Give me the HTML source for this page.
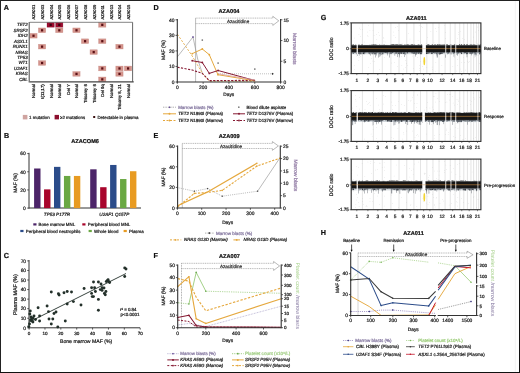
<!DOCTYPE html>
<html><head><meta charset="utf-8"><style>
html,body{margin:0;padding:0;background:#fff;width:520px;height:373px;overflow:hidden}
svg{display:block;font-family:"Liberation Sans",sans-serif;text-rendering:geometricPrecision;filter:blur(0.3px)}
</style></head><body>
<svg width="520" height="373" viewBox="0 0 520 373" font-family="Liberation Sans, sans-serif"><line x1="515.3" y1="0" x2="515.3" y2="373" stroke="#ececec" stroke-width="0.6"/>
<line x1="0" y1="0.5" x2="520" y2="0.5" stroke="#222" stroke-width="1"/>
<line x1="0.5" y1="0" x2="0.5" y2="373" stroke="#222" stroke-width="1"/>
<line x1="0" y1="372.5" x2="520" y2="372.5" stroke="#111" stroke-width="1"/>
<line x1="519.5" y1="0" x2="519.5" y2="373" stroke="#111" stroke-width="1"/>
<text x="3.7" y="10.2" font-size="7.2" text-anchor="start" font-weight="bold" font-style="normal" fill="#111" stroke="#111" stroke-width="0.22">A</text>
<text x="35.5" y="19.6" font-size="4.1" text-anchor="start" font-weight="normal" font-style="normal" fill="#222" stroke="#222" stroke-width="0.22" transform="rotate(-90 35.5 19.6)">AZA001</text>
<text x="44.1" y="19.6" font-size="4.1" text-anchor="start" font-weight="normal" font-style="normal" fill="#222" stroke="#222" stroke-width="0.22" transform="rotate(-90 44.1 19.6)">AZA003</text>
<text x="52.7" y="19.6" font-size="4.1" text-anchor="start" font-weight="normal" font-style="normal" fill="#222" stroke="#222" stroke-width="0.22" transform="rotate(-90 52.7 19.6)">AZA004</text>
<text x="61.3" y="19.6" font-size="4.1" text-anchor="start" font-weight="normal" font-style="normal" fill="#222" stroke="#222" stroke-width="0.22" transform="rotate(-90 61.3 19.6)">AZA005</text>
<text x="69.9" y="19.6" font-size="4.1" text-anchor="start" font-weight="normal" font-style="normal" fill="#222" stroke="#222" stroke-width="0.22" transform="rotate(-90 69.9 19.6)">AZA006</text>
<text x="78.5" y="19.6" font-size="4.1" text-anchor="start" font-weight="normal" font-style="normal" fill="#222" stroke="#222" stroke-width="0.22" transform="rotate(-90 78.5 19.6)">AZA007</text>
<text x="87.1" y="19.6" font-size="4.1" text-anchor="start" font-weight="normal" font-style="normal" fill="#222" stroke="#222" stroke-width="0.22" transform="rotate(-90 87.1 19.6)">AZA008</text>
<text x="95.7" y="19.6" font-size="4.1" text-anchor="start" font-weight="normal" font-style="normal" fill="#222" stroke="#222" stroke-width="0.22" transform="rotate(-90 95.7 19.6)">AZA009</text>
<text x="104.3" y="19.6" font-size="4.1" text-anchor="start" font-weight="normal" font-style="normal" fill="#222" stroke="#222" stroke-width="0.22" transform="rotate(-90 104.3 19.6)">AZA011</text>
<text x="112.9" y="19.6" font-size="4.1" text-anchor="start" font-weight="normal" font-style="normal" fill="#222" stroke="#222" stroke-width="0.22" transform="rotate(-90 112.9 19.6)">AZA013</text>
<text x="121.5" y="19.6" font-size="4.1" text-anchor="start" font-weight="normal" font-style="normal" fill="#222" stroke="#222" stroke-width="0.22" transform="rotate(-90 121.5 19.6)">AZA014</text>
<text x="130.1" y="19.6" font-size="4.1" text-anchor="start" font-weight="normal" font-style="normal" fill="#222" stroke="#222" stroke-width="0.22" transform="rotate(-90 130.1 19.6)">AZA015</text>
<text x="27.7" y="26.325" font-size="4.4" text-anchor="end" font-weight="normal" font-style="italic" fill="#222" stroke="#222" stroke-width="0.22">TET2</text>
<text x="27.7" y="31.775" font-size="4.4" text-anchor="end" font-weight="normal" font-style="italic" fill="#222" stroke="#222" stroke-width="0.22">SRSF2</text>
<text x="27.7" y="37.225" font-size="4.4" text-anchor="end" font-weight="normal" font-style="italic" fill="#222" stroke="#222" stroke-width="0.22">IDH2</text>
<text x="27.7" y="42.675" font-size="4.4" text-anchor="end" font-weight="normal" font-style="italic" fill="#222" stroke="#222" stroke-width="0.22">ASXL1</text>
<text x="27.7" y="48.125" font-size="4.4" text-anchor="end" font-weight="normal" font-style="italic" fill="#222" stroke="#222" stroke-width="0.22">RUNX1</text>
<text x="27.7" y="53.575" font-size="4.4" text-anchor="end" font-weight="normal" font-style="italic" fill="#222" stroke="#222" stroke-width="0.22">NRAS</text>
<text x="27.7" y="59.025" font-size="4.4" text-anchor="end" font-weight="normal" font-style="italic" fill="#222" stroke="#222" stroke-width="0.22">TP53</text>
<text x="27.7" y="64.475" font-size="4.4" text-anchor="end" font-weight="normal" font-style="italic" fill="#222" stroke="#222" stroke-width="0.22">WT1</text>
<text x="27.7" y="69.925" font-size="4.4" text-anchor="end" font-weight="normal" font-style="italic" fill="#222" stroke="#222" stroke-width="0.22">U2AF1</text>
<text x="27.7" y="75.375" font-size="4.4" text-anchor="end" font-weight="normal" font-style="italic" fill="#222" stroke="#222" stroke-width="0.22">KRAS</text>
<text x="27.7" y="80.825" font-size="4.4" text-anchor="end" font-weight="normal" font-style="italic" fill="#222" stroke="#222" stroke-width="0.22">CBL</text>
<text x="35.5" y="84.2" font-size="4.3" text-anchor="end" font-weight="normal" font-style="normal" fill="#222" stroke="#222" stroke-width="0.22" transform="rotate(-90 35.5 84.2)">Normal</text>
<text x="44.1" y="84.2" font-size="4.3" text-anchor="end" font-weight="normal" font-style="normal" fill="#222" stroke="#222" stroke-width="0.22" transform="rotate(-90 44.1 84.2)">t(11;17)</text>
<text x="52.7" y="84.2" font-size="4.3" text-anchor="end" font-weight="normal" font-style="normal" fill="#222" stroke="#222" stroke-width="0.22" transform="rotate(-90 52.7 84.2)">Normal</text>
<text x="61.3" y="84.2" font-size="4.3" text-anchor="end" font-weight="normal" font-style="normal" fill="#222" stroke="#222" stroke-width="0.22" transform="rotate(-90 61.3 84.2)">Normal</text>
<text x="69.9" y="84.2" font-size="4.3" text-anchor="end" font-weight="normal" font-style="normal" fill="#222" stroke="#222" stroke-width="0.22" transform="rotate(-90 69.9 84.2)">Del Y</text>
<text x="78.5" y="84.2" font-size="4.3" text-anchor="end" font-weight="normal" font-style="normal" fill="#222" stroke="#222" stroke-width="0.22" transform="rotate(-90 78.5 84.2)">Normal</text>
<text x="87.1" y="84.2" font-size="4.3" text-anchor="end" font-weight="normal" font-style="normal" fill="#222" stroke="#222" stroke-width="0.22" transform="rotate(-90 87.1 84.2)">Trisomy 8</text>
<text x="95.7" y="84.2" font-size="4.3" text-anchor="end" font-weight="normal" font-style="normal" fill="#222" stroke="#222" stroke-width="0.22" transform="rotate(-90 95.7 84.2)">Trisomy 8</text>
<text x="104.3" y="84.2" font-size="4.3" text-anchor="end" font-weight="normal" font-style="normal" fill="#222" stroke="#222" stroke-width="0.22" transform="rotate(-90 104.3 84.2)">Del 9q</text>
<text x="112.9" y="84.2" font-size="4.3" text-anchor="end" font-weight="normal" font-style="normal" fill="#222" stroke="#222" stroke-width="0.22" transform="rotate(-90 112.9 84.2)">Normal</text>
<text x="121.5" y="84.2" font-size="4.3" text-anchor="end" font-weight="normal" font-style="normal" fill="#222" stroke="#222" stroke-width="0.22" transform="rotate(-90 121.5 84.2)">Trisomy 8, 21</text>
<text x="130.1" y="84.2" font-size="4.3" text-anchor="end" font-weight="normal" font-style="normal" fill="#222" stroke="#222" stroke-width="0.22" transform="rotate(-90 130.1 84.2)">Normal</text>
<rect x="47" y="22.5" width="7.3" height="4.7" fill="#9c0c2e"/>
<rect x="47" y="22.5" width="7.3" height="4.7" fill="none" stroke="#700020" stroke-width="0.5" opacity="0.5"/>
<rect x="49.6" y="23.7" width="2.2" height="2.3" fill="#3a0010"/>
<rect x="55.6" y="22.5" width="7.3" height="4.7" fill="#9c0c2e"/>
<rect x="55.6" y="22.5" width="7.3" height="4.7" fill="none" stroke="#700020" stroke-width="0.5" opacity="0.5"/>
<rect x="58.2" y="23.7" width="2.2" height="2.3" fill="#3a0010"/>
<rect x="98.6" y="22.5" width="7.3" height="4.7" fill="#d4948c"/>
<rect x="98.6" y="22.5" width="7.3" height="4.7" fill="none" stroke="#b87068" stroke-width="0.5" opacity="0.5"/>
<rect x="101.2" y="23.7" width="2.2" height="2.3" fill="#5a1015"/>
<rect x="38.4" y="27.95" width="7.3" height="4.7" fill="#d4948c"/>
<rect x="38.4" y="27.95" width="7.3" height="4.7" fill="none" stroke="#b87068" stroke-width="0.5" opacity="0.5"/>
<rect x="41" y="29.15" width="2.2" height="2.3" fill="#5a1015"/>
<rect x="55.6" y="27.95" width="7.3" height="4.7" fill="#d4948c"/>
<rect x="55.6" y="27.95" width="7.3" height="4.7" fill="none" stroke="#b87068" stroke-width="0.5" opacity="0.5"/>
<rect x="58.2" y="29.15" width="2.2" height="2.3" fill="#5a1015"/>
<rect x="72.8" y="27.95" width="7.3" height="4.7" fill="#d4948c"/>
<rect x="72.8" y="27.95" width="7.3" height="4.7" fill="none" stroke="#b87068" stroke-width="0.5" opacity="0.5"/>
<rect x="75.4" y="29.15" width="2.2" height="2.3" fill="#5a1015"/>
<rect x="29.8" y="33.4" width="7.3" height="4.7" fill="#d4948c"/>
<rect x="29.8" y="33.4" width="7.3" height="4.7" fill="none" stroke="#b87068" stroke-width="0.5" opacity="0.5"/>
<rect x="32.4" y="34.6" width="2.2" height="2.3" fill="#5a1015"/>
<rect x="81.4" y="38.85" width="7.3" height="4.7" fill="#d4948c"/>
<rect x="81.4" y="38.85" width="7.3" height="4.7" fill="none" stroke="#b87068" stroke-width="0.5" opacity="0.5"/>
<rect x="84" y="40.05" width="2.2" height="2.3" fill="#5a1015"/>
<rect x="98.6" y="38.85" width="7.3" height="4.7" fill="#d4948c"/>
<rect x="98.6" y="38.85" width="7.3" height="4.7" fill="none" stroke="#b87068" stroke-width="0.5" opacity="0.5"/>
<rect x="101.2" y="40.05" width="2.2" height="2.3" fill="#5a1015"/>
<rect x="38.4" y="44.3" width="7.3" height="4.7" fill="#d4948c"/>
<rect x="38.4" y="44.3" width="7.3" height="4.7" fill="none" stroke="#b87068" stroke-width="0.5" opacity="0.5"/>
<rect x="41" y="45.5" width="2.2" height="2.3" fill="#5a1015"/>
<rect x="115.8" y="44.3" width="7.3" height="4.7" fill="#d4948c"/>
<rect x="115.8" y="44.3" width="7.3" height="4.7" fill="none" stroke="#b87068" stroke-width="0.5" opacity="0.5"/>
<rect x="118.4" y="45.5" width="2.2" height="2.3" fill="#5a1015"/>
<rect x="90" y="49.75" width="7.3" height="4.7" fill="#d4948c"/>
<rect x="90" y="49.75" width="7.3" height="4.7" fill="none" stroke="#b87068" stroke-width="0.5" opacity="0.5"/>
<rect x="92.6" y="50.95" width="2.2" height="2.3" fill="#5a1015"/>
<rect x="38.4" y="60.65" width="7.3" height="4.7" fill="#d4948c"/>
<rect x="38.4" y="60.65" width="7.3" height="4.7" fill="none" stroke="#b87068" stroke-width="0.5" opacity="0.5"/>
<rect x="41" y="61.85" width="2.2" height="2.3" fill="#5a1015"/>
<rect x="98.6" y="66.1" width="7.3" height="4.7" fill="#d4948c"/>
<rect x="98.6" y="66.1" width="7.3" height="4.7" fill="none" stroke="#b87068" stroke-width="0.5" opacity="0.5"/>
<rect x="101.2" y="67.3" width="2.2" height="2.3" fill="#5a1015"/>
<rect x="115.8" y="66.1" width="7.3" height="4.7" fill="#d4948c"/>
<rect x="115.8" y="66.1" width="7.3" height="4.7" fill="none" stroke="#b87068" stroke-width="0.5" opacity="0.5"/>
<rect x="118.4" y="67.3" width="2.2" height="2.3" fill="#5a1015"/>
<rect x="124.4" y="66.1" width="7.3" height="4.7" fill="#d4948c"/>
<rect x="124.4" y="66.1" width="7.3" height="4.7" fill="none" stroke="#b87068" stroke-width="0.5" opacity="0.5"/>
<rect x="127" y="67.3" width="2.2" height="2.3" fill="#5a1015"/>
<rect x="72.8" y="71.55" width="7.3" height="4.7" fill="#d4948c"/>
<rect x="72.8" y="71.55" width="7.3" height="4.7" fill="none" stroke="#b87068" stroke-width="0.5" opacity="0.5"/>
<rect x="75.4" y="72.75" width="2.2" height="2.3" fill="#5a1015"/>
<rect x="115.8" y="71.55" width="7.3" height="4.7" fill="#d4948c"/>
<rect x="115.8" y="71.55" width="7.3" height="4.7" fill="none" stroke="#b87068" stroke-width="0.5" opacity="0.5"/>
<rect x="118.4" y="72.75" width="2.2" height="2.3" fill="#5a1015"/>
<rect x="98.6" y="77" width="7.3" height="4.7" fill="#d4948c"/>
<rect x="98.6" y="77" width="7.3" height="4.7" fill="none" stroke="#b87068" stroke-width="0.5" opacity="0.5"/>
<rect x="101.2" y="78.2" width="2.2" height="2.3" fill="#5a1015"/>
<line x1="29.7" y1="22.3" x2="132.6" y2="22.3" stroke="#666" stroke-width="0.8"/>
<line x1="132.6" y1="22.3" x2="132.6" y2="81.8" stroke="#555" stroke-width="0.9"/>
<line x1="29.7" y1="81.8" x2="133.7" y2="81.8" stroke="#444" stroke-width="1.2"/>
<line x1="29.2" y1="21.9" x2="29.2" y2="82.4" stroke="#555" stroke-width="1.1"/>
<rect x="22.8" y="114.9" width="4.6" height="4.5" fill="#cfa4a0"/>
<text x="29.1" y="118.8" font-size="4.4" text-anchor="start" font-weight="normal" font-style="normal" fill="#222" stroke="#222" stroke-width="0.22">1 mutation</text>
<rect x="54.6" y="114.9" width="4.4" height="4.5" fill="#8c0f2e"/>
<text x="60" y="118.8" font-size="4.4" text-anchor="start" font-weight="normal" font-style="normal" fill="#222" stroke="#222" stroke-width="0.22">≥2 mutations</text>
<rect x="93.2" y="116" width="2" height="2" fill="#3a1010"/>
<text x="97.4" y="118.8" font-size="4.4" text-anchor="start" font-weight="normal" font-style="normal" fill="#222" stroke="#222" stroke-width="0.22">Detectable in plasma</text>
<text x="4.1" y="137.8" font-size="7.2" text-anchor="start" font-weight="bold" font-style="normal" fill="#111" stroke="#111" stroke-width="0.22">B</text>
<text x="85.1" y="142.8" font-size="5.6" text-anchor="middle" font-weight="bold" font-style="normal" fill="#111" stroke="#111" stroke-width="0.22">AZACOM6</text>
<line x1="29" y1="152.8" x2="29" y2="208.5" stroke="#333" stroke-width="1"/>
<line x1="28.7" y1="208" x2="141" y2="208" stroke="#333" stroke-width="1"/>
<line x1="27.2" y1="208.1" x2="29" y2="208.1" stroke="#333" stroke-width="0.8"/>
<text x="25.8" y="209.9" font-size="4.9" text-anchor="end" font-weight="normal" font-style="normal" fill="#222" stroke="#222" stroke-width="0.22">0</text>
<line x1="27.2" y1="189.933" x2="29" y2="189.933" stroke="#333" stroke-width="0.8"/>
<text x="25.8" y="191.733" font-size="4.9" text-anchor="end" font-weight="normal" font-style="normal" fill="#222" stroke="#222" stroke-width="0.22">20</text>
<line x1="27.2" y1="171.767" x2="29" y2="171.767" stroke="#333" stroke-width="0.8"/>
<text x="25.8" y="173.567" font-size="4.9" text-anchor="end" font-weight="normal" font-style="normal" fill="#222" stroke="#222" stroke-width="0.22">40</text>
<line x1="27.2" y1="153.6" x2="29" y2="153.6" stroke="#333" stroke-width="0.8"/>
<text x="25.8" y="155.4" font-size="4.9" text-anchor="end" font-weight="normal" font-style="normal" fill="#222" stroke="#222" stroke-width="0.22">60</text>
<text x="17.2" y="183" font-size="5" text-anchor="middle" font-weight="normal" font-style="normal" fill="#222" stroke="#222" stroke-width="0.22" transform="rotate(-90 17.2 183)">MAF (%)</text>
<rect x="34.1" y="168.497" width="6.4" height="39.6033" fill="#4c2468"/>
<rect x="44.05" y="189.388" width="6.4" height="18.7117" fill="#a8052c"/>
<rect x="54" y="166.862" width="6.4" height="41.2383" fill="#2b4c8a"/>
<rect x="63.95" y="175.945" width="6.4" height="32.155" fill="#6aa843"/>
<rect x="73.9" y="175.945" width="6.4" height="32.155" fill="#e89b22"/>
<rect x="90.2" y="169.314" width="6.4" height="38.7858" fill="#4c2468"/>
<rect x="100.15" y="187.208" width="6.4" height="20.8917" fill="#a8052c"/>
<rect x="110.1" y="164.954" width="6.4" height="43.1458" fill="#2b4c8a"/>
<rect x="120.05" y="179.033" width="6.4" height="29.0667" fill="#6aa843"/>
<rect x="130" y="171.222" width="6.4" height="36.8783" fill="#e89b22"/>
<text x="57" y="216.3" font-size="4.6" text-anchor="middle" font-weight="normal" font-style="italic" fill="#222" stroke="#222" stroke-width="0.22">TP53 P177R</text>
<text x="114.3" y="216.3" font-size="4.6" text-anchor="middle" font-weight="normal" font-style="italic" fill="#222" stroke="#222" stroke-width="0.22">U2AF1 Q157P</text>
<rect x="33.3" y="223.3" width="3.2" height="2.2" fill="#4c2468"/>
<text x="38.5" y="226.1" font-size="4.4" text-anchor="start" font-weight="normal" font-style="normal" fill="#222" stroke="#222" stroke-width="0.22">Bone marrow MNL</text>
<rect x="82.3" y="223.3" width="3.2" height="2.2" fill="#a8052c"/>
<text x="87.8" y="226.1" font-size="4.4" text-anchor="start" font-weight="normal" font-style="normal" fill="#222" stroke="#222" stroke-width="0.22">Peripheral blood MNL</text>
<rect x="20.3" y="229.9" width="3.2" height="2.2" fill="#2b4c8a"/>
<text x="25.8" y="232.7" font-size="4.4" text-anchor="start" font-weight="normal" font-style="normal" fill="#222" stroke="#222" stroke-width="0.22">Peripheral blood neutrophils</text>
<rect x="88.6" y="229.9" width="3.2" height="2.2" fill="#6aa843"/>
<text x="94" y="232.7" font-size="4.4" text-anchor="start" font-weight="normal" font-style="normal" fill="#222" stroke="#222" stroke-width="0.22">Whole blood</text>
<rect x="123.6" y="229.9" width="3.2" height="2.2" fill="#e89b22"/>
<text x="129" y="232.7" font-size="4.4" text-anchor="start" font-weight="normal" font-style="normal" fill="#222" stroke="#222" stroke-width="0.22">Plasma</text>
<text x="3.7" y="257.6" font-size="7.2" text-anchor="start" font-weight="bold" font-style="normal" fill="#111" stroke="#111" stroke-width="0.22">C</text>
<line x1="29" y1="260" x2="29" y2="328.3" stroke="#333" stroke-width="1"/>
<line x1="28.6" y1="327.8" x2="140" y2="327.8" stroke="#333" stroke-width="1"/>
<line x1="27.2" y1="327.8" x2="29" y2="327.8" stroke="#333" stroke-width="0.8"/>
<text x="26.1" y="329.55" font-size="4.9" text-anchor="end" font-weight="normal" font-style="normal" fill="#222" stroke="#222" stroke-width="0.22">0</text>
<line x1="27.2" y1="318.243" x2="29" y2="318.243" stroke="#333" stroke-width="0.8"/>
<text x="26.1" y="319.993" font-size="4.9" text-anchor="end" font-weight="normal" font-style="normal" fill="#222" stroke="#222" stroke-width="0.22">10</text>
<line x1="27.2" y1="308.686" x2="29" y2="308.686" stroke="#333" stroke-width="0.8"/>
<text x="26.1" y="310.436" font-size="4.9" text-anchor="end" font-weight="normal" font-style="normal" fill="#222" stroke="#222" stroke-width="0.22">20</text>
<line x1="27.2" y1="299.129" x2="29" y2="299.129" stroke="#333" stroke-width="0.8"/>
<text x="26.1" y="300.879" font-size="4.9" text-anchor="end" font-weight="normal" font-style="normal" fill="#222" stroke="#222" stroke-width="0.22">30</text>
<line x1="27.2" y1="289.571" x2="29" y2="289.571" stroke="#333" stroke-width="0.8"/>
<text x="26.1" y="291.321" font-size="4.9" text-anchor="end" font-weight="normal" font-style="normal" fill="#222" stroke="#222" stroke-width="0.22">40</text>
<line x1="27.2" y1="280.014" x2="29" y2="280.014" stroke="#333" stroke-width="0.8"/>
<text x="26.1" y="281.764" font-size="4.9" text-anchor="end" font-weight="normal" font-style="normal" fill="#222" stroke="#222" stroke-width="0.22">50</text>
<line x1="27.2" y1="270.457" x2="29" y2="270.457" stroke="#333" stroke-width="0.8"/>
<text x="26.1" y="272.207" font-size="4.9" text-anchor="end" font-weight="normal" font-style="normal" fill="#222" stroke="#222" stroke-width="0.22">60</text>
<line x1="27.2" y1="260.9" x2="29" y2="260.9" stroke="#333" stroke-width="0.8"/>
<text x="26.1" y="262.65" font-size="4.9" text-anchor="end" font-weight="normal" font-style="normal" fill="#222" stroke="#222" stroke-width="0.22">70</text>
<line x1="29.1" y1="327.8" x2="29.1" y2="329.6" stroke="#333" stroke-width="0.8"/>
<text x="29.1" y="335" font-size="4.6" text-anchor="middle" font-weight="normal" font-style="normal" fill="#222" stroke="#222" stroke-width="0.22">0</text>
<line x1="44.97" y1="327.8" x2="44.97" y2="329.6" stroke="#333" stroke-width="0.8"/>
<text x="44.97" y="335" font-size="4.6" text-anchor="middle" font-weight="normal" font-style="normal" fill="#222" stroke="#222" stroke-width="0.22">10</text>
<line x1="60.84" y1="327.8" x2="60.84" y2="329.6" stroke="#333" stroke-width="0.8"/>
<text x="60.84" y="335" font-size="4.6" text-anchor="middle" font-weight="normal" font-style="normal" fill="#222" stroke="#222" stroke-width="0.22">20</text>
<line x1="76.71" y1="327.8" x2="76.71" y2="329.6" stroke="#333" stroke-width="0.8"/>
<text x="76.71" y="335" font-size="4.6" text-anchor="middle" font-weight="normal" font-style="normal" fill="#222" stroke="#222" stroke-width="0.22">30</text>
<line x1="92.58" y1="327.8" x2="92.58" y2="329.6" stroke="#333" stroke-width="0.8"/>
<text x="92.58" y="335" font-size="4.6" text-anchor="middle" font-weight="normal" font-style="normal" fill="#222" stroke="#222" stroke-width="0.22">40</text>
<line x1="108.45" y1="327.8" x2="108.45" y2="329.6" stroke="#333" stroke-width="0.8"/>
<text x="108.45" y="335" font-size="4.6" text-anchor="middle" font-weight="normal" font-style="normal" fill="#222" stroke="#222" stroke-width="0.22">50</text>
<line x1="124.32" y1="327.8" x2="124.32" y2="329.6" stroke="#333" stroke-width="0.8"/>
<text x="124.32" y="335" font-size="4.6" text-anchor="middle" font-weight="normal" font-style="normal" fill="#222" stroke="#222" stroke-width="0.22">60</text>
<line x1="140.19" y1="327.8" x2="140.19" y2="329.6" stroke="#333" stroke-width="0.8"/>
<text x="140.19" y="335" font-size="4.6" text-anchor="middle" font-weight="normal" font-style="normal" fill="#222" stroke="#222" stroke-width="0.22">70</text>
<text x="86.1" y="343.4" font-size="5.15" text-anchor="middle" font-weight="normal" font-style="normal" fill="#222" stroke="#222" stroke-width="0.22">Bone marrow MAF (%)</text>
<text x="16.9" y="294.7" font-size="5.4" text-anchor="middle" font-weight="normal" font-style="normal" fill="#222" stroke="#222" stroke-width="0.22" transform="rotate(-90 16.9 294.7)">Plasma MAF (%)</text>
<line x1="28.8" y1="322.2" x2="126" y2="273.5" stroke="#22302a" stroke-width="0.9"/>
<circle cx="28.8" cy="326.6" r="1.45" fill="#23302a"/>
<circle cx="30.3" cy="311" r="1.45" fill="#23302a"/>
<circle cx="31.6" cy="319" r="1.45" fill="#23302a"/>
<circle cx="32.1" cy="321" r="1.45" fill="#23302a"/>
<circle cx="32.9" cy="322" r="1.45" fill="#23302a"/>
<circle cx="34" cy="316" r="1.45" fill="#23302a"/>
<circle cx="38.1" cy="307.8" r="1.45" fill="#23302a"/>
<circle cx="39.6" cy="316" r="1.45" fill="#23302a"/>
<circle cx="39.6" cy="321" r="1.45" fill="#23302a"/>
<circle cx="47.1" cy="306" r="1.45" fill="#23302a"/>
<circle cx="48.5" cy="311.6" r="1.45" fill="#23302a"/>
<circle cx="49" cy="319" r="1.45" fill="#23302a"/>
<circle cx="51.3" cy="292" r="1.45" fill="#23302a"/>
<circle cx="51.3" cy="324" r="1.45" fill="#23302a"/>
<circle cx="52.8" cy="319" r="1.45" fill="#23302a"/>
<circle cx="54" cy="313.5" r="1.45" fill="#23302a"/>
<circle cx="56" cy="312" r="1.45" fill="#23302a"/>
<circle cx="57.8" cy="327" r="1.45" fill="#23302a"/>
<circle cx="58.4" cy="293.8" r="1.45" fill="#23302a"/>
<circle cx="59.1" cy="295" r="1.45" fill="#23302a"/>
<circle cx="64" cy="292.8" r="1.45" fill="#23302a"/>
<circle cx="65.3" cy="321" r="1.45" fill="#23302a"/>
<circle cx="67.2" cy="291.5" r="1.45" fill="#23302a"/>
<circle cx="67.2" cy="304" r="1.45" fill="#23302a"/>
<circle cx="71.5" cy="292" r="1.45" fill="#23302a"/>
<circle cx="73.4" cy="301.6" r="1.45" fill="#23302a"/>
<circle cx="81" cy="305" r="1.45" fill="#23302a"/>
<circle cx="84.1" cy="288.5" r="1.45" fill="#23302a"/>
<circle cx="91.6" cy="287.8" r="1.45" fill="#23302a"/>
<circle cx="93.5" cy="282" r="1.45" fill="#23302a"/>
<circle cx="94.6" cy="287.8" r="1.45" fill="#23302a"/>
<circle cx="91.6" cy="293.4" r="1.45" fill="#23302a"/>
<circle cx="92.2" cy="296.6" r="1.45" fill="#23302a"/>
<circle cx="93.5" cy="296.6" r="1.45" fill="#23302a"/>
<circle cx="95.4" cy="291.5" r="1.45" fill="#23302a"/>
<circle cx="98.4" cy="282" r="1.45" fill="#23302a"/>
<circle cx="98.4" cy="299.4" r="1.45" fill="#23302a"/>
<circle cx="98.4" cy="310.3" r="1.45" fill="#23302a"/>
<circle cx="100.3" cy="289.6" r="1.45" fill="#23302a"/>
<circle cx="101" cy="284" r="1.45" fill="#23302a"/>
<circle cx="102.1" cy="287.8" r="1.45" fill="#23302a"/>
<circle cx="102.1" cy="290.4" r="1.45" fill="#23302a"/>
<circle cx="104" cy="288" r="1.45" fill="#23302a"/>
<circle cx="104.4" cy="293.4" r="1.45" fill="#23302a"/>
<circle cx="105.3" cy="294.7" r="1.45" fill="#23302a"/>
<circle cx="105.9" cy="291.5" r="1.45" fill="#23302a"/>
<circle cx="106.3" cy="281.6" r="1.45" fill="#23302a"/>
<circle cx="107.2" cy="280.6" r="1.45" fill="#23302a"/>
<circle cx="108.1" cy="279.7" r="1.45" fill="#23302a"/>
<circle cx="109" cy="281.6" r="1.45" fill="#23302a"/>
<circle cx="109.6" cy="282.5" r="1.45" fill="#23302a"/>
<circle cx="124.7" cy="267.9" r="1.45" fill="#23302a"/>
<circle cx="126" cy="269" r="1.45" fill="#23302a"/>
<circle cx="124.7" cy="276.5" r="1.45" fill="#23302a"/>
<circle cx="29.5" cy="324" r="1.45" fill="#23302a"/>
<circle cx="30.5" cy="320" r="1.45" fill="#23302a"/>
<circle cx="31" cy="317" r="1.45" fill="#23302a"/>
<circle cx="29.8" cy="314" r="1.45" fill="#23302a"/>
<circle cx="33" cy="318" r="1.45" fill="#23302a"/>
<circle cx="35.5" cy="319.5" r="1.45" fill="#23302a"/>
<text x="120" y="310.9" font-size="4.4" text-anchor="start" font-weight="normal" font-style="normal" fill="#222" stroke="#222" stroke-width="0.22">r² = 0.84</text>
<text x="120.6" y="315.6" font-size="4.5" text-anchor="start" font-weight="normal" font-style="normal" fill="#222" stroke="#222" stroke-width="0.22">p&lt;0.0001</text>
<text x="153.5" y="10.2" font-size="7.2" text-anchor="start" font-weight="bold" font-style="normal" fill="#111" stroke="#111" stroke-width="0.22">D</text>
<text x="229" y="13" font-size="5.6" text-anchor="middle" font-weight="bold" font-style="normal" fill="#111" stroke="#111" stroke-width="0.22">AZA004</text>
<line x1="195.6" y1="18.1" x2="195.6" y2="82" stroke="#aaa" stroke-width="0.8"/>
<line x1="195.6" y1="18.1" x2="272.8" y2="18.1" stroke="#8a8a8a" stroke-width="0.6" stroke-dasharray="1.1,0.7"/>
<line x1="195.6" y1="23.6" x2="272.8" y2="23.6" stroke="#8a8a8a" stroke-width="0.6" stroke-dasharray="1.1,0.7"/>
<path d="M272.8 18.1L272.8 16.3L278.8 20.85L272.8 25.4L272.8 23.6" fill="none" stroke="#8a8a8a" stroke-width="0.6" stroke-linejoin="miter"/>
<text x="238.1" y="22.6" font-size="4.6" text-anchor="middle" font-weight="normal" font-style="normal" fill="#333" stroke="#333" stroke-width="0.22">Azacitidine</text>
<polyline points="177.4,56.8 193,37 197.7,59.1 202.3,73.1" fill="none" stroke="#9c9c9c" stroke-width="0.7" stroke-linejoin="round"/>
<line x1="218.1" y1="73.8" x2="272.6" y2="73.8" stroke="#9c9c9c" stroke-width="0.8" stroke-dasharray="0.8,1.2"/>
<path d="M193 35.9L194.1 37L193 38.1L191.9 37Z" fill="#5b3f8f"/>
<path d="M272.6 72.7L273.7 73.8L272.6 74.9L271.5 73.8Z" fill="#333"/>
<polyline points="177.4,34.2 192.2,56 202.3,73.1 209.3,81.2 255.1,81.2" fill="none" stroke="#e9b860" stroke-width="1" stroke-dasharray="2.2,1.4" stroke-linejoin="round"/>
<polyline points="177.4,67.2 192.2,70 202.3,73.4 209.3,80.6 255.1,80.3" fill="none" stroke="#861a33" stroke-width="1.1" stroke-dasharray="2.2,1.4" stroke-linejoin="round"/>
<polyline points="192.2,53.7 202.3,49 209.3,54.7 217.9,74.7 255.1,80.8" fill="none" stroke="#e5a83e" stroke-width="1" stroke-linejoin="round"/>
<polyline points="192.2,60.7 202.3,62.5 209.3,73.4 218.1,70.5 255.1,80.6" fill="none" stroke="#861a33" stroke-width="1" stroke-linejoin="round"/>
<line x1="218.1" y1="73.8" x2="255.1" y2="80" stroke="#d9a0a0" stroke-width="0.8"/>
<circle cx="192.2" cy="53.7" r="0.9" fill="#e5a83e"/>
<circle cx="202.3" cy="49" r="0.9" fill="#e5a83e"/>
<circle cx="209.3" cy="54.7" r="0.9" fill="#e5a83e"/>
<circle cx="217.9" cy="74.7" r="0.9" fill="#e5a83e"/>
<circle cx="192.2" cy="60.7" r="0.9" fill="#861a33"/>
<circle cx="202.3" cy="62.5" r="0.9" fill="#861a33"/>
<circle cx="209.3" cy="73.4" r="0.9" fill="#861a33"/>
<circle cx="218.1" cy="70.5" r="0.9" fill="#861a33"/>
<line x1="201.5" y1="40.1" x2="203.1" y2="40.1" stroke="#444" stroke-width="0.6"/>
<line x1="202.3" y1="39.3" x2="202.3" y2="40.9" stroke="#444" stroke-width="0.6"/>
<line x1="217.3" y1="63.1" x2="218.9" y2="63.1" stroke="#444" stroke-width="0.6"/>
<line x1="218.1" y1="62.3" x2="218.1" y2="63.9" stroke="#444" stroke-width="0.6"/>
<line x1="254" y1="69.1" x2="255.6" y2="69.1" stroke="#444" stroke-width="0.6"/>
<line x1="254.8" y1="68.3" x2="254.8" y2="69.9" stroke="#444" stroke-width="0.6"/>
<line x1="177.3" y1="19" x2="177.3" y2="82.5" stroke="#333" stroke-width="1.1"/>
<line x1="176.8" y1="82" x2="280.6" y2="82" stroke="#333" stroke-width="1.1"/>
<line x1="280.6" y1="19" x2="280.6" y2="82.5" stroke="#333" stroke-width="1.1"/>
<line x1="175.5" y1="82" x2="177.3" y2="82" stroke="#333" stroke-width="0.8"/>
<text x="174.5" y="83.75" font-size="4.9" text-anchor="end" font-weight="normal" font-style="normal" fill="#222" stroke="#222" stroke-width="0.22">0</text>
<line x1="175.5" y1="66.45" x2="177.3" y2="66.45" stroke="#333" stroke-width="0.8"/>
<text x="174.5" y="68.2" font-size="4.9" text-anchor="end" font-weight="normal" font-style="normal" fill="#222" stroke="#222" stroke-width="0.22">10</text>
<line x1="175.5" y1="50.9" x2="177.3" y2="50.9" stroke="#333" stroke-width="0.8"/>
<text x="174.5" y="52.65" font-size="4.9" text-anchor="end" font-weight="normal" font-style="normal" fill="#222" stroke="#222" stroke-width="0.22">20</text>
<line x1="175.5" y1="35.35" x2="177.3" y2="35.35" stroke="#333" stroke-width="0.8"/>
<text x="174.5" y="37.1" font-size="4.9" text-anchor="end" font-weight="normal" font-style="normal" fill="#222" stroke="#222" stroke-width="0.22">30</text>
<line x1="175.5" y1="19.8" x2="177.3" y2="19.8" stroke="#333" stroke-width="0.8"/>
<text x="174.5" y="21.55" font-size="4.9" text-anchor="end" font-weight="normal" font-style="normal" fill="#222" stroke="#222" stroke-width="0.22">40</text>
<line x1="280.6" y1="82" x2="282.4" y2="82" stroke="#333" stroke-width="0.8"/>
<text x="283.4" y="83.75" font-size="4.9" text-anchor="start" font-weight="normal" font-style="normal" fill="#222" stroke="#222" stroke-width="0.22">0</text>
<line x1="280.6" y1="61.2667" x2="282.4" y2="61.2667" stroke="#333" stroke-width="0.8"/>
<text x="283.4" y="63.0167" font-size="4.9" text-anchor="start" font-weight="normal" font-style="normal" fill="#222" stroke="#222" stroke-width="0.22">5</text>
<line x1="280.6" y1="40.5333" x2="282.4" y2="40.5333" stroke="#333" stroke-width="0.8"/>
<text x="283.4" y="42.2833" font-size="4.9" text-anchor="start" font-weight="normal" font-style="normal" fill="#222" stroke="#222" stroke-width="0.22">10</text>
<line x1="280.6" y1="19.8" x2="282.4" y2="19.8" stroke="#333" stroke-width="0.8"/>
<text x="283.4" y="21.55" font-size="4.9" text-anchor="start" font-weight="normal" font-style="normal" fill="#222" stroke="#222" stroke-width="0.22">15</text>
<line x1="177.3" y1="82" x2="177.3" y2="83.8" stroke="#333" stroke-width="0.8"/>
<text x="177.3" y="89" font-size="4.9" text-anchor="middle" font-weight="normal" font-style="normal" fill="#222" stroke="#222" stroke-width="0.22">0</text>
<line x1="203.125" y1="82" x2="203.125" y2="83.8" stroke="#333" stroke-width="0.8"/>
<text x="203.125" y="89" font-size="4.9" text-anchor="middle" font-weight="normal" font-style="normal" fill="#222" stroke="#222" stroke-width="0.22">200</text>
<line x1="228.95" y1="82" x2="228.95" y2="83.8" stroke="#333" stroke-width="0.8"/>
<text x="228.95" y="89" font-size="4.9" text-anchor="middle" font-weight="normal" font-style="normal" fill="#222" stroke="#222" stroke-width="0.22">400</text>
<line x1="254.775" y1="82" x2="254.775" y2="83.8" stroke="#333" stroke-width="0.8"/>
<text x="254.775" y="89" font-size="4.9" text-anchor="middle" font-weight="normal" font-style="normal" fill="#222" stroke="#222" stroke-width="0.22">600</text>
<line x1="280.6" y1="82" x2="280.6" y2="83.8" stroke="#333" stroke-width="0.8"/>
<text x="280.6" y="89" font-size="4.9" text-anchor="middle" font-weight="normal" font-style="normal" fill="#222" stroke="#222" stroke-width="0.22">800</text>
<text x="228.8" y="96.4" font-size="4.8" text-anchor="middle" font-weight="normal" font-style="normal" fill="#222" stroke="#222" stroke-width="0.22">Days</text>
<text x="165.3" y="50" font-size="5" text-anchor="middle" font-weight="normal" font-style="normal" fill="#222" stroke="#222" stroke-width="0.22" transform="rotate(-90 165.3 50)">MAF (%)</text>
<text x="292.9" y="48.8" font-size="5.1" text-anchor="middle" font-weight="normal" font-style="normal" fill="#8f78a3" stroke="#8f78a3" stroke-width="0.22" transform="rotate(90 292.9 48.8)">Marrow blasts</text>
<line x1="163" y1="107.2" x2="176" y2="107.2" stroke="#9c9c9c" stroke-width="0.8" stroke-dasharray="1.4,1"/>
<path d="M169.5 106.2L170.5 107.2L169.5 108.2L168.5 107.2Z" fill="#5b3f8f"/>
<text x="178.2" y="108.7" font-size="4.4" text-anchor="start" font-weight="normal" font-style="normal" fill="#83769f" stroke="#83769f" stroke-width="0.22">Marrow blasts (%)</text>
<line x1="238" y1="107.2" x2="239.6" y2="107.2" stroke="#444" stroke-width="0.6"/>
<line x1="238.8" y1="106.4" x2="238.8" y2="108" stroke="#444" stroke-width="0.6"/>
<text x="246.5" y="108.7" font-size="4.4" text-anchor="start" font-weight="normal" font-style="normal" fill="#222" stroke="#222" stroke-width="0.22">Blood dilute aspirate</text>
<line x1="163" y1="113.8" x2="176" y2="113.8" stroke="#e5a83e" stroke-width="1"/>
<circle cx="169.5" cy="113.8" r="1" fill="#e5a83e"/>
<text x="178.2" y="115.3" font-size="4.4" fill="#222" stroke="#222" stroke-width="0.22"><tspan font-style="italic">TET2</tspan> N1890I (Plasma)</text>
<line x1="233" y1="113.8" x2="245" y2="113.8" stroke="#861a33" stroke-width="1"/>
<circle cx="239" cy="113.8" r="1" fill="#861a33"/>
<text x="246.5" y="115.3" font-size="4.4" fill="#222" stroke="#222" stroke-width="0.22"><tspan font-style="italic">TET2</tspan> D1376V (Plasma)</text>
<line x1="163" y1="120.5" x2="176" y2="120.5" stroke="#e5a83e" stroke-width="1" stroke-dasharray="2,1.5"/>
<circle cx="169.5" cy="120.5" r="0.9" fill="#e5a83e"/>
<text x="178.2" y="122" font-size="4.4" fill="#222" stroke="#222" stroke-width="0.22"><tspan font-style="italic">TET2</tspan> N1890I (Marrow)</text>
<line x1="233" y1="120.5" x2="245" y2="120.5" stroke="#861a33" stroke-width="1" stroke-dasharray="2,1.5"/>
<circle cx="239" cy="120.5" r="0.9" fill="#861a33"/>
<text x="246.5" y="122" font-size="4.4" fill="#222" stroke="#222" stroke-width="0.22"><tspan font-style="italic">TET2</tspan> D1376V (Marrow)</text>
<text x="153.5" y="137.8" font-size="7.2" text-anchor="start" font-weight="bold" font-style="normal" fill="#111" stroke="#111" stroke-width="0.22">E</text>
<text x="229.2" y="138.1" font-size="5.6" text-anchor="middle" font-weight="bold" font-style="normal" fill="#111" stroke="#111" stroke-width="0.22">AZA009</text>
<line x1="182.3" y1="143.5" x2="182.3" y2="208" stroke="#aaa" stroke-width="0.7"/>
<line x1="182.3" y1="143.4" x2="272.4" y2="143.4" stroke="#8a8a8a" stroke-width="0.6" stroke-dasharray="1.1,0.7"/>
<line x1="182.3" y1="148.5" x2="272.4" y2="148.5" stroke="#8a8a8a" stroke-width="0.6" stroke-dasharray="1.1,0.7"/>
<path d="M272.4 143.4L272.4 141.6L278.4 145.95L272.4 150.3L272.4 148.5" fill="none" stroke="#8a8a8a" stroke-width="0.6" stroke-linejoin="miter"/>
<text x="231" y="148.1" font-size="4.6" text-anchor="middle" font-weight="normal" font-style="normal" fill="#333" stroke="#333" stroke-width="0.22">Azacitidine</text>
<polyline points="177.6,187.6 194.3,191.2 207.6,188.6 222.2,196.2 257.6,191.2" fill="none" stroke="#9c9c9c" stroke-width="0.8" stroke-dasharray="0.8,1.1" stroke-linejoin="round"/>
<line x1="257.6" y1="191.2" x2="279.7" y2="158.2" stroke="#9c9c9c" stroke-width="0.7"/>
<path d="M194.3 190.3L195.2 191.2L194.3 192.1L193.4 191.2Z" fill="#444"/>
<path d="M207.6 187.7L208.5 188.6L207.6 189.5L206.7 188.6Z" fill="#444"/>
<path d="M222.2 195.3L223.1 196.2L222.2 197.1L221.3 196.2Z" fill="#444"/>
<path d="M257.6 190.3L258.5 191.2L257.6 192.1L256.7 191.2Z" fill="#444"/>
<polyline points="177.6,206.9 194.3,193.4 207.6,192.5 222.2,190.4 256.9,166.1 279.7,158.2" fill="none" stroke="#e5a83e" stroke-width="1.1" stroke-dasharray="2.2,1.4" stroke-linejoin="round"/>
<polyline points="177.6,205.8 207.6,191.9 256.9,163.3" fill="none" stroke="#e5a83e" stroke-width="1.2" stroke-linejoin="round"/>
<circle cx="177.6" cy="206.9" r="0.8" fill="#e5a83e"/>
<circle cx="194.3" cy="193.4" r="0.8" fill="#e5a83e"/>
<circle cx="222.2" cy="190.4" r="0.8" fill="#e5a83e"/>
<circle cx="256.9" cy="166.1" r="0.8" fill="#e5a83e"/>
<circle cx="279.7" cy="158.2" r="0.8" fill="#e5a83e"/>
<circle cx="256.9" cy="163.3" r="0.8" fill="#e5a83e"/>
<line x1="177.6" y1="145.5" x2="177.6" y2="208.5" stroke="#333" stroke-width="1.1"/>
<line x1="177.1" y1="208" x2="280.3" y2="208" stroke="#333" stroke-width="1.1"/>
<line x1="280.3" y1="145.5" x2="280.3" y2="208.5" stroke="#333" stroke-width="1.1"/>
<line x1="175.8" y1="208" x2="177.6" y2="208" stroke="#333" stroke-width="0.8"/>
<text x="174.8" y="209.75" font-size="4.9" text-anchor="end" font-weight="normal" font-style="normal" fill="#222" stroke="#222" stroke-width="0.22">0</text>
<line x1="175.8" y1="187.4" x2="177.6" y2="187.4" stroke="#333" stroke-width="0.8"/>
<text x="174.8" y="189.15" font-size="4.9" text-anchor="end" font-weight="normal" font-style="normal" fill="#222" stroke="#222" stroke-width="0.22">20</text>
<line x1="175.8" y1="166.8" x2="177.6" y2="166.8" stroke="#333" stroke-width="0.8"/>
<text x="174.8" y="168.55" font-size="4.9" text-anchor="end" font-weight="normal" font-style="normal" fill="#222" stroke="#222" stroke-width="0.22">40</text>
<line x1="175.8" y1="146.2" x2="177.6" y2="146.2" stroke="#333" stroke-width="0.8"/>
<text x="174.8" y="147.95" font-size="4.9" text-anchor="end" font-weight="normal" font-style="normal" fill="#222" stroke="#222" stroke-width="0.22">60</text>
<line x1="280.3" y1="208" x2="282.1" y2="208" stroke="#333" stroke-width="0.8"/>
<text x="283.1" y="209.75" font-size="4.9" text-anchor="start" font-weight="normal" font-style="normal" fill="#222" stroke="#222" stroke-width="0.22">0</text>
<line x1="280.3" y1="195.64" x2="282.1" y2="195.64" stroke="#333" stroke-width="0.8"/>
<text x="283.1" y="197.39" font-size="4.9" text-anchor="start" font-weight="normal" font-style="normal" fill="#222" stroke="#222" stroke-width="0.22">5</text>
<line x1="280.3" y1="183.28" x2="282.1" y2="183.28" stroke="#333" stroke-width="0.8"/>
<text x="283.1" y="185.03" font-size="4.9" text-anchor="start" font-weight="normal" font-style="normal" fill="#222" stroke="#222" stroke-width="0.22">10</text>
<line x1="280.3" y1="170.92" x2="282.1" y2="170.92" stroke="#333" stroke-width="0.8"/>
<text x="283.1" y="172.67" font-size="4.9" text-anchor="start" font-weight="normal" font-style="normal" fill="#222" stroke="#222" stroke-width="0.22">15</text>
<line x1="280.3" y1="158.56" x2="282.1" y2="158.56" stroke="#333" stroke-width="0.8"/>
<text x="283.1" y="160.31" font-size="4.9" text-anchor="start" font-weight="normal" font-style="normal" fill="#222" stroke="#222" stroke-width="0.22">20</text>
<line x1="280.3" y1="146.2" x2="282.1" y2="146.2" stroke="#333" stroke-width="0.8"/>
<text x="283.1" y="147.95" font-size="4.9" text-anchor="start" font-weight="normal" font-style="normal" fill="#222" stroke="#222" stroke-width="0.22">25</text>
<line x1="177.4" y1="208" x2="177.4" y2="209.8" stroke="#333" stroke-width="0.8"/>
<text x="177.4" y="215" font-size="4.9" text-anchor="middle" font-weight="normal" font-style="normal" fill="#222" stroke="#222" stroke-width="0.22">0</text>
<line x1="201.725" y1="208" x2="201.725" y2="209.8" stroke="#333" stroke-width="0.8"/>
<text x="201.725" y="215" font-size="4.9" text-anchor="middle" font-weight="normal" font-style="normal" fill="#222" stroke="#222" stroke-width="0.22">100</text>
<line x1="226.05" y1="208" x2="226.05" y2="209.8" stroke="#333" stroke-width="0.8"/>
<text x="226.05" y="215" font-size="4.9" text-anchor="middle" font-weight="normal" font-style="normal" fill="#222" stroke="#222" stroke-width="0.22">200</text>
<line x1="250.375" y1="208" x2="250.375" y2="209.8" stroke="#333" stroke-width="0.8"/>
<text x="250.375" y="215" font-size="4.9" text-anchor="middle" font-weight="normal" font-style="normal" fill="#222" stroke="#222" stroke-width="0.22">300</text>
<line x1="274.7" y1="208" x2="274.7" y2="209.8" stroke="#333" stroke-width="0.8"/>
<text x="274.7" y="215" font-size="4.9" text-anchor="middle" font-weight="normal" font-style="normal" fill="#222" stroke="#222" stroke-width="0.22">400</text>
<text x="227.6" y="224" font-size="4.8" text-anchor="middle" font-weight="normal" font-style="normal" fill="#222" stroke="#222" stroke-width="0.22">Days</text>
<text x="165.2" y="177" font-size="4.8" text-anchor="middle" font-weight="normal" font-style="normal" fill="#222" stroke="#222" stroke-width="0.22" transform="rotate(-90 165.2 177)">MAF (%)</text>
<text x="293.6" y="175.4" font-size="5.1" text-anchor="middle" font-weight="normal" font-style="normal" fill="#8f78a3" stroke="#8f78a3" stroke-width="0.22" transform="rotate(90 293.6 175.4)">Marrow blasts</text>
<line x1="205" y1="233.1" x2="213.7" y2="233.1" stroke="#9c9c9c" stroke-width="0.8" stroke-dasharray="1.4,1"/>
<path d="M209.3 232L210.4 233.1L209.3 234.2L208.2 233.1Z" fill="#333"/>
<text x="216" y="234.6" font-size="4.5" text-anchor="start" font-weight="normal" font-style="normal" fill="#83769f" stroke="#83769f" stroke-width="0.22">Marrow blasts (%)</text>
<line x1="170" y1="239.9" x2="181.3" y2="239.9" stroke="#e5a83e" stroke-width="1" stroke-dasharray="2,1.5"/>
<circle cx="175.6" cy="239.9" r="0.9" fill="#e5a83e"/>
<text x="184" y="241.4" font-size="4.4" fill="#222" stroke="#222" stroke-width="0.22"><tspan font-style="italic">NRAS G13D (Marrow)</tspan> </text>
<line x1="233.4" y1="239.9" x2="240" y2="239.9" stroke="#e5a83e" stroke-width="1"/>
<circle cx="236.7" cy="239.9" r="0.9" fill="#e5a83e"/>
<text x="243.6" y="241.4" font-size="4.4" fill="#222" stroke="#222" stroke-width="0.22"><tspan font-style="italic">NRAS G13D (Plasma)</tspan> </text>
<text x="153.5" y="257.5" font-size="7.2" text-anchor="start" font-weight="bold" font-style="normal" fill="#111" stroke="#111" stroke-width="0.22">F</text>
<text x="229.5" y="257.7" font-size="5.6" text-anchor="middle" font-weight="bold" font-style="normal" fill="#111" stroke="#111" stroke-width="0.22">AZA007</text>
<line x1="181.5" y1="263.3" x2="181.5" y2="327.7" stroke="#888" stroke-width="0.8" stroke-dasharray="0.8,0.8"/>
<line x1="181.5" y1="263.3" x2="273.6" y2="263.3" stroke="#8a8a8a" stroke-width="0.6" stroke-dasharray="1.1,0.7"/>
<line x1="181.5" y1="268.6" x2="273.6" y2="268.6" stroke="#8a8a8a" stroke-width="0.6" stroke-dasharray="1.1,0.7"/>
<path d="M273.6 263.3L273.6 261.5L279.6 265.95L273.6 270.4L273.6 268.6" fill="none" stroke="#8a8a8a" stroke-width="0.6" stroke-linejoin="miter"/>
<text x="231" y="267.6" font-size="4.6" text-anchor="middle" font-weight="normal" font-style="normal" fill="#333" stroke="#333" stroke-width="0.22">Azacitidine</text>
<polyline points="177.7,302.7 188.9,304" fill="none" stroke="#8cc46a" stroke-width="0.8" stroke-dasharray="0.8,1" stroke-linejoin="round"/>
<polyline points="188.9,304 196.2,272.4 205.8,291.2" fill="none" stroke="#8cc46a" stroke-width="0.8" stroke-linejoin="round"/>
<line x1="205.8" y1="291.2" x2="281.2" y2="293.3" stroke="#8cc46a" stroke-width="0.8" stroke-dasharray="0.8,1"/>
<circle cx="177.7" cy="302.7" r="0.8" fill="#6aa84f"/>
<circle cx="188.9" cy="304" r="0.8" fill="#6aa84f"/>
<circle cx="196.2" cy="272.4" r="0.8" fill="#6aa84f"/>
<circle cx="205.8" cy="291.2" r="0.8" fill="#6aa84f"/>
<polyline points="177.7,278.6 188.9,281.2 196.2,297.3 205.8,310.8 281.2,288" fill="none" stroke="#e5a83e" stroke-width="1.1" stroke-dasharray="2.4,1.5" stroke-linejoin="round"/>
<polyline points="177.7,286.6 188.9,276.7 196.2,318.8 205.8,323.4 281.2,298.7" fill="none" stroke="#e5a83e" stroke-width="1.1" stroke-linejoin="round"/>
<polyline points="177.7,325 188.9,323.5 205.8,326.5 281.2,306.2" fill="none" stroke="#a9a3c9" stroke-width="0.8" stroke-dasharray="0.8,0.8" stroke-linejoin="round"/>
<polyline points="177.7,317.5 188.9,315.3 196.2,325.5 205.8,327 281.2,327.2" fill="none" stroke="#861a33" stroke-width="1.1" stroke-linejoin="round"/>
<polyline points="177.7,320 188.9,321.5 196.2,327 281.2,327.4" fill="none" stroke="#861a33" stroke-width="1" stroke-dasharray="2,1.4" stroke-linejoin="round"/>
<circle cx="177.7" cy="317.5" r="0.9" fill="#861a33"/>
<circle cx="188.9" cy="315.3" r="0.9" fill="#861a33"/>
<circle cx="196.2" cy="325.5" r="0.9" fill="#861a33"/>
<circle cx="205.8" cy="327" r="0.9" fill="#861a33"/>
<circle cx="177.7" cy="286.6" r="0.8" fill="#e5a83e"/>
<circle cx="188.9" cy="276.7" r="0.8" fill="#e5a83e"/>
<circle cx="196.2" cy="318.8" r="0.8" fill="#e5a83e"/>
<circle cx="205.8" cy="323.4" r="0.8" fill="#e5a83e"/>
<line x1="177.7" y1="264.5" x2="177.7" y2="328.2" stroke="#333" stroke-width="1.1"/>
<line x1="177.2" y1="327.7" x2="281.2" y2="327.7" stroke="#333" stroke-width="1.1"/>
<line x1="281.2" y1="264.5" x2="281.2" y2="328.2" stroke="#333" stroke-width="1.1"/>
<line x1="175.9" y1="327.7" x2="177.7" y2="327.7" stroke="#333" stroke-width="0.8"/>
<text x="174.9" y="329.45" font-size="4.9" text-anchor="end" font-weight="normal" font-style="normal" fill="#222" stroke="#222" stroke-width="0.22">0</text>
<line x1="175.9" y1="315.18" x2="177.7" y2="315.18" stroke="#333" stroke-width="0.8"/>
<text x="174.9" y="316.93" font-size="4.9" text-anchor="end" font-weight="normal" font-style="normal" fill="#222" stroke="#222" stroke-width="0.22">10</text>
<line x1="175.9" y1="302.66" x2="177.7" y2="302.66" stroke="#333" stroke-width="0.8"/>
<text x="174.9" y="304.41" font-size="4.9" text-anchor="end" font-weight="normal" font-style="normal" fill="#222" stroke="#222" stroke-width="0.22">20</text>
<line x1="175.9" y1="290.14" x2="177.7" y2="290.14" stroke="#333" stroke-width="0.8"/>
<text x="174.9" y="291.89" font-size="4.9" text-anchor="end" font-weight="normal" font-style="normal" fill="#222" stroke="#222" stroke-width="0.22">30</text>
<line x1="175.9" y1="277.62" x2="177.7" y2="277.62" stroke="#333" stroke-width="0.8"/>
<text x="174.9" y="279.37" font-size="4.9" text-anchor="end" font-weight="normal" font-style="normal" fill="#222" stroke="#222" stroke-width="0.22">40</text>
<line x1="175.9" y1="265.1" x2="177.7" y2="265.1" stroke="#333" stroke-width="0.8"/>
<text x="174.9" y="266.85" font-size="4.9" text-anchor="end" font-weight="normal" font-style="normal" fill="#222" stroke="#222" stroke-width="0.22">50</text>
<line x1="281.2" y1="265.1" x2="283" y2="265.1" stroke="#333" stroke-width="0.8"/>
<text x="284" y="266.85" font-size="4.6" text-anchor="start" font-weight="normal" font-style="normal" fill="#222" stroke="#222" stroke-width="0.22">400</text>
<line x1="281.2" y1="275" x2="283" y2="275" stroke="#333" stroke-width="0.8"/>
<text x="284" y="276.75" font-size="4.6" text-anchor="start" font-weight="normal" font-style="normal" fill="#222" stroke="#222" stroke-width="0.22">300</text>
<line x1="281.2" y1="285.3" x2="283" y2="285.3" stroke="#333" stroke-width="0.8"/>
<text x="284" y="287.05" font-size="4.6" text-anchor="start" font-weight="normal" font-style="normal" fill="#222" stroke="#222" stroke-width="0.22">200</text>
<line x1="281.2" y1="294.7" x2="283" y2="294.7" stroke="#333" stroke-width="0.8"/>
<text x="284" y="296.45" font-size="4.6" text-anchor="start" font-weight="normal" font-style="normal" fill="#222" stroke="#222" stroke-width="0.22">100</text>
<line x1="281.2" y1="298.7" x2="283" y2="298.7" stroke="#333" stroke-width="0.8"/>
<text x="284" y="300.45" font-size="4.6" text-anchor="start" font-weight="normal" font-style="normal" fill="#222" stroke="#222" stroke-width="0.22">20</text>
<line x1="281.2" y1="306.2" x2="283" y2="306.2" stroke="#333" stroke-width="0.8"/>
<text x="284" y="307.95" font-size="4.6" text-anchor="start" font-weight="normal" font-style="normal" fill="#222" stroke="#222" stroke-width="0.22">15</text>
<line x1="281.2" y1="313.5" x2="283" y2="313.5" stroke="#333" stroke-width="0.8"/>
<text x="284" y="315.25" font-size="4.6" text-anchor="start" font-weight="normal" font-style="normal" fill="#222" stroke="#222" stroke-width="0.22">10</text>
<line x1="281.2" y1="320.7" x2="283" y2="320.7" stroke="#333" stroke-width="0.8"/>
<text x="284" y="322.45" font-size="4.6" text-anchor="start" font-weight="normal" font-style="normal" fill="#222" stroke="#222" stroke-width="0.22">5</text>
<line x1="281.2" y1="327.7" x2="283" y2="327.7" stroke="#333" stroke-width="0.8"/>
<text x="284" y="329.45" font-size="4.6" text-anchor="start" font-weight="normal" font-style="normal" fill="#222" stroke="#222" stroke-width="0.22">0</text>
<line x1="177.7" y1="327.7" x2="177.7" y2="329.5" stroke="#333" stroke-width="0.8"/>
<text x="177.7" y="334.7" font-size="4.9" text-anchor="middle" font-weight="normal" font-style="normal" fill="#222" stroke="#222" stroke-width="0.22">0</text>
<line x1="205.8" y1="327.7" x2="205.8" y2="329.5" stroke="#333" stroke-width="0.8"/>
<text x="205.8" y="334.7" font-size="4.9" text-anchor="middle" font-weight="normal" font-style="normal" fill="#222" stroke="#222" stroke-width="0.22">200</text>
<line x1="236.1" y1="327.7" x2="236.1" y2="329.5" stroke="#333" stroke-width="0.8"/>
<text x="236.1" y="334.7" font-size="4.9" text-anchor="middle" font-weight="normal" font-style="normal" fill="#222" stroke="#222" stroke-width="0.22">400</text>
<line x1="263.5" y1="327.7" x2="263.5" y2="329.5" stroke="#333" stroke-width="0.8"/>
<text x="263.5" y="334.7" font-size="4.9" text-anchor="middle" font-weight="normal" font-style="normal" fill="#222" stroke="#222" stroke-width="0.22">600</text>
<text x="227.7" y="342" font-size="4.8" text-anchor="middle" font-weight="normal" font-style="normal" fill="#222" stroke="#222" stroke-width="0.22">Days</text>
<text x="165.2" y="296" font-size="4.8" text-anchor="middle" font-weight="normal" font-style="normal" fill="#222" stroke="#222" stroke-width="0.22" transform="rotate(-90 165.2 296)">MAF (%)</text>
<text x="295.6" y="295.7" font-size="5.2" text-anchor="middle" transform="rotate(90 295.6 295.7)"><tspan fill="#a3cf86">Platelet count</tspan><tspan fill="#83769f"> /marrow blasts</tspan></text>
<line x1="167.3" y1="353.7" x2="178.8" y2="353.7" stroke="#a9a3c9" stroke-width="0.8" stroke-dasharray="1.2,1"/>
<path d="M173 352.7L174 353.7L173 354.7L172 353.7Z" fill="#5b3f8f"/>
<text x="180.3" y="355.2" font-size="4.4" text-anchor="start" font-weight="normal" font-style="normal" fill="#83769f" stroke="#83769f" stroke-width="0.22">Marrow blasts (%)</text>
<line x1="232" y1="353.7" x2="243.7" y2="353.7" stroke="#8cc46a" stroke-width="0.8" stroke-dasharray="1.2,1"/>
<circle cx="237.8" cy="353.7" r="0.9" fill="#6aa84f"/>
<text x="245" y="355.2" font-size="4.6" text-anchor="start" font-weight="normal" font-style="normal" fill="#a3cf86" stroke="#a3cf86" stroke-width="0.22">Platelet count (x10⁹/L)</text>
<line x1="167.3" y1="359.9" x2="178.8" y2="359.9" stroke="#861a33" stroke-width="1"/>
<circle cx="173" cy="359.9" r="1" fill="#861a33"/>
<text x="180.3" y="361.4" font-size="4.4" fill="#222" stroke="#222" stroke-width="0.22"><tspan font-style="italic">KRAS A59G (Plasma)</tspan> </text>
<line x1="232" y1="359.9" x2="243.7" y2="359.9" stroke="#e5a83e" stroke-width="1"/>
<circle cx="237.8" cy="359.9" r="1" fill="#e5a83e"/>
<text x="245" y="361.4" font-size="4.4" fill="#222" stroke="#222" stroke-width="0.22"><tspan font-style="italic">SRSF2 P95H (Plasma)</tspan> </text>
<line x1="167.3" y1="365.6" x2="178.8" y2="365.6" stroke="#861a33" stroke-width="1" stroke-dasharray="2,1.5"/>
<circle cx="173" cy="365.6" r="0.9" fill="#861a33"/>
<text x="180.3" y="367.1" font-size="4.4" fill="#222" stroke="#222" stroke-width="0.22"><tspan font-style="italic">KRAS A59G (Marrow)</tspan> </text>
<line x1="232" y1="365.6" x2="243.7" y2="365.6" stroke="#e5a83e" stroke-width="1" stroke-dasharray="2,1.5"/>
<circle cx="237.8" cy="365.6" r="0.9" fill="#e5a83e"/>
<text x="245" y="367.1" font-size="4.4" fill="#222" stroke="#222" stroke-width="0.22"><tspan font-style="italic">SRSF2 P95H (Marrow)</tspan> </text>
<text x="320.8" y="19.8" font-size="7.2" text-anchor="start" font-weight="bold" font-style="normal" fill="#111" stroke="#111" stroke-width="0.22">G</text>
<text x="416.3" y="19.6" font-size="5.6" text-anchor="middle" font-weight="bold" font-style="normal" fill="#111" stroke="#111" stroke-width="0.22">AZA011</text>
<line x1="362.418" y1="22.9" x2="362.418" y2="73.6" stroke="#c8c8c8" stroke-width="0.5"/>
<line x1="373.365" y1="22.9" x2="373.365" y2="73.6" stroke="#c8c8c8" stroke-width="0.5"/>
<line x1="382.285" y1="22.9" x2="382.285" y2="73.6" stroke="#c8c8c8" stroke-width="0.5"/>
<line x1="390.889" y1="22.9" x2="390.889" y2="73.6" stroke="#c8c8c8" stroke-width="0.5"/>
<line x1="399.043" y1="22.9" x2="399.043" y2="73.6" stroke="#c8c8c8" stroke-width="0.5"/>
<line x1="406.747" y1="22.9" x2="406.747" y2="73.6" stroke="#c8c8c8" stroke-width="0.5"/>
<line x1="413.91" y1="22.9" x2="413.91" y2="73.6" stroke="#c8c8c8" stroke-width="0.5"/>
<line x1="420.487" y1="22.9" x2="420.487" y2="73.6" stroke="#c8c8c8" stroke-width="0.5"/>
<line x1="426.84" y1="22.9" x2="426.84" y2="73.6" stroke="#c8c8c8" stroke-width="0.5"/>
<line x1="432.966" y1="22.9" x2="432.966" y2="73.6" stroke="#c8c8c8" stroke-width="0.5"/>
<line x1="439.048" y1="22.9" x2="439.048" y2="73.6" stroke="#c8c8c8" stroke-width="0.5"/>
<line x1="445.085" y1="22.9" x2="445.085" y2="73.6" stroke="#c8c8c8" stroke-width="0.5"/>
<line x1="450.266" y1="22.9" x2="450.266" y2="73.6" stroke="#c8c8c8" stroke-width="0.5"/>
<line x1="455.086" y1="22.9" x2="455.086" y2="73.6" stroke="#c8c8c8" stroke-width="0.5"/>
<line x1="459.726" y1="22.9" x2="459.726" y2="73.6" stroke="#c8c8c8" stroke-width="0.5"/>
<line x1="463.781" y1="22.9" x2="463.781" y2="73.6" stroke="#c8c8c8" stroke-width="0.5"/>
<line x1="467.43" y1="22.9" x2="467.43" y2="73.6" stroke="#c8c8c8" stroke-width="0.5"/>
<line x1="470.944" y1="22.9" x2="470.944" y2="73.6" stroke="#c8c8c8" stroke-width="0.5"/>
<line x1="473.602" y1="22.9" x2="473.602" y2="73.6" stroke="#c8c8c8" stroke-width="0.5"/>
<line x1="476.44" y1="22.9" x2="476.44" y2="73.6" stroke="#c8c8c8" stroke-width="0.5"/>
<line x1="478.602" y1="22.9" x2="478.602" y2="73.6" stroke="#c8c8c8" stroke-width="0.5"/>
<circle cx="393.201" cy="31.9447" r="0.25" fill="#b0b0b0"/>
<circle cx="435.626" cy="28.2828" r="0.25" fill="#b0b0b0"/>
<circle cx="420.704" cy="41.9777" r="0.25" fill="#b0b0b0"/>
<circle cx="360.26" cy="29.1363" r="0.25" fill="#b0b0b0"/>
<circle cx="406.26" cy="63.514" r="0.25" fill="#b0b0b0"/>
<circle cx="367.257" cy="35.3253" r="0.25" fill="#b0b0b0"/>
<circle cx="432.578" cy="69.158" r="0.25" fill="#b0b0b0"/>
<circle cx="426.05" cy="43.425" r="0.25" fill="#b0b0b0"/>
<circle cx="477.82" cy="27.0754" r="0.25" fill="#b0b0b0"/>
<circle cx="462.543" cy="38.4248" r="0.25" fill="#b0b0b0"/>
<circle cx="369.91" cy="30.4009" r="0.25" fill="#b0b0b0"/>
<circle cx="391.21" cy="63.0131" r="0.25" fill="#b0b0b0"/>
<circle cx="434.067" cy="42.291" r="0.25" fill="#b0b0b0"/>
<circle cx="422.242" cy="27.8322" r="0.25" fill="#b0b0b0"/>
<circle cx="358.93" cy="34.5183" r="0.25" fill="#b0b0b0"/>
<circle cx="409.978" cy="38.8991" r="0.25" fill="#b0b0b0"/>
<circle cx="454.231" cy="57.543" r="0.25" fill="#b0b0b0"/>
<circle cx="419.318" cy="65.7689" r="0.25" fill="#b0b0b0"/>
<circle cx="445.809" cy="38.3467" r="0.25" fill="#b0b0b0"/>
<circle cx="478.329" cy="30.4137" r="0.25" fill="#b0b0b0"/>
<circle cx="405.431" cy="60.2585" r="0.25" fill="#b0b0b0"/>
<circle cx="356.285" cy="56.1057" r="0.25" fill="#b0b0b0"/>
<circle cx="464.749" cy="39.552" r="0.25" fill="#b0b0b0"/>
<circle cx="460.144" cy="69.0166" r="0.25" fill="#b0b0b0"/>
<circle cx="412.691" cy="55.9159" r="0.25" fill="#b0b0b0"/>
<circle cx="359.069" cy="57.6597" r="0.25" fill="#b0b0b0"/>
<circle cx="435.133" cy="71.2776" r="0.25" fill="#b0b0b0"/>
<circle cx="457.804" cy="38.1906" r="0.25" fill="#b0b0b0"/>
<circle cx="401.237" cy="56.1261" r="0.25" fill="#b0b0b0"/>
<circle cx="372.996" cy="30.3684" r="0.25" fill="#b0b0b0"/>
<circle cx="358.846" cy="60.7765" r="0.25" fill="#b0b0b0"/>
<circle cx="367.975" cy="36.4636" r="0.25" fill="#b0b0b0"/>
<circle cx="401.906" cy="65.5954" r="0.25" fill="#b0b0b0"/>
<circle cx="422.462" cy="66.154" r="0.25" fill="#b0b0b0"/>
<circle cx="457.461" cy="65.2481" r="0.25" fill="#b0b0b0"/>
<circle cx="397.733" cy="66.1918" r="0.25" fill="#b0b0b0"/>
<circle cx="475.418" cy="31.948" r="0.25" fill="#b0b0b0"/>
<circle cx="374.055" cy="35.7324" r="0.25" fill="#b0b0b0"/>
<circle cx="427.609" cy="37.1703" r="0.25" fill="#b0b0b0"/>
<circle cx="474.817" cy="57.1461" r="0.25" fill="#b0b0b0"/>
<circle cx="438.903" cy="27.4215" r="0.25" fill="#b0b0b0"/>
<circle cx="467.869" cy="61.3246" r="0.25" fill="#b0b0b0"/>
<circle cx="464.624" cy="62.1607" r="0.25" fill="#b0b0b0"/>
<circle cx="402.092" cy="43.5323" r="0.25" fill="#b0b0b0"/>
<circle cx="364.629" cy="54.5213" r="0.25" fill="#b0b0b0"/>
<circle cx="359.274" cy="28.0451" r="0.25" fill="#b0b0b0"/>
<circle cx="378.277" cy="32.4796" r="0.25" fill="#b0b0b0"/>
<circle cx="395.305" cy="27.3553" r="0.25" fill="#b0b0b0"/>
<circle cx="351.23" cy="31.9641" r="0.25" fill="#b0b0b0"/>
<circle cx="364.36" cy="41.8806" r="0.25" fill="#b0b0b0"/>
<circle cx="354.507" cy="65.7313" r="0.25" fill="#b0b0b0"/>
<circle cx="430.845" cy="31.8373" r="0.25" fill="#b0b0b0"/>
<circle cx="383.918" cy="41.1231" r="0.25" fill="#b0b0b0"/>
<circle cx="398.432" cy="30.6367" r="0.25" fill="#b0b0b0"/>
<circle cx="461.307" cy="71.2779" r="0.25" fill="#b0b0b0"/>
<circle cx="362.339" cy="29.6722" r="0.25" fill="#b0b0b0"/>
<circle cx="395.64" cy="37.2641" r="0.25" fill="#b0b0b0"/>
<circle cx="458.703" cy="32.4392" r="0.25" fill="#b0b0b0"/>
<circle cx="354.196" cy="69.311" r="0.25" fill="#b0b0b0"/>
<circle cx="419.715" cy="31.7463" r="0.25" fill="#b0b0b0"/>
<circle cx="421.649" cy="26.1629" r="0.25" fill="#b0b0b0"/>
<circle cx="419.696" cy="70.596" r="0.25" fill="#b0b0b0"/>
<circle cx="463.173" cy="57.4124" r="0.25" fill="#b0b0b0"/>
<circle cx="385.067" cy="42.0249" r="0.25" fill="#b0b0b0"/>
<circle cx="372.865" cy="60.9495" r="0.25" fill="#b0b0b0"/>
<circle cx="420.277" cy="61.2819" r="0.25" fill="#b0b0b0"/>
<circle cx="393.958" cy="35.316" r="0.25" fill="#b0b0b0"/>
<circle cx="456.453" cy="70.896" r="0.25" fill="#b0b0b0"/>
<circle cx="461.786" cy="62.5439" r="0.25" fill="#b0b0b0"/>
<circle cx="457.338" cy="59.4521" r="0.25" fill="#b0b0b0"/>
<circle cx="397.316" cy="26.2534" r="0.25" fill="#b0b0b0"/>
<circle cx="354.823" cy="37.9488" r="0.25" fill="#b0b0b0"/>
<circle cx="384.815" cy="57.2408" r="0.25" fill="#b0b0b0"/>
<circle cx="472.732" cy="71.0414" r="0.25" fill="#b0b0b0"/>
<circle cx="475.064" cy="41.9285" r="0.25" fill="#b0b0b0"/>
<circle cx="379.794" cy="35.4937" r="0.25" fill="#b0b0b0"/>
<circle cx="376.713" cy="34.4442" r="0.25" fill="#b0b0b0"/>
<circle cx="432.141" cy="66.9444" r="0.25" fill="#b0b0b0"/>
<circle cx="435.891" cy="62.2434" r="0.25" fill="#b0b0b0"/>
<circle cx="362.196" cy="55.7493" r="0.25" fill="#b0b0b0"/>
<circle cx="469.198" cy="61.4335" r="0.25" fill="#b0b0b0"/>
<circle cx="374.354" cy="61.7526" r="0.25" fill="#b0b0b0"/>
<circle cx="394.327" cy="62.2985" r="0.25" fill="#b0b0b0"/>
<circle cx="477.224" cy="43.3857" r="0.25" fill="#b0b0b0"/>
<circle cx="403.26" cy="69.1154" r="0.25" fill="#b0b0b0"/>
<circle cx="445.206" cy="32.8392" r="0.25" fill="#b0b0b0"/>
<circle cx="367.677" cy="31.9587" r="0.25" fill="#b0b0b0"/>
<circle cx="468.559" cy="62.5636" r="0.25" fill="#b0b0b0"/>
<circle cx="370.159" cy="63.498" r="0.25" fill="#b0b0b0"/>
<circle cx="478.346" cy="55.5944" r="0.25" fill="#b0b0b0"/>
<circle cx="368.189" cy="25.5651" r="0.25" fill="#b0b0b0"/>
<circle cx="477.124" cy="55.2398" r="0.25" fill="#b0b0b0"/>
<circle cx="419.498" cy="68.5003" r="0.25" fill="#b0b0b0"/>
<circle cx="407.465" cy="65.6104" r="0.25" fill="#b0b0b0"/>
<circle cx="458.352" cy="34.7557" r="0.25" fill="#b0b0b0"/>
<circle cx="383.863" cy="38.5815" r="0.25" fill="#b0b0b0"/>
<circle cx="368.2" cy="67.3978" r="0.25" fill="#b0b0b0"/>
<circle cx="426.86" cy="67.1307" r="0.25" fill="#b0b0b0"/>
<circle cx="405.755" cy="67.7576" r="0.25" fill="#b0b0b0"/>
<circle cx="419.099" cy="25.7735" r="0.25" fill="#b0b0b0"/>
<circle cx="408.284" cy="33.4511" r="0.25" fill="#b0b0b0"/>
<circle cx="351.71" cy="62.2213" r="0.25" fill="#b0b0b0"/>
<circle cx="423.241" cy="61.5255" r="0.25" fill="#b0b0b0"/>
<circle cx="383.43" cy="37.832" r="0.25" fill="#b0b0b0"/>
<circle cx="424.056" cy="60.3917" r="0.25" fill="#b0b0b0"/>
<circle cx="417.627" cy="57.2505" r="0.25" fill="#b0b0b0"/>
<circle cx="413.201" cy="68.8681" r="0.25" fill="#b0b0b0"/>
<circle cx="441.889" cy="65.8342" r="0.25" fill="#b0b0b0"/>
<circle cx="473.401" cy="37.023" r="0.25" fill="#b0b0b0"/>
<circle cx="423.769" cy="68.9506" r="0.25" fill="#b0b0b0"/>
<circle cx="460.148" cy="31.3042" r="0.25" fill="#b0b0b0"/>
<circle cx="360.609" cy="36.1378" r="0.25" fill="#b0b0b0"/>
<circle cx="360.684" cy="56.1643" r="0.25" fill="#b0b0b0"/>
<circle cx="452.877" cy="66.7911" r="0.25" fill="#b0b0b0"/>
<circle cx="371.232" cy="58.3428" r="0.25" fill="#b0b0b0"/>
<circle cx="436.835" cy="31.5771" r="0.25" fill="#b0b0b0"/>
<circle cx="465.703" cy="70.0843" r="0.25" fill="#b0b0b0"/>
<circle cx="379.681" cy="69.3819" r="0.25" fill="#b0b0b0"/>
<circle cx="479.586" cy="63.7752" r="0.25" fill="#b0b0b0"/>
<circle cx="418.074" cy="40.7367" r="0.25" fill="#b0b0b0"/>
<circle cx="376.588" cy="39.7751" r="0.25" fill="#b0b0b0"/>
<circle cx="444.863" cy="25.8099" r="0.25" fill="#b0b0b0"/>
<rect x="351.2" y="44.8" width="129.7" height="9.4" fill="#9aa3ad" opacity="0.45"/>
<rect x="351.2" y="45.3" width="129.7" height="6.9" fill="#161616"/>
<rect x="351.2" y="44.8595" width="1.16486" height="0.440458" fill="#2a2a2a"/>
<rect x="351.2" y="52.2" width="1.16486" height="0.0397804" fill="#3a3f46"/>
<rect x="352.365" y="44.6761" width="0.897797" height="0.623927" fill="#2a2a2a"/>
<rect x="352.365" y="52.2" width="0.897797" height="1.12698" fill="#3a3f46"/>
<rect x="353.263" y="44.3149" width="0.577149" height="0.985083" fill="#2a2a2a"/>
<rect x="353.263" y="52.2" width="0.577149" height="1.7344" fill="#3a3f46"/>
<rect x="353.84" y="45.1952" width="1.66604" height="0.10478" fill="#2a2a2a"/>
<rect x="353.84" y="52.2" width="1.66604" height="0.584241" fill="#3a3f46"/>
<rect x="355.506" y="44.521" width="0.547506" height="0.778997" fill="#2a2a2a"/>
<rect x="355.506" y="52.2" width="0.547506" height="0.594981" fill="#3a3f46"/>
<rect x="356.053" y="44.8777" width="0.655467" height="0.422254" fill="#2a2a2a"/>
<rect x="356.053" y="52.2" width="0.655467" height="2.00511" fill="#3a3f46"/>
<rect x="356.709" y="45.0414" width="1.48277" height="0.258609" fill="#2a2a2a"/>
<rect x="356.709" y="52.2" width="1.48277" height="0.328609" fill="#3a3f46"/>
<rect x="358.192" y="44.7294" width="1.60301" height="0.570595" fill="#2a2a2a"/>
<rect x="358.192" y="52.2" width="1.60301" height="1.54092" fill="#3a3f46"/>
<rect x="359.795" y="45.2425" width="0.607355" height="0.0575265" fill="#2a2a2a"/>
<rect x="359.795" y="52.2" width="0.607355" height="1.51405" fill="#3a3f46"/>
<rect x="360.402" y="45.2276" width="1.01038" height="0.0724141" fill="#2a2a2a"/>
<rect x="360.402" y="52.2" width="1.01038" height="2.06437" fill="#3a3f46"/>
<rect x="361.412" y="44.4984" width="1.26133" height="0.801629" fill="#2a2a2a"/>
<rect x="361.412" y="52.2" width="1.26133" height="0.184234" fill="#3a3f46"/>
<rect x="362.674" y="45.2334" width="1.52747" height="0.0666225" fill="#2a2a2a"/>
<rect x="362.674" y="52.2" width="1.52747" height="1.8981" fill="#3a3f46"/>
<rect x="364.201" y="44.9608" width="1.04453" height="0.339152" fill="#2a2a2a"/>
<rect x="364.201" y="52.2" width="1.04453" height="1.21674" fill="#3a3f46"/>
<rect x="365.246" y="45.0321" width="1.612" height="0.26786" fill="#2a2a2a"/>
<rect x="365.246" y="52.2" width="1.612" height="0.284295" fill="#3a3f46"/>
<rect x="366.858" y="45.0616" width="1.1323" height="0.238436" fill="#2a2a2a"/>
<rect x="366.858" y="52.2" width="1.1323" height="0.240793" fill="#3a3f46"/>
<rect x="367.99" y="45.2496" width="0.693739" height="0.0503797" fill="#2a2a2a"/>
<rect x="367.99" y="52.2" width="0.693739" height="0.44389" fill="#3a3f46"/>
<rect x="368.684" y="44.995" width="0.874391" height="0.305005" fill="#2a2a2a"/>
<rect x="368.684" y="52.2" width="0.874391" height="1.6709" fill="#3a3f46"/>
<rect x="369.558" y="44.7999" width="0.847953" height="0.500089" fill="#2a2a2a"/>
<rect x="369.558" y="52.2" width="0.847953" height="0.39138" fill="#3a3f46"/>
<rect x="370.406" y="45.2818" width="0.916401" height="0.0181631" fill="#2a2a2a"/>
<rect x="370.406" y="52.2" width="0.916401" height="0.550987" fill="#3a3f46"/>
<rect x="371.322" y="44.5669" width="0.518415" height="0.73308" fill="#2a2a2a"/>
<rect x="371.322" y="52.2" width="0.518415" height="1.21231" fill="#3a3f46"/>
<rect x="371.841" y="44.8252" width="0.727348" height="0.474761" fill="#2a2a2a"/>
<rect x="371.841" y="52.2" width="0.727348" height="2.05621" fill="#3a3f46"/>
<rect x="372.568" y="44.4811" width="0.627538" height="0.81892" fill="#2a2a2a"/>
<rect x="372.568" y="52.2" width="0.627538" height="0.950791" fill="#3a3f46"/>
<rect x="373.196" y="44.4654" width="1.094" height="0.834614" fill="#2a2a2a"/>
<rect x="373.196" y="52.2" width="1.094" height="0.864789" fill="#3a3f46"/>
<rect x="374.29" y="44.6123" width="1.10802" height="0.687742" fill="#2a2a2a"/>
<rect x="374.29" y="52.2" width="1.10802" height="2.16137" fill="#3a3f46"/>
<rect x="375.398" y="44.4677" width="0.911246" height="0.832287" fill="#2a2a2a"/>
<rect x="375.398" y="52.2" width="0.911246" height="1.5548" fill="#3a3f46"/>
<rect x="376.309" y="44.8953" width="1.26317" height="0.404698" fill="#2a2a2a"/>
<rect x="376.309" y="52.2" width="1.26317" height="0.764615" fill="#3a3f46"/>
<rect x="377.572" y="45.1702" width="0.565266" height="0.129819" fill="#2a2a2a"/>
<rect x="377.572" y="52.2" width="0.565266" height="0.15559" fill="#3a3f46"/>
<rect x="378.137" y="45.0444" width="1.38907" height="0.255594" fill="#2a2a2a"/>
<rect x="378.137" y="52.2" width="1.38907" height="0.359142" fill="#3a3f46"/>
<rect x="379.527" y="44.4587" width="0.601382" height="0.841269" fill="#2a2a2a"/>
<rect x="379.527" y="52.2" width="0.601382" height="1.91518" fill="#3a3f46"/>
<rect x="380.128" y="45.0181" width="1.30465" height="0.281933" fill="#2a2a2a"/>
<rect x="380.128" y="52.2" width="1.30465" height="0.532868" fill="#3a3f46"/>
<rect x="381.433" y="44.8405" width="0.85167" height="0.459453" fill="#2a2a2a"/>
<rect x="381.433" y="52.2" width="0.85167" height="0.346572" fill="#3a3f46"/>
<rect x="382.284" y="45.0368" width="1.03499" height="0.263243" fill="#2a2a2a"/>
<rect x="382.284" y="52.2" width="1.03499" height="2.11593" fill="#3a3f46"/>
<rect x="383.319" y="44.7529" width="1.66715" height="0.547073" fill="#2a2a2a"/>
<rect x="383.319" y="52.2" width="1.66715" height="0.537782" fill="#3a3f46"/>
<rect x="384.986" y="44.9905" width="1.6588" height="0.309548" fill="#2a2a2a"/>
<rect x="384.986" y="52.2" width="1.6588" height="0.784485" fill="#3a3f46"/>
<rect x="386.645" y="44.9184" width="0.501283" height="0.381627" fill="#2a2a2a"/>
<rect x="386.645" y="52.2" width="0.501283" height="1.04422" fill="#3a3f46"/>
<rect x="387.146" y="45.099" width="1.10332" height="0.20098" fill="#2a2a2a"/>
<rect x="387.146" y="52.2" width="1.10332" height="1.11042" fill="#3a3f46"/>
<rect x="388.25" y="45.0358" width="0.505941" height="0.264169" fill="#2a2a2a"/>
<rect x="388.25" y="52.2" width="0.505941" height="0.197457" fill="#3a3f46"/>
<rect x="388.756" y="45.2583" width="0.979413" height="0.041667" fill="#2a2a2a"/>
<rect x="388.756" y="52.2" width="0.979413" height="0.0494871" fill="#3a3f46"/>
<rect x="389.735" y="45.0672" width="0.865093" height="0.23281" fill="#2a2a2a"/>
<rect x="389.735" y="52.2" width="0.865093" height="1.28828" fill="#3a3f46"/>
<rect x="390.6" y="44.5495" width="1.13503" height="0.750541" fill="#2a2a2a"/>
<rect x="390.6" y="52.2" width="1.13503" height="1.4466" fill="#3a3f46"/>
<rect x="391.735" y="44.4209" width="1.35919" height="0.879091" fill="#2a2a2a"/>
<rect x="391.735" y="52.2" width="1.35919" height="0.856936" fill="#3a3f46"/>
<rect x="393.094" y="44.3153" width="0.891362" height="0.984729" fill="#2a2a2a"/>
<rect x="393.094" y="52.2" width="0.891362" height="0.328819" fill="#3a3f46"/>
<rect x="393.986" y="44.6568" width="1.36899" height="0.643219" fill="#2a2a2a"/>
<rect x="393.986" y="52.2" width="1.36899" height="0.0963337" fill="#3a3f46"/>
<rect x="395.355" y="44.4081" width="1.50235" height="0.891942" fill="#2a2a2a"/>
<rect x="395.355" y="52.2" width="1.50235" height="1.38013" fill="#3a3f46"/>
<rect x="396.857" y="44.4878" width="1.38062" height="0.812219" fill="#2a2a2a"/>
<rect x="396.857" y="52.2" width="1.38062" height="0.306477" fill="#3a3f46"/>
<rect x="398.238" y="44.7956" width="1.12851" height="0.504371" fill="#2a2a2a"/>
<rect x="398.238" y="52.2" width="1.12851" height="1.83686" fill="#3a3f46"/>
<rect x="399.366" y="44.4736" width="1.46561" height="0.826409" fill="#2a2a2a"/>
<rect x="399.366" y="52.2" width="1.46561" height="1.28494" fill="#3a3f46"/>
<rect x="400.832" y="44.6171" width="1.5714" height="0.682895" fill="#2a2a2a"/>
<rect x="400.832" y="52.2" width="1.5714" height="1.52532" fill="#3a3f46"/>
<rect x="402.403" y="45.2688" width="0.775929" height="0.0311605" fill="#2a2a2a"/>
<rect x="402.403" y="52.2" width="0.775929" height="0.292805" fill="#3a3f46"/>
<rect x="403.179" y="45.1951" width="0.932849" height="0.104916" fill="#2a2a2a"/>
<rect x="403.179" y="52.2" width="0.932849" height="1.83881" fill="#3a3f46"/>
<rect x="404.112" y="44.6722" width="1.17023" height="0.627767" fill="#2a2a2a"/>
<rect x="404.112" y="52.2" width="1.17023" height="1.3777" fill="#3a3f46"/>
<rect x="405.282" y="44.8107" width="1.3168" height="0.489294" fill="#2a2a2a"/>
<rect x="405.282" y="52.2" width="1.3168" height="0.00729152" fill="#3a3f46"/>
<rect x="406.599" y="44.5517" width="1.45724" height="0.748265" fill="#2a2a2a"/>
<rect x="406.599" y="52.2" width="1.45724" height="1.10654" fill="#3a3f46"/>
<rect x="408.056" y="44.6407" width="1.14224" height="0.659299" fill="#2a2a2a"/>
<rect x="408.056" y="52.2" width="1.14224" height="0.145311" fill="#3a3f46"/>
<rect x="409.199" y="45.0478" width="1.38415" height="0.252194" fill="#2a2a2a"/>
<rect x="409.199" y="52.2" width="1.38415" height="0.16379" fill="#3a3f46"/>
<rect x="410.583" y="44.5707" width="0.81867" height="0.729335" fill="#2a2a2a"/>
<rect x="410.583" y="52.2" width="0.81867" height="0.451479" fill="#3a3f46"/>
<rect x="411.401" y="44.3243" width="1.38779" height="0.975735" fill="#2a2a2a"/>
<rect x="411.401" y="52.2" width="1.38779" height="1.08669" fill="#3a3f46"/>
<rect x="412.789" y="44.821" width="0.959073" height="0.47901" fill="#2a2a2a"/>
<rect x="412.789" y="52.2" width="0.959073" height="1.50413" fill="#3a3f46"/>
<rect x="413.748" y="44.683" width="1.42036" height="0.616974" fill="#2a2a2a"/>
<rect x="413.748" y="52.2" width="1.42036" height="1.41408" fill="#3a3f46"/>
<rect x="415.169" y="45.1526" width="0.592966" height="0.147425" fill="#2a2a2a"/>
<rect x="415.169" y="52.2" width="0.592966" height="0.558669" fill="#3a3f46"/>
<rect x="415.762" y="44.9956" width="1.39186" height="0.304417" fill="#2a2a2a"/>
<rect x="415.762" y="52.2" width="1.39186" height="1.24908" fill="#3a3f46"/>
<rect x="417.153" y="45.2393" width="0.514963" height="0.060661" fill="#2a2a2a"/>
<rect x="417.153" y="52.2" width="0.514963" height="0.5913" fill="#3a3f46"/>
<rect x="417.668" y="44.6078" width="1.3064" height="0.692185" fill="#2a2a2a"/>
<rect x="417.668" y="52.2" width="1.3064" height="1.48656" fill="#3a3f46"/>
<rect x="418.975" y="44.7835" width="0.849028" height="0.516536" fill="#2a2a2a"/>
<rect x="418.975" y="52.2" width="0.849028" height="1.02226" fill="#3a3f46"/>
<rect x="419.824" y="45.1815" width="1.05961" height="0.118503" fill="#2a2a2a"/>
<rect x="419.824" y="52.2" width="1.05961" height="1.96606" fill="#3a3f46"/>
<rect x="420.883" y="44.3219" width="0.7391" height="0.978126" fill="#2a2a2a"/>
<rect x="420.883" y="52.2" width="0.7391" height="2.05976" fill="#3a3f46"/>
<rect x="421.623" y="44.841" width="0.521005" height="0.458971" fill="#2a2a2a"/>
<rect x="421.623" y="52.2" width="0.521005" height="1.80377" fill="#3a3f46"/>
<rect x="422.144" y="44.8505" width="1.66173" height="0.449451" fill="#2a2a2a"/>
<rect x="422.144" y="52.2" width="1.66173" height="0.591046" fill="#3a3f46"/>
<rect x="423.805" y="44.3544" width="0.751805" height="0.945587" fill="#2a2a2a"/>
<rect x="423.805" y="52.2" width="0.751805" height="0.463559" fill="#3a3f46"/>
<rect x="424.557" y="45.1583" width="1.19777" height="0.141741" fill="#2a2a2a"/>
<rect x="424.557" y="52.2" width="1.19777" height="1.15294" fill="#3a3f46"/>
<rect x="425.755" y="45.1674" width="1.64329" height="0.132605" fill="#2a2a2a"/>
<rect x="425.755" y="52.2" width="1.64329" height="1.80448" fill="#3a3f46"/>
<rect x="427.398" y="44.4131" width="1.11049" height="0.886862" fill="#2a2a2a"/>
<rect x="427.398" y="52.2" width="1.11049" height="1.54734" fill="#3a3f46"/>
<rect x="428.509" y="44.4023" width="0.77766" height="0.897706" fill="#2a2a2a"/>
<rect x="428.509" y="52.2" width="0.77766" height="1.06951" fill="#3a3f46"/>
<rect x="429.286" y="45.2964" width="0.529801" height="0.00359047" fill="#2a2a2a"/>
<rect x="429.286" y="52.2" width="0.529801" height="1.08173" fill="#3a3f46"/>
<rect x="429.816" y="44.998" width="1.04091" height="0.301951" fill="#2a2a2a"/>
<rect x="429.816" y="52.2" width="1.04091" height="0.309556" fill="#3a3f46"/>
<rect x="430.857" y="44.9839" width="0.912752" height="0.316078" fill="#2a2a2a"/>
<rect x="430.857" y="52.2" width="0.912752" height="1.84851" fill="#3a3f46"/>
<rect x="431.77" y="44.5493" width="0.50209" height="0.750734" fill="#2a2a2a"/>
<rect x="431.77" y="52.2" width="0.50209" height="1.84604" fill="#3a3f46"/>
<rect x="432.272" y="44.3736" width="0.64405" height="0.926399" fill="#2a2a2a"/>
<rect x="432.272" y="52.2" width="0.64405" height="1.56865" fill="#3a3f46"/>
<rect x="432.916" y="45.0102" width="1.58188" height="0.289833" fill="#2a2a2a"/>
<rect x="432.916" y="52.2" width="1.58188" height="0.818888" fill="#3a3f46"/>
<rect x="434.498" y="44.3012" width="0.971479" height="0.998793" fill="#2a2a2a"/>
<rect x="434.498" y="52.2" width="0.971479" height="1.29619" fill="#3a3f46"/>
<rect x="435.469" y="44.8719" width="0.932851" height="0.428053" fill="#2a2a2a"/>
<rect x="435.469" y="52.2" width="0.932851" height="0.605342" fill="#3a3f46"/>
<rect x="436.402" y="45.1983" width="0.557922" height="0.10171" fill="#2a2a2a"/>
<rect x="436.402" y="52.2" width="0.557922" height="1.83629" fill="#3a3f46"/>
<rect x="436.96" y="44.3644" width="0.842748" height="0.93559" fill="#2a2a2a"/>
<rect x="436.96" y="52.2" width="0.842748" height="0.548514" fill="#3a3f46"/>
<rect x="437.803" y="44.789" width="0.818874" height="0.510963" fill="#2a2a2a"/>
<rect x="437.803" y="52.2" width="0.818874" height="0.417668" fill="#3a3f46"/>
<rect x="438.622" y="44.3438" width="0.948019" height="0.956165" fill="#2a2a2a"/>
<rect x="438.622" y="52.2" width="0.948019" height="1.94539" fill="#3a3f46"/>
<rect x="439.57" y="44.6691" width="1.47435" height="0.630896" fill="#2a2a2a"/>
<rect x="439.57" y="52.2" width="1.47435" height="2.00953" fill="#3a3f46"/>
<rect x="441.044" y="44.7508" width="1.62884" height="0.549228" fill="#2a2a2a"/>
<rect x="441.044" y="52.2" width="1.62884" height="1.58306" fill="#3a3f46"/>
<rect x="442.673" y="44.5676" width="0.559371" height="0.732352" fill="#2a2a2a"/>
<rect x="442.673" y="52.2" width="0.559371" height="0.991893" fill="#3a3f46"/>
<rect x="443.232" y="44.6555" width="1.4032" height="0.644491" fill="#2a2a2a"/>
<rect x="443.232" y="52.2" width="1.4032" height="0.629658" fill="#3a3f46"/>
<rect x="444.635" y="44.3732" width="0.558772" height="0.926777" fill="#2a2a2a"/>
<rect x="444.635" y="52.2" width="0.558772" height="0.280085" fill="#3a3f46"/>
<rect x="445.194" y="44.9563" width="1.06662" height="0.343663" fill="#2a2a2a"/>
<rect x="445.194" y="52.2" width="1.06662" height="0.655098" fill="#3a3f46"/>
<rect x="446.261" y="44.3237" width="1.38684" height="0.976296" fill="#2a2a2a"/>
<rect x="446.261" y="52.2" width="1.38684" height="0.572372" fill="#3a3f46"/>
<rect x="447.648" y="44.9992" width="1.28719" height="0.300836" fill="#2a2a2a"/>
<rect x="447.648" y="52.2" width="1.28719" height="1.22611" fill="#3a3f46"/>
<rect x="448.935" y="45.1327" width="0.973241" height="0.167332" fill="#2a2a2a"/>
<rect x="448.935" y="52.2" width="0.973241" height="0.355645" fill="#3a3f46"/>
<rect x="449.908" y="44.394" width="0.749447" height="0.90596" fill="#2a2a2a"/>
<rect x="449.908" y="52.2" width="0.749447" height="1.09357" fill="#3a3f46"/>
<rect x="450.658" y="44.3937" width="0.76403" height="0.906259" fill="#2a2a2a"/>
<rect x="450.658" y="52.2" width="0.76403" height="2.19225" fill="#3a3f46"/>
<rect x="451.422" y="45.1604" width="1.03995" height="0.139596" fill="#2a2a2a"/>
<rect x="451.422" y="52.2" width="1.03995" height="0.423296" fill="#3a3f46"/>
<rect x="452.462" y="44.958" width="0.608857" height="0.341955" fill="#2a2a2a"/>
<rect x="452.462" y="52.2" width="0.608857" height="0.200408" fill="#3a3f46"/>
<rect x="453.07" y="45.0416" width="0.786952" height="0.258358" fill="#2a2a2a"/>
<rect x="453.07" y="52.2" width="0.786952" height="1.25316" fill="#3a3f46"/>
<rect x="453.857" y="44.5503" width="1.5647" height="0.749658" fill="#2a2a2a"/>
<rect x="453.857" y="52.2" width="1.5647" height="0.90812" fill="#3a3f46"/>
<rect x="455.422" y="44.7758" width="0.99666" height="0.524168" fill="#2a2a2a"/>
<rect x="455.422" y="52.2" width="0.99666" height="0.829105" fill="#3a3f46"/>
<rect x="456.419" y="45.2379" width="0.905844" height="0.0620595" fill="#2a2a2a"/>
<rect x="456.419" y="52.2" width="0.905844" height="0.610536" fill="#3a3f46"/>
<rect x="457.325" y="45.1741" width="1.66122" height="0.125874" fill="#2a2a2a"/>
<rect x="457.325" y="52.2" width="1.66122" height="1.10747" fill="#3a3f46"/>
<rect x="458.986" y="44.4371" width="1.25555" height="0.862861" fill="#2a2a2a"/>
<rect x="458.986" y="52.2" width="1.25555" height="0.475119" fill="#3a3f46"/>
<rect x="460.241" y="45.0515" width="0.825225" height="0.248454" fill="#2a2a2a"/>
<rect x="460.241" y="52.2" width="0.825225" height="0.879466" fill="#3a3f46"/>
<rect x="461.067" y="44.3461" width="1.03503" height="0.953944" fill="#2a2a2a"/>
<rect x="461.067" y="52.2" width="1.03503" height="1.8671" fill="#3a3f46"/>
<rect x="462.102" y="45.2782" width="1.54747" height="0.0218105" fill="#2a2a2a"/>
<rect x="462.102" y="52.2" width="1.54747" height="0.0709357" fill="#3a3f46"/>
<rect x="463.649" y="44.4043" width="1.35141" height="0.895697" fill="#2a2a2a"/>
<rect x="463.649" y="52.2" width="1.35141" height="1.04119" fill="#3a3f46"/>
<rect x="465" y="45.2998" width="1.20461" height="0.000178688" fill="#2a2a2a"/>
<rect x="465" y="52.2" width="1.20461" height="0.861346" fill="#3a3f46"/>
<rect x="466.205" y="44.4744" width="1.61219" height="0.825589" fill="#2a2a2a"/>
<rect x="466.205" y="52.2" width="1.61219" height="1.88202" fill="#3a3f46"/>
<rect x="467.817" y="45.0515" width="1.66669" height="0.248465" fill="#2a2a2a"/>
<rect x="467.817" y="52.2" width="1.66669" height="0.239901" fill="#3a3f46"/>
<rect x="469.484" y="44.7776" width="0.685254" height="0.522366" fill="#2a2a2a"/>
<rect x="469.484" y="52.2" width="0.685254" height="1.50057" fill="#3a3f46"/>
<rect x="470.169" y="44.5783" width="1.62979" height="0.721735" fill="#2a2a2a"/>
<rect x="470.169" y="52.2" width="1.62979" height="1.42417" fill="#3a3f46"/>
<rect x="471.799" y="44.8427" width="1.41776" height="0.457325" fill="#2a2a2a"/>
<rect x="471.799" y="52.2" width="1.41776" height="1.2133" fill="#3a3f46"/>
<rect x="473.217" y="44.5177" width="0.547456" height="0.782299" fill="#2a2a2a"/>
<rect x="473.217" y="52.2" width="0.547456" height="0.511669" fill="#3a3f46"/>
<rect x="473.764" y="44.6545" width="1.6039" height="0.645506" fill="#2a2a2a"/>
<rect x="473.764" y="52.2" width="1.6039" height="0.668321" fill="#3a3f46"/>
<rect x="475.368" y="45.0482" width="0.65356" height="0.251794" fill="#2a2a2a"/>
<rect x="475.368" y="52.2" width="0.65356" height="1.39984" fill="#3a3f46"/>
<rect x="476.022" y="45.1879" width="1.3383" height="0.112133" fill="#2a2a2a"/>
<rect x="476.022" y="52.2" width="1.3383" height="0.154774" fill="#3a3f46"/>
<rect x="477.36" y="44.7171" width="1.12932" height="0.582891" fill="#2a2a2a"/>
<rect x="477.36" y="52.2" width="1.12932" height="0.85378" fill="#3a3f46"/>
<rect x="478.489" y="44.6989" width="0.7683" height="0.601061" fill="#2a2a2a"/>
<rect x="478.489" y="52.2" width="0.7683" height="0.0230156" fill="#3a3f46"/>
<rect x="479.258" y="44.8393" width="0.861826" height="0.460691" fill="#2a2a2a"/>
<rect x="479.258" y="52.2" width="0.861826" height="2.10967" fill="#3a3f46"/>
<rect x="480.119" y="44.4162" width="0.780592" height="0.883774" fill="#2a2a2a"/>
<rect x="480.119" y="52.2" width="0.780592" height="1.04567" fill="#3a3f46"/>
<rect x="381.415" y="52.2" width="0.4" height="2.8647" fill="#555b63"/>
<rect x="474.831" y="52.2" width="0.4" height="4.46629" fill="#555b63"/>
<rect x="390.762" y="52.2" width="0.4" height="2.07626" fill="#555b63"/>
<rect x="415.333" y="52.2" width="0.4" height="4.36062" fill="#555b63"/>
<rect x="405.256" y="52.2" width="0.4" height="2.9004" fill="#555b63"/>
<rect x="437.089" y="52.2" width="0.4" height="5.23806" fill="#555b63"/>
<rect x="380.387" y="52.2" width="0.4" height="2.11934" fill="#555b63"/>
<rect x="394.707" y="52.2" width="0.4" height="3.47195" fill="#555b63"/>
<rect x="439.046" y="52.2" width="0.4" height="2.69328" fill="#555b63"/>
<rect x="453.782" y="52.2" width="0.4" height="4.58695" fill="#555b63"/>
<rect x="416.178" y="52.2" width="0.4" height="2.71827" fill="#555b63"/>
<rect x="476.021" y="52.2" width="0.4" height="3.09101" fill="#555b63"/>
<rect x="456.735" y="52.2" width="0.4" height="2.80783" fill="#555b63"/>
<rect x="379.7" y="52.2" width="0.4" height="4.66165" fill="#555b63"/>
<rect x="389.158" y="52.2" width="0.4" height="5.33174" fill="#555b63"/>
<rect x="415.005" y="52.2" width="0.4" height="2.6556" fill="#555b63"/>
<rect x="379.942" y="52.2" width="0.4" height="3.4596" fill="#555b63"/>
<rect x="436.823" y="52.2" width="0.4" height="5.32066" fill="#555b63"/>
<rect x="370.039" y="52.2" width="0.4" height="3.37711" fill="#555b63"/>
<rect x="378.607" y="52.2" width="0.4" height="5.40942" fill="#555b63"/>
<rect x="369.464" y="52.2" width="0.4" height="2.18144" fill="#555b63"/>
<rect x="358.939" y="52.2" width="0.4" height="3.37663" fill="#555b63"/>
<rect x="466.794" y="52.2" width="0.4" height="5.09254" fill="#555b63"/>
<rect x="445.502" y="52.2" width="0.4" height="5.49135" fill="#555b63"/>
<rect x="471.096" y="52.2" width="0.4" height="3.15235" fill="#555b63"/>
<rect x="375.075" y="52.2" width="0.4" height="5.27559" fill="#555b63"/>
<rect x="447.25" y="52.2" width="0.4" height="2.11163" fill="#555b63"/>
<rect x="436.712" y="52.2" width="0.4" height="3.32517" fill="#555b63"/>
<rect x="399.319" y="52.2" width="0.4" height="3.16094" fill="#555b63"/>
<rect x="372.984" y="52.2" width="0.4" height="2.01005" fill="#555b63"/>
<rect x="387.211" y="52.2" width="0.4" height="3.23013" fill="#555b63"/>
<rect x="474.175" y="52.2" width="0.4" height="2.43298" fill="#555b63"/>
<rect x="475.302" y="52.2" width="0.4" height="2.72591" fill="#555b63"/>
<rect x="397.098" y="52.2" width="0.4" height="4.87551" fill="#555b63"/>
<rect x="456.992" y="52.2" width="0.4" height="3.51357" fill="#555b63"/>
<rect x="357.539" y="52.2" width="0.4" height="3.65712" fill="#555b63"/>
<rect x="399.168" y="52.2" width="0.4" height="5.21827" fill="#555b63"/>
<rect x="376.042" y="52.2" width="0.4" height="3.27487" fill="#555b63"/>
<rect x="466.643" y="52.2" width="0.4" height="2.10599" fill="#555b63"/>
<rect x="404.07" y="52.2" width="0.4" height="4.84139" fill="#555b63"/>
<rect x="356.631" y="43.8" width="1.2" height="10.8" fill="#ffffff"/>
<rect x="422.289" y="43.8" width="3.6" height="10.8" fill="#ffffff"/>
<rect x="445.385" y="43.8" width="0.8" height="10.8" fill="#ffffff"/>
<rect x="450.566" y="43.8" width="0.8" height="10.8" fill="#ffffff"/>
<rect x="455.386" y="43.8" width="0.8" height="10.8" fill="#ffffff"/>
<rect x="477.64" y="43.8" width="0.6" height="10.8" fill="#ffffff"/>
<line x1="351.2" y1="48.6" x2="480.9" y2="48.6" stroke="#b07a3a" stroke-width="0.7"/>
<rect x="356.631" y="48.4" width="1.2" height="0.8" fill="#ffffff"/>
<rect x="422.289" y="48.4" width="3.6" height="0.8" fill="#ffffff"/>
<rect x="445.385" y="48.4" width="0.8" height="0.8" fill="#ffffff"/>
<rect x="450.566" y="48.4" width="0.8" height="0.8" fill="#ffffff"/>
<rect x="455.386" y="48.4" width="0.8" height="0.8" fill="#ffffff"/>
<rect x="477.64" y="48.4" width="0.6" height="0.8" fill="#ffffff"/>
<ellipse cx="424.3" cy="61.1" rx="0.9" ry="4.2" fill="#f2d430"/>
<rect x="351.2" y="22.9" width="129.7" height="50.7" fill="none" stroke="#2a2a2a" stroke-width="1.1"/>
<line x1="349.7" y1="22.9" x2="351.2" y2="22.9" stroke="#333" stroke-width="0.7"/>
<text x="348.9" y="24.5" font-size="4.6" text-anchor="end" font-weight="normal" font-style="normal" fill="#222" stroke="#222" stroke-width="0.22">1.75</text>
<line x1="349.7" y1="48.8" x2="351.2" y2="48.8" stroke="#333" stroke-width="0.7"/>
<text x="348.9" y="50.4" font-size="4.6" text-anchor="end" font-weight="normal" font-style="normal" fill="#222" stroke="#222" stroke-width="0.22">0</text>
<line x1="349.7" y1="73.6" x2="351.2" y2="73.6" stroke="#333" stroke-width="0.7"/>
<text x="348.9" y="75.2" font-size="4.6" text-anchor="end" font-weight="normal" font-style="normal" fill="#222" stroke="#222" stroke-width="0.22">-1.75</text>
<text x="332.9" y="48.8" font-size="5.1" text-anchor="middle" font-weight="normal" font-style="normal" fill="#222" stroke="#222" stroke-width="0.22" transform="rotate(-90 332.9 48.8)">DOC ratio</text>
<text x="484" y="50.4" font-size="4.4" text-anchor="start" font-weight="normal" font-style="normal" fill="#222" stroke="#222" stroke-width="0.22">Baseline</text>
<line x1="356.809" y1="73.6" x2="356.809" y2="75.1" stroke="#333" stroke-width="0.6"/>
<text x="356.809" y="81.6" font-size="4.8" text-anchor="middle" font-weight="normal" font-style="normal" fill="#222" stroke="#222" stroke-width="0.22">1</text>
<line x1="367.891" y1="73.6" x2="367.891" y2="75.1" stroke="#333" stroke-width="0.6"/>
<text x="367.891" y="81.6" font-size="4.8" text-anchor="middle" font-weight="normal" font-style="normal" fill="#222" stroke="#222" stroke-width="0.22">2</text>
<line x1="377.825" y1="73.6" x2="377.825" y2="75.1" stroke="#333" stroke-width="0.6"/>
<text x="377.825" y="81.6" font-size="4.8" text-anchor="middle" font-weight="normal" font-style="normal" fill="#222" stroke="#222" stroke-width="0.22">3</text>
<line x1="386.587" y1="73.6" x2="386.587" y2="75.1" stroke="#333" stroke-width="0.6"/>
<text x="386.587" y="81.6" font-size="4.8" text-anchor="middle" font-weight="normal" font-style="normal" fill="#222" stroke="#222" stroke-width="0.22">4</text>
<line x1="394.966" y1="73.6" x2="394.966" y2="75.1" stroke="#333" stroke-width="0.6"/>
<text x="394.966" y="81.6" font-size="4.8" text-anchor="middle" font-weight="normal" font-style="normal" fill="#222" stroke="#222" stroke-width="0.22">5</text>
<line x1="402.895" y1="73.6" x2="402.895" y2="75.1" stroke="#333" stroke-width="0.6"/>
<text x="402.895" y="81.6" font-size="4.8" text-anchor="middle" font-weight="normal" font-style="normal" fill="#222" stroke="#222" stroke-width="0.22">6</text>
<line x1="410.329" y1="73.6" x2="410.329" y2="75.1" stroke="#333" stroke-width="0.6"/>
<text x="410.329" y="81.6" font-size="4.8" text-anchor="middle" font-weight="normal" font-style="normal" fill="#222" stroke="#222" stroke-width="0.22">7</text>
<line x1="417.199" y1="73.6" x2="417.199" y2="75.1" stroke="#333" stroke-width="0.6"/>
<text x="417.199" y="81.6" font-size="4.8" text-anchor="middle" font-weight="normal" font-style="normal" fill="#222" stroke="#222" stroke-width="0.22">8</text>
<line x1="423.664" y1="73.6" x2="423.664" y2="75.1" stroke="#333" stroke-width="0.6"/>
<text x="423.664" y="81.6" font-size="4.8" text-anchor="middle" font-weight="normal" font-style="normal" fill="#222" stroke="#222" stroke-width="0.22">9</text>
<line x1="429.903" y1="73.6" x2="429.903" y2="75.1" stroke="#333" stroke-width="0.6"/>
<text x="429.903" y="81.6" font-size="4.8" text-anchor="middle" font-weight="normal" font-style="normal" fill="#222" stroke="#222" stroke-width="0.22">10</text>
<line x1="442.067" y1="73.6" x2="442.067" y2="75.1" stroke="#333" stroke-width="0.6"/>
<text x="442.067" y="81.6" font-size="4.8" text-anchor="middle" font-weight="normal" font-style="normal" fill="#222" stroke="#222" stroke-width="0.22">12</text>
<line x1="452.676" y1="73.6" x2="452.676" y2="75.1" stroke="#333" stroke-width="0.6"/>
<text x="452.676" y="81.6" font-size="4.8" text-anchor="middle" font-weight="normal" font-style="normal" fill="#222" stroke="#222" stroke-width="0.22">14</text>
<line x1="461.754" y1="73.6" x2="461.754" y2="75.1" stroke="#333" stroke-width="0.6"/>
<text x="461.754" y="81.6" font-size="4.8" text-anchor="middle" font-weight="normal" font-style="normal" fill="#222" stroke="#222" stroke-width="0.22">16</text>
<line x1="469.187" y1="73.6" x2="469.187" y2="75.1" stroke="#333" stroke-width="0.6"/>
<text x="469.187" y="81.6" font-size="4.8" text-anchor="middle" font-weight="normal" font-style="normal" fill="#222" stroke="#222" stroke-width="0.22">18</text>
<line x1="477.521" y1="73.6" x2="477.521" y2="75.1" stroke="#333" stroke-width="0.6"/>
<text x="477.521" y="81.6" font-size="4.8" text-anchor="middle" font-weight="normal" font-style="normal" fill="#222" stroke="#222" stroke-width="0.22">21</text>
<line x1="362.418" y1="90.6" x2="362.418" y2="141.4" stroke="#c8c8c8" stroke-width="0.5"/>
<line x1="373.365" y1="90.6" x2="373.365" y2="141.4" stroke="#c8c8c8" stroke-width="0.5"/>
<line x1="382.285" y1="90.6" x2="382.285" y2="141.4" stroke="#c8c8c8" stroke-width="0.5"/>
<line x1="390.889" y1="90.6" x2="390.889" y2="141.4" stroke="#c8c8c8" stroke-width="0.5"/>
<line x1="399.043" y1="90.6" x2="399.043" y2="141.4" stroke="#c8c8c8" stroke-width="0.5"/>
<line x1="406.747" y1="90.6" x2="406.747" y2="141.4" stroke="#c8c8c8" stroke-width="0.5"/>
<line x1="413.91" y1="90.6" x2="413.91" y2="141.4" stroke="#c8c8c8" stroke-width="0.5"/>
<line x1="420.487" y1="90.6" x2="420.487" y2="141.4" stroke="#c8c8c8" stroke-width="0.5"/>
<line x1="426.84" y1="90.6" x2="426.84" y2="141.4" stroke="#c8c8c8" stroke-width="0.5"/>
<line x1="432.966" y1="90.6" x2="432.966" y2="141.4" stroke="#c8c8c8" stroke-width="0.5"/>
<line x1="439.048" y1="90.6" x2="439.048" y2="141.4" stroke="#c8c8c8" stroke-width="0.5"/>
<line x1="445.085" y1="90.6" x2="445.085" y2="141.4" stroke="#c8c8c8" stroke-width="0.5"/>
<line x1="450.266" y1="90.6" x2="450.266" y2="141.4" stroke="#c8c8c8" stroke-width="0.5"/>
<line x1="455.086" y1="90.6" x2="455.086" y2="141.4" stroke="#c8c8c8" stroke-width="0.5"/>
<line x1="459.726" y1="90.6" x2="459.726" y2="141.4" stroke="#c8c8c8" stroke-width="0.5"/>
<line x1="463.781" y1="90.6" x2="463.781" y2="141.4" stroke="#c8c8c8" stroke-width="0.5"/>
<line x1="467.43" y1="90.6" x2="467.43" y2="141.4" stroke="#c8c8c8" stroke-width="0.5"/>
<line x1="470.944" y1="90.6" x2="470.944" y2="141.4" stroke="#c8c8c8" stroke-width="0.5"/>
<line x1="473.602" y1="90.6" x2="473.602" y2="141.4" stroke="#c8c8c8" stroke-width="0.5"/>
<line x1="476.44" y1="90.6" x2="476.44" y2="141.4" stroke="#c8c8c8" stroke-width="0.5"/>
<line x1="478.602" y1="90.6" x2="478.602" y2="141.4" stroke="#c8c8c8" stroke-width="0.5"/>
<circle cx="450.637" cy="94.5024" r="0.25" fill="#b0b0b0"/>
<circle cx="355.721" cy="95.5287" r="0.25" fill="#b0b0b0"/>
<circle cx="470.534" cy="104.628" r="0.25" fill="#b0b0b0"/>
<circle cx="448.123" cy="134.652" r="0.25" fill="#b0b0b0"/>
<circle cx="395.177" cy="105.344" r="0.25" fill="#b0b0b0"/>
<circle cx="385.204" cy="126.139" r="0.25" fill="#b0b0b0"/>
<circle cx="392.248" cy="105.499" r="0.25" fill="#b0b0b0"/>
<circle cx="351.689" cy="127.965" r="0.25" fill="#b0b0b0"/>
<circle cx="470.065" cy="122.27" r="0.25" fill="#b0b0b0"/>
<circle cx="473.54" cy="93.7352" r="0.25" fill="#b0b0b0"/>
<circle cx="475.294" cy="137.243" r="0.25" fill="#b0b0b0"/>
<circle cx="401.331" cy="104.349" r="0.25" fill="#b0b0b0"/>
<circle cx="471.574" cy="101.162" r="0.25" fill="#b0b0b0"/>
<circle cx="455.293" cy="127.161" r="0.25" fill="#b0b0b0"/>
<circle cx="457.911" cy="128.767" r="0.25" fill="#b0b0b0"/>
<circle cx="429.961" cy="107.941" r="0.25" fill="#b0b0b0"/>
<circle cx="392.645" cy="109.535" r="0.25" fill="#b0b0b0"/>
<circle cx="452.658" cy="96.2979" r="0.25" fill="#b0b0b0"/>
<circle cx="376.791" cy="127.835" r="0.25" fill="#b0b0b0"/>
<circle cx="383.276" cy="95.6295" r="0.25" fill="#b0b0b0"/>
<circle cx="393.451" cy="138.476" r="0.25" fill="#b0b0b0"/>
<circle cx="465.787" cy="138.83" r="0.25" fill="#b0b0b0"/>
<circle cx="385.556" cy="96.5351" r="0.25" fill="#b0b0b0"/>
<circle cx="431.654" cy="124.148" r="0.25" fill="#b0b0b0"/>
<circle cx="448.213" cy="132.239" r="0.25" fill="#b0b0b0"/>
<circle cx="437.376" cy="98.2705" r="0.25" fill="#b0b0b0"/>
<circle cx="460.261" cy="106.349" r="0.25" fill="#b0b0b0"/>
<circle cx="424.725" cy="110.055" r="0.25" fill="#b0b0b0"/>
<circle cx="446.927" cy="101.922" r="0.25" fill="#b0b0b0"/>
<circle cx="383.292" cy="104.082" r="0.25" fill="#b0b0b0"/>
<circle cx="371.086" cy="133.979" r="0.25" fill="#b0b0b0"/>
<circle cx="426.203" cy="107.873" r="0.25" fill="#b0b0b0"/>
<circle cx="402.57" cy="139.047" r="0.25" fill="#b0b0b0"/>
<circle cx="417" cy="103.429" r="0.25" fill="#b0b0b0"/>
<circle cx="456.055" cy="123.176" r="0.25" fill="#b0b0b0"/>
<circle cx="479.727" cy="97.3892" r="0.25" fill="#b0b0b0"/>
<circle cx="412.777" cy="130.934" r="0.25" fill="#b0b0b0"/>
<circle cx="460.22" cy="135.393" r="0.25" fill="#b0b0b0"/>
<circle cx="356.435" cy="106.344" r="0.25" fill="#b0b0b0"/>
<circle cx="366.662" cy="101.472" r="0.25" fill="#b0b0b0"/>
<circle cx="471.844" cy="110.021" r="0.25" fill="#b0b0b0"/>
<circle cx="384.915" cy="129" r="0.25" fill="#b0b0b0"/>
<circle cx="473.858" cy="97.5505" r="0.25" fill="#b0b0b0"/>
<circle cx="428.52" cy="121.614" r="0.25" fill="#b0b0b0"/>
<circle cx="379.429" cy="109.856" r="0.25" fill="#b0b0b0"/>
<circle cx="369.536" cy="102.146" r="0.25" fill="#b0b0b0"/>
<circle cx="435.718" cy="102.121" r="0.25" fill="#b0b0b0"/>
<circle cx="352.676" cy="107.915" r="0.25" fill="#b0b0b0"/>
<circle cx="439.178" cy="101.265" r="0.25" fill="#b0b0b0"/>
<circle cx="391.692" cy="102.119" r="0.25" fill="#b0b0b0"/>
<circle cx="359.406" cy="97.3449" r="0.25" fill="#b0b0b0"/>
<circle cx="434.102" cy="96.8659" r="0.25" fill="#b0b0b0"/>
<circle cx="372.431" cy="125.145" r="0.25" fill="#b0b0b0"/>
<circle cx="404.35" cy="105.858" r="0.25" fill="#b0b0b0"/>
<circle cx="391.095" cy="137.209" r="0.25" fill="#b0b0b0"/>
<circle cx="463.293" cy="139.242" r="0.25" fill="#b0b0b0"/>
<circle cx="398.382" cy="101.829" r="0.25" fill="#b0b0b0"/>
<circle cx="445.626" cy="102.132" r="0.25" fill="#b0b0b0"/>
<circle cx="351.962" cy="134.796" r="0.25" fill="#b0b0b0"/>
<circle cx="406.161" cy="130.993" r="0.25" fill="#b0b0b0"/>
<circle cx="403.886" cy="133.917" r="0.25" fill="#b0b0b0"/>
<circle cx="410.98" cy="100.207" r="0.25" fill="#b0b0b0"/>
<circle cx="434.294" cy="135.178" r="0.25" fill="#b0b0b0"/>
<circle cx="362.747" cy="121.719" r="0.25" fill="#b0b0b0"/>
<circle cx="370.122" cy="105.858" r="0.25" fill="#b0b0b0"/>
<circle cx="418.794" cy="135.913" r="0.25" fill="#b0b0b0"/>
<circle cx="455.584" cy="137.85" r="0.25" fill="#b0b0b0"/>
<circle cx="376.795" cy="98.5272" r="0.25" fill="#b0b0b0"/>
<circle cx="473.517" cy="138.256" r="0.25" fill="#b0b0b0"/>
<circle cx="413.811" cy="95.0979" r="0.25" fill="#b0b0b0"/>
<circle cx="471.324" cy="110.753" r="0.25" fill="#b0b0b0"/>
<circle cx="468.477" cy="121.632" r="0.25" fill="#b0b0b0"/>
<circle cx="458.145" cy="100.101" r="0.25" fill="#b0b0b0"/>
<circle cx="453.122" cy="102.993" r="0.25" fill="#b0b0b0"/>
<circle cx="403.662" cy="132.209" r="0.25" fill="#b0b0b0"/>
<circle cx="458.746" cy="101.163" r="0.25" fill="#b0b0b0"/>
<circle cx="379.492" cy="111.308" r="0.25" fill="#b0b0b0"/>
<circle cx="418.371" cy="110.551" r="0.25" fill="#b0b0b0"/>
<circle cx="367.16" cy="104.162" r="0.25" fill="#b0b0b0"/>
<circle cx="445.217" cy="134.593" r="0.25" fill="#b0b0b0"/>
<circle cx="449.443" cy="94.3844" r="0.25" fill="#b0b0b0"/>
<circle cx="459.915" cy="98.1098" r="0.25" fill="#b0b0b0"/>
<circle cx="432.527" cy="106.931" r="0.25" fill="#b0b0b0"/>
<circle cx="406.418" cy="123.434" r="0.25" fill="#b0b0b0"/>
<circle cx="354.232" cy="121.564" r="0.25" fill="#b0b0b0"/>
<circle cx="414.688" cy="103.61" r="0.25" fill="#b0b0b0"/>
<circle cx="450.234" cy="129.103" r="0.25" fill="#b0b0b0"/>
<circle cx="410.64" cy="101.004" r="0.25" fill="#b0b0b0"/>
<circle cx="412.576" cy="97.6112" r="0.25" fill="#b0b0b0"/>
<circle cx="417.368" cy="94.5079" r="0.25" fill="#b0b0b0"/>
<circle cx="433.746" cy="96.4489" r="0.25" fill="#b0b0b0"/>
<circle cx="446.332" cy="128.993" r="0.25" fill="#b0b0b0"/>
<circle cx="417.539" cy="95.1396" r="0.25" fill="#b0b0b0"/>
<circle cx="416.559" cy="110.284" r="0.25" fill="#b0b0b0"/>
<circle cx="474.528" cy="98.9735" r="0.25" fill="#b0b0b0"/>
<circle cx="462.362" cy="139.219" r="0.25" fill="#b0b0b0"/>
<circle cx="446.151" cy="130.742" r="0.25" fill="#b0b0b0"/>
<circle cx="376.324" cy="138.545" r="0.25" fill="#b0b0b0"/>
<circle cx="414.996" cy="137.371" r="0.25" fill="#b0b0b0"/>
<circle cx="470.011" cy="100.327" r="0.25" fill="#b0b0b0"/>
<circle cx="453.453" cy="136.151" r="0.25" fill="#b0b0b0"/>
<circle cx="359.697" cy="109.022" r="0.25" fill="#b0b0b0"/>
<circle cx="449.277" cy="100.03" r="0.25" fill="#b0b0b0"/>
<circle cx="467.481" cy="105.47" r="0.25" fill="#b0b0b0"/>
<circle cx="456.987" cy="99.3192" r="0.25" fill="#b0b0b0"/>
<circle cx="416.338" cy="135.652" r="0.25" fill="#b0b0b0"/>
<circle cx="378.22" cy="104.902" r="0.25" fill="#b0b0b0"/>
<circle cx="416.829" cy="107.533" r="0.25" fill="#b0b0b0"/>
<circle cx="355.977" cy="101.122" r="0.25" fill="#b0b0b0"/>
<circle cx="372.111" cy="136.424" r="0.25" fill="#b0b0b0"/>
<circle cx="439.354" cy="134.505" r="0.25" fill="#b0b0b0"/>
<circle cx="373.086" cy="129.332" r="0.25" fill="#b0b0b0"/>
<circle cx="433.731" cy="109.438" r="0.25" fill="#b0b0b0"/>
<circle cx="426.432" cy="133.903" r="0.25" fill="#b0b0b0"/>
<circle cx="364.768" cy="139.07" r="0.25" fill="#b0b0b0"/>
<circle cx="432.882" cy="111.051" r="0.25" fill="#b0b0b0"/>
<circle cx="454.658" cy="104.99" r="0.25" fill="#b0b0b0"/>
<circle cx="397.925" cy="128.385" r="0.25" fill="#b0b0b0"/>
<circle cx="408.564" cy="100.872" r="0.25" fill="#b0b0b0"/>
<circle cx="447.644" cy="94.86" r="0.25" fill="#b0b0b0"/>
<circle cx="457.531" cy="104.471" r="0.25" fill="#b0b0b0"/>
<circle cx="434.109" cy="138.654" r="0.25" fill="#b0b0b0"/>
<circle cx="427.187" cy="123.661" r="0.25" fill="#b0b0b0"/>
<circle cx="391.751" cy="92.6838" r="0.25" fill="#b0b0b0"/>
<circle cx="355.583" cy="99.5903" r="0.25" fill="#b0b0b0"/>
<circle cx="417.694" cy="134.511" r="0.25" fill="#b0b0b0"/>
<circle cx="368.323" cy="103.236" r="0.25" fill="#b0b0b0"/>
<circle cx="435.908" cy="93.6431" r="0.25" fill="#b0b0b0"/>
<circle cx="351.539" cy="109.212" r="0.25" fill="#b0b0b0"/>
<circle cx="364.995" cy="109.315" r="0.25" fill="#b0b0b0"/>
<circle cx="427.605" cy="102.156" r="0.25" fill="#b0b0b0"/>
<rect x="351.2" y="112.55" width="129.7" height="9.4" fill="#9aa3ad" opacity="0.45"/>
<rect x="351.2" y="113.05" width="129.7" height="6.9" fill="#161616"/>
<rect x="351.2" y="112.113" width="0.661698" height="0.936591" fill="#2a2a2a"/>
<rect x="351.2" y="119.95" width="0.661698" height="0.535894" fill="#3a3f46"/>
<rect x="351.862" y="112.954" width="0.679176" height="0.0958047" fill="#2a2a2a"/>
<rect x="351.862" y="119.95" width="0.679176" height="1.40406" fill="#3a3f46"/>
<rect x="352.541" y="112.268" width="1.54554" height="0.782156" fill="#2a2a2a"/>
<rect x="352.541" y="119.95" width="1.54554" height="0.884296" fill="#3a3f46"/>
<rect x="354.086" y="113.039" width="0.817088" height="0.011496" fill="#2a2a2a"/>
<rect x="354.086" y="119.95" width="0.817088" height="1.41888" fill="#3a3f46"/>
<rect x="354.904" y="112.7" width="1.1748" height="0.350333" fill="#2a2a2a"/>
<rect x="354.904" y="119.95" width="1.1748" height="1.42033" fill="#3a3f46"/>
<rect x="356.078" y="112.113" width="1.03251" height="0.937157" fill="#2a2a2a"/>
<rect x="356.078" y="119.95" width="1.03251" height="1.61375" fill="#3a3f46"/>
<rect x="357.111" y="112.146" width="0.798196" height="0.903503" fill="#2a2a2a"/>
<rect x="357.111" y="119.95" width="0.798196" height="0.0968044" fill="#3a3f46"/>
<rect x="357.909" y="112.644" width="1.13783" height="0.405989" fill="#2a2a2a"/>
<rect x="357.909" y="119.95" width="1.13783" height="0.522871" fill="#3a3f46"/>
<rect x="359.047" y="112.271" width="0.570055" height="0.778872" fill="#2a2a2a"/>
<rect x="359.047" y="119.95" width="0.570055" height="0.0271702" fill="#3a3f46"/>
<rect x="359.617" y="112.109" width="1.16111" height="0.940921" fill="#2a2a2a"/>
<rect x="359.617" y="119.95" width="1.16111" height="0.312986" fill="#3a3f46"/>
<rect x="360.778" y="112.442" width="0.739422" height="0.608083" fill="#2a2a2a"/>
<rect x="360.778" y="119.95" width="0.739422" height="1.11529" fill="#3a3f46"/>
<rect x="361.517" y="112.237" width="1.26988" height="0.813381" fill="#2a2a2a"/>
<rect x="361.517" y="119.95" width="1.26988" height="0.384207" fill="#3a3f46"/>
<rect x="362.787" y="112.75" width="0.871259" height="0.300266" fill="#2a2a2a"/>
<rect x="362.787" y="119.95" width="0.871259" height="0.10668" fill="#3a3f46"/>
<rect x="363.659" y="112.267" width="1.56722" height="0.782974" fill="#2a2a2a"/>
<rect x="363.659" y="119.95" width="1.56722" height="1.57388" fill="#3a3f46"/>
<rect x="365.226" y="112.206" width="0.507619" height="0.844432" fill="#2a2a2a"/>
<rect x="365.226" y="119.95" width="0.507619" height="1.63941" fill="#3a3f46"/>
<rect x="365.733" y="112.308" width="1.05832" height="0.741755" fill="#2a2a2a"/>
<rect x="365.733" y="119.95" width="1.05832" height="0.995472" fill="#3a3f46"/>
<rect x="366.792" y="112.945" width="0.771138" height="0.105282" fill="#2a2a2a"/>
<rect x="366.792" y="119.95" width="0.771138" height="0.511053" fill="#3a3f46"/>
<rect x="367.563" y="112.714" width="0.546581" height="0.335516" fill="#2a2a2a"/>
<rect x="367.563" y="119.95" width="0.546581" height="1.64924" fill="#3a3f46"/>
<rect x="368.109" y="112.205" width="1.33413" height="0.845333" fill="#2a2a2a"/>
<rect x="368.109" y="119.95" width="1.33413" height="1.56571" fill="#3a3f46"/>
<rect x="369.444" y="112.496" width="0.819185" height="0.553788" fill="#2a2a2a"/>
<rect x="369.444" y="119.95" width="0.819185" height="0.959316" fill="#3a3f46"/>
<rect x="370.263" y="112.527" width="1.44614" height="0.523245" fill="#2a2a2a"/>
<rect x="370.263" y="119.95" width="1.44614" height="0.583652" fill="#3a3f46"/>
<rect x="371.709" y="112.085" width="1.2704" height="0.965141" fill="#2a2a2a"/>
<rect x="371.709" y="119.95" width="1.2704" height="0.47739" fill="#3a3f46"/>
<rect x="372.979" y="113.035" width="1.55605" height="0.0152277" fill="#2a2a2a"/>
<rect x="372.979" y="119.95" width="1.55605" height="0.572811" fill="#3a3f46"/>
<rect x="374.535" y="112.306" width="0.783331" height="0.743879" fill="#2a2a2a"/>
<rect x="374.535" y="119.95" width="0.783331" height="2.07834" fill="#3a3f46"/>
<rect x="375.319" y="112.723" width="1.39538" height="0.326871" fill="#2a2a2a"/>
<rect x="375.319" y="119.95" width="1.39538" height="1.93636" fill="#3a3f46"/>
<rect x="376.714" y="112.811" width="0.894264" height="0.239168" fill="#2a2a2a"/>
<rect x="376.714" y="119.95" width="0.894264" height="1.99665" fill="#3a3f46"/>
<rect x="377.608" y="112.357" width="1.25684" height="0.692843" fill="#2a2a2a"/>
<rect x="377.608" y="119.95" width="1.25684" height="1.46352" fill="#3a3f46"/>
<rect x="378.865" y="112.581" width="1.67482" height="0.469493" fill="#2a2a2a"/>
<rect x="378.865" y="119.95" width="1.67482" height="1.84736" fill="#3a3f46"/>
<rect x="380.54" y="112.192" width="1.33714" height="0.857523" fill="#2a2a2a"/>
<rect x="380.54" y="119.95" width="1.33714" height="0.961871" fill="#3a3f46"/>
<rect x="381.877" y="112.48" width="1.36955" height="0.57034" fill="#2a2a2a"/>
<rect x="381.877" y="119.95" width="1.36955" height="0.677052" fill="#3a3f46"/>
<rect x="383.247" y="112.427" width="0.754359" height="0.622622" fill="#2a2a2a"/>
<rect x="383.247" y="119.95" width="0.754359" height="0.171165" fill="#3a3f46"/>
<rect x="384.001" y="112.905" width="1.59295" height="0.144595" fill="#2a2a2a"/>
<rect x="384.001" y="119.95" width="1.59295" height="0.0591856" fill="#3a3f46"/>
<rect x="385.594" y="112.121" width="0.628014" height="0.928949" fill="#2a2a2a"/>
<rect x="385.594" y="119.95" width="0.628014" height="0.7587" fill="#3a3f46"/>
<rect x="386.222" y="113.021" width="0.67021" height="0.0287326" fill="#2a2a2a"/>
<rect x="386.222" y="119.95" width="0.67021" height="0.0916288" fill="#3a3f46"/>
<rect x="386.892" y="112.416" width="1.33115" height="0.633878" fill="#2a2a2a"/>
<rect x="386.892" y="119.95" width="1.33115" height="1.53342" fill="#3a3f46"/>
<rect x="388.223" y="112.984" width="1.38414" height="0.0657653" fill="#2a2a2a"/>
<rect x="388.223" y="119.95" width="1.38414" height="1.29904" fill="#3a3f46"/>
<rect x="389.608" y="112.232" width="0.936087" height="0.817562" fill="#2a2a2a"/>
<rect x="389.608" y="119.95" width="0.936087" height="1.80304" fill="#3a3f46"/>
<rect x="390.544" y="112.984" width="1.56954" height="0.0659484" fill="#2a2a2a"/>
<rect x="390.544" y="119.95" width="1.56954" height="1.90914" fill="#3a3f46"/>
<rect x="392.113" y="112.106" width="1.59729" height="0.944326" fill="#2a2a2a"/>
<rect x="392.113" y="119.95" width="1.59729" height="0.235655" fill="#3a3f46"/>
<rect x="393.71" y="112.938" width="0.746868" height="0.11197" fill="#2a2a2a"/>
<rect x="393.71" y="119.95" width="0.746868" height="0.075739" fill="#3a3f46"/>
<rect x="394.457" y="112.238" width="1.51726" height="0.812019" fill="#2a2a2a"/>
<rect x="394.457" y="119.95" width="1.51726" height="1.39518" fill="#3a3f46"/>
<rect x="395.975" y="112.418" width="1.49007" height="0.631536" fill="#2a2a2a"/>
<rect x="395.975" y="119.95" width="1.49007" height="0.632203" fill="#3a3f46"/>
<rect x="397.465" y="112.952" width="0.619853" height="0.0978618" fill="#2a2a2a"/>
<rect x="397.465" y="119.95" width="0.619853" height="1.6662" fill="#3a3f46"/>
<rect x="398.084" y="112.731" width="0.745992" height="0.319139" fill="#2a2a2a"/>
<rect x="398.084" y="119.95" width="0.745992" height="0.932284" fill="#3a3f46"/>
<rect x="398.83" y="112.793" width="0.525102" height="0.256702" fill="#2a2a2a"/>
<rect x="398.83" y="119.95" width="0.525102" height="0.621705" fill="#3a3f46"/>
<rect x="399.356" y="112.682" width="1.35891" height="0.368024" fill="#2a2a2a"/>
<rect x="399.356" y="119.95" width="1.35891" height="0.705822" fill="#3a3f46"/>
<rect x="400.714" y="112.546" width="1.6568" height="0.503737" fill="#2a2a2a"/>
<rect x="400.714" y="119.95" width="1.6568" height="1.87303" fill="#3a3f46"/>
<rect x="402.371" y="113.019" width="1.24193" height="0.0309814" fill="#2a2a2a"/>
<rect x="402.371" y="119.95" width="1.24193" height="0.908426" fill="#3a3f46"/>
<rect x="403.613" y="112.277" width="1.02374" height="0.773026" fill="#2a2a2a"/>
<rect x="403.613" y="119.95" width="1.02374" height="0.76292" fill="#3a3f46"/>
<rect x="404.637" y="112.512" width="1.34559" height="0.537881" fill="#2a2a2a"/>
<rect x="404.637" y="119.95" width="1.34559" height="0.476463" fill="#3a3f46"/>
<rect x="405.983" y="112.959" width="1.53469" height="0.0908895" fill="#2a2a2a"/>
<rect x="405.983" y="119.95" width="1.53469" height="1.80358" fill="#3a3f46"/>
<rect x="407.517" y="113.049" width="0.704446" height="0.00129906" fill="#2a2a2a"/>
<rect x="407.517" y="119.95" width="0.704446" height="0.444477" fill="#3a3f46"/>
<rect x="408.222" y="112.072" width="1.41462" height="0.977866" fill="#2a2a2a"/>
<rect x="408.222" y="119.95" width="1.41462" height="0.00959567" fill="#3a3f46"/>
<rect x="409.636" y="112.559" width="1.08899" height="0.491484" fill="#2a2a2a"/>
<rect x="409.636" y="119.95" width="1.08899" height="1.7529" fill="#3a3f46"/>
<rect x="410.725" y="112.555" width="0.721423" height="0.494582" fill="#2a2a2a"/>
<rect x="410.725" y="119.95" width="0.721423" height="0.763808" fill="#3a3f46"/>
<rect x="411.447" y="112.789" width="1.4982" height="0.260575" fill="#2a2a2a"/>
<rect x="411.447" y="119.95" width="1.4982" height="2.07651" fill="#3a3f46"/>
<rect x="412.945" y="112.835" width="0.840476" height="0.214714" fill="#2a2a2a"/>
<rect x="412.945" y="119.95" width="0.840476" height="1.53885" fill="#3a3f46"/>
<rect x="413.785" y="112.94" width="1.09798" height="0.109923" fill="#2a2a2a"/>
<rect x="413.785" y="119.95" width="1.09798" height="1.40037" fill="#3a3f46"/>
<rect x="414.883" y="112.262" width="0.597059" height="0.787914" fill="#2a2a2a"/>
<rect x="414.883" y="119.95" width="0.597059" height="1.53375" fill="#3a3f46"/>
<rect x="415.48" y="112.422" width="1.44432" height="0.627932" fill="#2a2a2a"/>
<rect x="415.48" y="119.95" width="1.44432" height="0.782358" fill="#3a3f46"/>
<rect x="416.925" y="112.655" width="0.981525" height="0.394599" fill="#2a2a2a"/>
<rect x="416.925" y="119.95" width="0.981525" height="1.9589" fill="#3a3f46"/>
<rect x="417.906" y="112.162" width="0.603407" height="0.888449" fill="#2a2a2a"/>
<rect x="417.906" y="119.95" width="0.603407" height="0.0553829" fill="#3a3f46"/>
<rect x="418.51" y="112.787" width="0.74734" height="0.263195" fill="#2a2a2a"/>
<rect x="418.51" y="119.95" width="0.74734" height="1.98267" fill="#3a3f46"/>
<rect x="419.257" y="112.671" width="1.10143" height="0.379305" fill="#2a2a2a"/>
<rect x="419.257" y="119.95" width="1.10143" height="1.94475" fill="#3a3f46"/>
<rect x="420.358" y="112.589" width="0.780291" height="0.460908" fill="#2a2a2a"/>
<rect x="420.358" y="119.95" width="0.780291" height="1.1694" fill="#3a3f46"/>
<rect x="421.139" y="112.297" width="1.40537" height="0.752989" fill="#2a2a2a"/>
<rect x="421.139" y="119.95" width="1.40537" height="1.42186" fill="#3a3f46"/>
<rect x="422.544" y="112.723" width="0.918183" height="0.32666" fill="#2a2a2a"/>
<rect x="422.544" y="119.95" width="0.918183" height="0.341719" fill="#3a3f46"/>
<rect x="423.462" y="112.388" width="1.51173" height="0.6621" fill="#2a2a2a"/>
<rect x="423.462" y="119.95" width="1.51173" height="1.63237" fill="#3a3f46"/>
<rect x="424.974" y="112.611" width="0.703461" height="0.438798" fill="#2a2a2a"/>
<rect x="424.974" y="119.95" width="0.703461" height="1.70156" fill="#3a3f46"/>
<rect x="425.677" y="112.924" width="1.195" height="0.126057" fill="#2a2a2a"/>
<rect x="425.677" y="119.95" width="1.195" height="1.01644" fill="#3a3f46"/>
<rect x="426.872" y="112.812" width="1.56215" height="0.23794" fill="#2a2a2a"/>
<rect x="426.872" y="119.95" width="1.56215" height="0.421462" fill="#3a3f46"/>
<rect x="428.435" y="112.347" width="0.861809" height="0.703166" fill="#2a2a2a"/>
<rect x="428.435" y="119.95" width="0.861809" height="1.85606" fill="#3a3f46"/>
<rect x="429.296" y="112.894" width="0.685513" height="0.155986" fill="#2a2a2a"/>
<rect x="429.296" y="119.95" width="0.685513" height="0.544678" fill="#3a3f46"/>
<rect x="429.982" y="112.528" width="0.891875" height="0.522179" fill="#2a2a2a"/>
<rect x="429.982" y="119.95" width="0.891875" height="0.354034" fill="#3a3f46"/>
<rect x="430.874" y="112.861" width="0.89369" height="0.189273" fill="#2a2a2a"/>
<rect x="430.874" y="119.95" width="0.89369" height="2.14533" fill="#3a3f46"/>
<rect x="431.768" y="112.948" width="1.37448" height="0.101807" fill="#2a2a2a"/>
<rect x="431.768" y="119.95" width="1.37448" height="2.11725" fill="#3a3f46"/>
<rect x="433.142" y="112.666" width="0.621966" height="0.384233" fill="#2a2a2a"/>
<rect x="433.142" y="119.95" width="0.621966" height="2.16443" fill="#3a3f46"/>
<rect x="433.764" y="112.317" width="1.45387" height="0.733293" fill="#2a2a2a"/>
<rect x="433.764" y="119.95" width="1.45387" height="0.956831" fill="#3a3f46"/>
<rect x="435.218" y="112.412" width="0.735429" height="0.637981" fill="#2a2a2a"/>
<rect x="435.218" y="119.95" width="0.735429" height="0.235113" fill="#3a3f46"/>
<rect x="435.953" y="112.662" width="0.747733" height="0.388341" fill="#2a2a2a"/>
<rect x="435.953" y="119.95" width="0.747733" height="0.0746495" fill="#3a3f46"/>
<rect x="436.701" y="112.259" width="0.978825" height="0.791004" fill="#2a2a2a"/>
<rect x="436.701" y="119.95" width="0.978825" height="1.52557" fill="#3a3f46"/>
<rect x="437.68" y="112.418" width="1.10058" height="0.632378" fill="#2a2a2a"/>
<rect x="437.68" y="119.95" width="1.10058" height="1.01921" fill="#3a3f46"/>
<rect x="438.78" y="112.446" width="0.670175" height="0.603709" fill="#2a2a2a"/>
<rect x="438.78" y="119.95" width="0.670175" height="0.890369" fill="#3a3f46"/>
<rect x="439.451" y="112.142" width="1.38913" height="0.908004" fill="#2a2a2a"/>
<rect x="439.451" y="119.95" width="1.38913" height="0.946062" fill="#3a3f46"/>
<rect x="440.84" y="112.301" width="1.18877" height="0.7491" fill="#2a2a2a"/>
<rect x="440.84" y="119.95" width="1.18877" height="0.926541" fill="#3a3f46"/>
<rect x="442.028" y="112.328" width="0.774278" height="0.72222" fill="#2a2a2a"/>
<rect x="442.028" y="119.95" width="0.774278" height="1.93617" fill="#3a3f46"/>
<rect x="442.803" y="112.35" width="1.42886" height="0.700079" fill="#2a2a2a"/>
<rect x="442.803" y="119.95" width="1.42886" height="1.87538" fill="#3a3f46"/>
<rect x="444.232" y="112.408" width="1.31552" height="0.641539" fill="#2a2a2a"/>
<rect x="444.232" y="119.95" width="1.31552" height="0.998586" fill="#3a3f46"/>
<rect x="445.547" y="112.422" width="0.875617" height="0.628277" fill="#2a2a2a"/>
<rect x="445.547" y="119.95" width="0.875617" height="0.215307" fill="#3a3f46"/>
<rect x="446.423" y="112.268" width="1.0035" height="0.782378" fill="#2a2a2a"/>
<rect x="446.423" y="119.95" width="1.0035" height="1.56893" fill="#3a3f46"/>
<rect x="447.426" y="112.8" width="1.25554" height="0.250061" fill="#2a2a2a"/>
<rect x="447.426" y="119.95" width="1.25554" height="0.931876" fill="#3a3f46"/>
<rect x="448.682" y="112.428" width="1.04623" height="0.621569" fill="#2a2a2a"/>
<rect x="448.682" y="119.95" width="1.04623" height="0.900558" fill="#3a3f46"/>
<rect x="449.728" y="112.12" width="1.31029" height="0.930197" fill="#2a2a2a"/>
<rect x="449.728" y="119.95" width="1.31029" height="0.402737" fill="#3a3f46"/>
<rect x="451.038" y="112.272" width="1.28539" height="0.778179" fill="#2a2a2a"/>
<rect x="451.038" y="119.95" width="1.28539" height="0.855159" fill="#3a3f46"/>
<rect x="452.324" y="112.075" width="1.08781" height="0.97462" fill="#2a2a2a"/>
<rect x="452.324" y="119.95" width="1.08781" height="0.0839202" fill="#3a3f46"/>
<rect x="453.411" y="112.889" width="1.15203" height="0.160843" fill="#2a2a2a"/>
<rect x="453.411" y="119.95" width="1.15203" height="1.71994" fill="#3a3f46"/>
<rect x="454.564" y="112.531" width="1.62871" height="0.51922" fill="#2a2a2a"/>
<rect x="454.564" y="119.95" width="1.62871" height="0.222391" fill="#3a3f46"/>
<rect x="456.192" y="112.509" width="1.18947" height="0.541035" fill="#2a2a2a"/>
<rect x="456.192" y="119.95" width="1.18947" height="1.57805" fill="#3a3f46"/>
<rect x="457.382" y="112.411" width="1.11463" height="0.639261" fill="#2a2a2a"/>
<rect x="457.382" y="119.95" width="1.11463" height="1.82377" fill="#3a3f46"/>
<rect x="458.496" y="112.64" width="1.12603" height="0.410349" fill="#2a2a2a"/>
<rect x="458.496" y="119.95" width="1.12603" height="2.08554" fill="#3a3f46"/>
<rect x="459.622" y="112.366" width="0.752107" height="0.68436" fill="#2a2a2a"/>
<rect x="459.622" y="119.95" width="0.752107" height="0.863485" fill="#3a3f46"/>
<rect x="460.374" y="112.928" width="1.41524" height="0.122395" fill="#2a2a2a"/>
<rect x="460.374" y="119.95" width="1.41524" height="2.16583" fill="#3a3f46"/>
<rect x="461.79" y="112.993" width="0.926568" height="0.0566183" fill="#2a2a2a"/>
<rect x="461.79" y="119.95" width="0.926568" height="0.603586" fill="#3a3f46"/>
<rect x="462.716" y="113.037" width="0.979621" height="0.0133083" fill="#2a2a2a"/>
<rect x="462.716" y="119.95" width="0.979621" height="0.920881" fill="#3a3f46"/>
<rect x="463.696" y="112.352" width="1.00466" height="0.698253" fill="#2a2a2a"/>
<rect x="463.696" y="119.95" width="1.00466" height="0.774675" fill="#3a3f46"/>
<rect x="464.701" y="112.826" width="0.818189" height="0.224427" fill="#2a2a2a"/>
<rect x="464.701" y="119.95" width="0.818189" height="1.63124" fill="#3a3f46"/>
<rect x="465.519" y="112.523" width="1.62792" height="0.527076" fill="#2a2a2a"/>
<rect x="465.519" y="119.95" width="1.62792" height="0.481609" fill="#3a3f46"/>
<rect x="467.147" y="112.658" width="1.46178" height="0.391963" fill="#2a2a2a"/>
<rect x="467.147" y="119.95" width="1.46178" height="0.466428" fill="#3a3f46"/>
<rect x="468.608" y="112.273" width="0.655159" height="0.776608" fill="#2a2a2a"/>
<rect x="468.608" y="119.95" width="0.655159" height="1.78106" fill="#3a3f46"/>
<rect x="469.264" y="112.581" width="1.26116" height="0.469159" fill="#2a2a2a"/>
<rect x="469.264" y="119.95" width="1.26116" height="1.23652" fill="#3a3f46"/>
<rect x="470.525" y="112.086" width="0.771184" height="0.963864" fill="#2a2a2a"/>
<rect x="470.525" y="119.95" width="0.771184" height="0.77689" fill="#3a3f46"/>
<rect x="471.296" y="112.231" width="1.26656" height="0.818739" fill="#2a2a2a"/>
<rect x="471.296" y="119.95" width="1.26656" height="1.79559" fill="#3a3f46"/>
<rect x="472.563" y="112.756" width="1.06172" height="0.294342" fill="#2a2a2a"/>
<rect x="472.563" y="119.95" width="1.06172" height="1.20619" fill="#3a3f46"/>
<rect x="473.624" y="112.216" width="0.650199" height="0.833744" fill="#2a2a2a"/>
<rect x="473.624" y="119.95" width="0.650199" height="0.780442" fill="#3a3f46"/>
<rect x="474.274" y="112.783" width="1.5208" height="0.267424" fill="#2a2a2a"/>
<rect x="474.274" y="119.95" width="1.5208" height="0.827527" fill="#3a3f46"/>
<rect x="475.795" y="112.624" width="0.804259" height="0.426104" fill="#2a2a2a"/>
<rect x="475.795" y="119.95" width="0.804259" height="0.408957" fill="#3a3f46"/>
<rect x="476.599" y="112.328" width="0.503234" height="0.721789" fill="#2a2a2a"/>
<rect x="476.599" y="119.95" width="0.503234" height="0.618666" fill="#3a3f46"/>
<rect x="477.103" y="112.748" width="0.793961" height="0.30182" fill="#2a2a2a"/>
<rect x="477.103" y="119.95" width="0.793961" height="1.05501" fill="#3a3f46"/>
<rect x="477.897" y="112.413" width="1.01419" height="0.637301" fill="#2a2a2a"/>
<rect x="477.897" y="119.95" width="1.01419" height="1.45038" fill="#3a3f46"/>
<rect x="478.911" y="112.121" width="0.934918" height="0.928726" fill="#2a2a2a"/>
<rect x="478.911" y="119.95" width="0.934918" height="1.87978" fill="#3a3f46"/>
<rect x="479.846" y="112.222" width="0.568475" height="0.8279" fill="#2a2a2a"/>
<rect x="479.846" y="119.95" width="0.568475" height="1.99277" fill="#3a3f46"/>
<rect x="480.414" y="112.91" width="0.48573" height="0.140402" fill="#2a2a2a"/>
<rect x="480.414" y="119.95" width="0.48573" height="1.82892" fill="#3a3f46"/>
<rect x="432.688" y="119.95" width="0.4" height="2.05245" fill="#555b63"/>
<rect x="352.677" y="119.95" width="0.4" height="5.33119" fill="#555b63"/>
<rect x="435.622" y="119.95" width="0.4" height="2.87509" fill="#555b63"/>
<rect x="364.265" y="119.95" width="0.4" height="2.49956" fill="#555b63"/>
<rect x="381.27" y="119.95" width="0.4" height="4.71707" fill="#555b63"/>
<rect x="395.787" y="119.95" width="0.4" height="2.53435" fill="#555b63"/>
<rect x="467.556" y="119.95" width="0.4" height="4.77086" fill="#555b63"/>
<rect x="372.81" y="119.95" width="0.4" height="5.11897" fill="#555b63"/>
<rect x="429.497" y="119.95" width="0.4" height="4.73449" fill="#555b63"/>
<rect x="437.231" y="119.95" width="0.4" height="5.12869" fill="#555b63"/>
<rect x="452.625" y="119.95" width="0.4" height="4.93581" fill="#555b63"/>
<rect x="376.602" y="119.95" width="0.4" height="4.42477" fill="#555b63"/>
<rect x="419.513" y="119.95" width="0.4" height="4.59669" fill="#555b63"/>
<rect x="407.646" y="119.95" width="0.4" height="5.08939" fill="#555b63"/>
<rect x="422.637" y="119.95" width="0.4" height="2.92573" fill="#555b63"/>
<rect x="381.338" y="119.95" width="0.4" height="2.48768" fill="#555b63"/>
<rect x="414.659" y="119.95" width="0.4" height="2.20459" fill="#555b63"/>
<rect x="411.315" y="119.95" width="0.4" height="2.50547" fill="#555b63"/>
<rect x="414.44" y="119.95" width="0.4" height="3.74361" fill="#555b63"/>
<rect x="420.639" y="119.95" width="0.4" height="5.02007" fill="#555b63"/>
<rect x="352.05" y="119.95" width="0.4" height="4.94269" fill="#555b63"/>
<rect x="411.427" y="119.95" width="0.4" height="3.96899" fill="#555b63"/>
<rect x="436.824" y="119.95" width="0.4" height="4.94198" fill="#555b63"/>
<rect x="399.457" y="119.95" width="0.4" height="3.46586" fill="#555b63"/>
<rect x="474.831" y="119.95" width="0.4" height="2.26389" fill="#555b63"/>
<rect x="433.187" y="119.95" width="0.4" height="4.22644" fill="#555b63"/>
<rect x="354.872" y="119.95" width="0.4" height="4.13386" fill="#555b63"/>
<rect x="439.049" y="119.95" width="0.4" height="5.26023" fill="#555b63"/>
<rect x="393.73" y="119.95" width="0.4" height="5.43599" fill="#555b63"/>
<rect x="416.918" y="119.95" width="0.4" height="3.69636" fill="#555b63"/>
<rect x="466.716" y="119.95" width="0.4" height="2.11864" fill="#555b63"/>
<rect x="443.63" y="119.95" width="0.4" height="4.18847" fill="#555b63"/>
<rect x="394.779" y="119.95" width="0.4" height="5.01592" fill="#555b63"/>
<rect x="398.325" y="119.95" width="0.4" height="3.66087" fill="#555b63"/>
<rect x="418.837" y="119.95" width="0.4" height="4.69701" fill="#555b63"/>
<rect x="378.32" y="119.95" width="0.4" height="3.52316" fill="#555b63"/>
<rect x="405.561" y="119.95" width="0.4" height="3.9391" fill="#555b63"/>
<rect x="457.599" y="119.95" width="0.4" height="3.02509" fill="#555b63"/>
<rect x="457.729" y="119.95" width="0.4" height="3.41305" fill="#555b63"/>
<rect x="416.033" y="119.95" width="0.4" height="2.95094" fill="#555b63"/>
<rect x="356.631" y="111.55" width="1.2" height="10.8" fill="#ffffff"/>
<rect x="422.289" y="111.55" width="2.6" height="10.8" fill="#ffffff"/>
<rect x="445.385" y="111.55" width="0.8" height="10.8" fill="#ffffff"/>
<rect x="450.566" y="111.55" width="0.8" height="10.8" fill="#ffffff"/>
<rect x="455.386" y="111.55" width="0.8" height="10.8" fill="#ffffff"/>
<rect x="477.64" y="111.55" width="0.6" height="10.8" fill="#ffffff"/>
<line x1="351.2" y1="116.35" x2="480.9" y2="116.35" stroke="#b07a3a" stroke-width="0.7"/>
<rect x="356.631" y="116.15" width="1.2" height="0.8" fill="#ffffff"/>
<rect x="422.289" y="116.15" width="2.6" height="0.8" fill="#ffffff"/>
<rect x="445.385" y="116.15" width="0.8" height="0.8" fill="#ffffff"/>
<rect x="450.566" y="116.15" width="0.8" height="0.8" fill="#ffffff"/>
<rect x="455.386" y="116.15" width="0.8" height="0.8" fill="#ffffff"/>
<rect x="477.64" y="116.15" width="0.6" height="0.8" fill="#ffffff"/>
<rect x="351.2" y="90.6" width="129.7" height="50.8" fill="none" stroke="#2a2a2a" stroke-width="1.1"/>
<line x1="349.7" y1="90.6" x2="351.2" y2="90.6" stroke="#333" stroke-width="0.7"/>
<text x="348.9" y="92.2" font-size="4.6" text-anchor="end" font-weight="normal" font-style="normal" fill="#222" stroke="#222" stroke-width="0.22">1.75</text>
<line x1="349.7" y1="116.55" x2="351.2" y2="116.55" stroke="#333" stroke-width="0.7"/>
<text x="348.9" y="118.15" font-size="4.6" text-anchor="end" font-weight="normal" font-style="normal" fill="#222" stroke="#222" stroke-width="0.22">0</text>
<line x1="349.7" y1="141.4" x2="351.2" y2="141.4" stroke="#333" stroke-width="0.7"/>
<text x="348.9" y="143" font-size="4.6" text-anchor="end" font-weight="normal" font-style="normal" fill="#222" stroke="#222" stroke-width="0.22">-1.75</text>
<text x="332.9" y="116.55" font-size="5.1" text-anchor="middle" font-weight="normal" font-style="normal" fill="#222" stroke="#222" stroke-width="0.22" transform="rotate(-90 332.9 116.55)">DOC ratio</text>
<text x="484" y="118.15" font-size="4.4" text-anchor="start" font-weight="normal" font-style="normal" fill="#222" stroke="#222" stroke-width="0.22">Response</text>
<line x1="356.809" y1="141.4" x2="356.809" y2="142.9" stroke="#333" stroke-width="0.6"/>
<text x="356.809" y="149.4" font-size="4.8" text-anchor="middle" font-weight="normal" font-style="normal" fill="#222" stroke="#222" stroke-width="0.22">1</text>
<line x1="367.891" y1="141.4" x2="367.891" y2="142.9" stroke="#333" stroke-width="0.6"/>
<text x="367.891" y="149.4" font-size="4.8" text-anchor="middle" font-weight="normal" font-style="normal" fill="#222" stroke="#222" stroke-width="0.22">2</text>
<line x1="377.825" y1="141.4" x2="377.825" y2="142.9" stroke="#333" stroke-width="0.6"/>
<text x="377.825" y="149.4" font-size="4.8" text-anchor="middle" font-weight="normal" font-style="normal" fill="#222" stroke="#222" stroke-width="0.22">3</text>
<line x1="386.587" y1="141.4" x2="386.587" y2="142.9" stroke="#333" stroke-width="0.6"/>
<text x="386.587" y="149.4" font-size="4.8" text-anchor="middle" font-weight="normal" font-style="normal" fill="#222" stroke="#222" stroke-width="0.22">4</text>
<line x1="394.966" y1="141.4" x2="394.966" y2="142.9" stroke="#333" stroke-width="0.6"/>
<text x="394.966" y="149.4" font-size="4.8" text-anchor="middle" font-weight="normal" font-style="normal" fill="#222" stroke="#222" stroke-width="0.22">5</text>
<line x1="402.895" y1="141.4" x2="402.895" y2="142.9" stroke="#333" stroke-width="0.6"/>
<text x="402.895" y="149.4" font-size="4.8" text-anchor="middle" font-weight="normal" font-style="normal" fill="#222" stroke="#222" stroke-width="0.22">6</text>
<line x1="410.329" y1="141.4" x2="410.329" y2="142.9" stroke="#333" stroke-width="0.6"/>
<text x="410.329" y="149.4" font-size="4.8" text-anchor="middle" font-weight="normal" font-style="normal" fill="#222" stroke="#222" stroke-width="0.22">7</text>
<line x1="417.199" y1="141.4" x2="417.199" y2="142.9" stroke="#333" stroke-width="0.6"/>
<text x="417.199" y="149.4" font-size="4.8" text-anchor="middle" font-weight="normal" font-style="normal" fill="#222" stroke="#222" stroke-width="0.22">8</text>
<line x1="423.664" y1="141.4" x2="423.664" y2="142.9" stroke="#333" stroke-width="0.6"/>
<text x="423.664" y="149.4" font-size="4.8" text-anchor="middle" font-weight="normal" font-style="normal" fill="#222" stroke="#222" stroke-width="0.22">9</text>
<line x1="429.903" y1="141.4" x2="429.903" y2="142.9" stroke="#333" stroke-width="0.6"/>
<text x="429.903" y="149.4" font-size="4.8" text-anchor="middle" font-weight="normal" font-style="normal" fill="#222" stroke="#222" stroke-width="0.22">10</text>
<line x1="442.067" y1="141.4" x2="442.067" y2="142.9" stroke="#333" stroke-width="0.6"/>
<text x="442.067" y="149.4" font-size="4.8" text-anchor="middle" font-weight="normal" font-style="normal" fill="#222" stroke="#222" stroke-width="0.22">12</text>
<line x1="452.676" y1="141.4" x2="452.676" y2="142.9" stroke="#333" stroke-width="0.6"/>
<text x="452.676" y="149.4" font-size="4.8" text-anchor="middle" font-weight="normal" font-style="normal" fill="#222" stroke="#222" stroke-width="0.22">14</text>
<line x1="461.754" y1="141.4" x2="461.754" y2="142.9" stroke="#333" stroke-width="0.6"/>
<text x="461.754" y="149.4" font-size="4.8" text-anchor="middle" font-weight="normal" font-style="normal" fill="#222" stroke="#222" stroke-width="0.22">16</text>
<line x1="469.187" y1="141.4" x2="469.187" y2="142.9" stroke="#333" stroke-width="0.6"/>
<text x="469.187" y="149.4" font-size="4.8" text-anchor="middle" font-weight="normal" font-style="normal" fill="#222" stroke="#222" stroke-width="0.22">18</text>
<line x1="477.521" y1="141.4" x2="477.521" y2="142.9" stroke="#333" stroke-width="0.6"/>
<text x="477.521" y="149.4" font-size="4.8" text-anchor="middle" font-weight="normal" font-style="normal" fill="#222" stroke="#222" stroke-width="0.22">21</text>
<line x1="362.418" y1="159.1" x2="362.418" y2="209.7" stroke="#c8c8c8" stroke-width="0.5"/>
<line x1="373.365" y1="159.1" x2="373.365" y2="209.7" stroke="#c8c8c8" stroke-width="0.5"/>
<line x1="382.285" y1="159.1" x2="382.285" y2="209.7" stroke="#c8c8c8" stroke-width="0.5"/>
<line x1="390.889" y1="159.1" x2="390.889" y2="209.7" stroke="#c8c8c8" stroke-width="0.5"/>
<line x1="399.043" y1="159.1" x2="399.043" y2="209.7" stroke="#c8c8c8" stroke-width="0.5"/>
<line x1="406.747" y1="159.1" x2="406.747" y2="209.7" stroke="#c8c8c8" stroke-width="0.5"/>
<line x1="413.91" y1="159.1" x2="413.91" y2="209.7" stroke="#c8c8c8" stroke-width="0.5"/>
<line x1="420.487" y1="159.1" x2="420.487" y2="209.7" stroke="#c8c8c8" stroke-width="0.5"/>
<line x1="426.84" y1="159.1" x2="426.84" y2="209.7" stroke="#c8c8c8" stroke-width="0.5"/>
<line x1="432.966" y1="159.1" x2="432.966" y2="209.7" stroke="#c8c8c8" stroke-width="0.5"/>
<line x1="439.048" y1="159.1" x2="439.048" y2="209.7" stroke="#c8c8c8" stroke-width="0.5"/>
<line x1="445.085" y1="159.1" x2="445.085" y2="209.7" stroke="#c8c8c8" stroke-width="0.5"/>
<line x1="450.266" y1="159.1" x2="450.266" y2="209.7" stroke="#c8c8c8" stroke-width="0.5"/>
<line x1="455.086" y1="159.1" x2="455.086" y2="209.7" stroke="#c8c8c8" stroke-width="0.5"/>
<line x1="459.726" y1="159.1" x2="459.726" y2="209.7" stroke="#c8c8c8" stroke-width="0.5"/>
<line x1="463.781" y1="159.1" x2="463.781" y2="209.7" stroke="#c8c8c8" stroke-width="0.5"/>
<line x1="467.43" y1="159.1" x2="467.43" y2="209.7" stroke="#c8c8c8" stroke-width="0.5"/>
<line x1="470.944" y1="159.1" x2="470.944" y2="209.7" stroke="#c8c8c8" stroke-width="0.5"/>
<line x1="473.602" y1="159.1" x2="473.602" y2="209.7" stroke="#c8c8c8" stroke-width="0.5"/>
<line x1="476.44" y1="159.1" x2="476.44" y2="209.7" stroke="#c8c8c8" stroke-width="0.5"/>
<line x1="478.602" y1="159.1" x2="478.602" y2="209.7" stroke="#c8c8c8" stroke-width="0.5"/>
<circle cx="416.883" cy="206.535" r="0.25" fill="#b0b0b0"/>
<circle cx="436.096" cy="198.005" r="0.25" fill="#b0b0b0"/>
<circle cx="394.117" cy="175.877" r="0.25" fill="#b0b0b0"/>
<circle cx="433.536" cy="197.644" r="0.25" fill="#b0b0b0"/>
<circle cx="356.395" cy="194.777" r="0.25" fill="#b0b0b0"/>
<circle cx="357.646" cy="175.099" r="0.25" fill="#b0b0b0"/>
<circle cx="352.006" cy="169.951" r="0.25" fill="#b0b0b0"/>
<circle cx="436.545" cy="197.869" r="0.25" fill="#b0b0b0"/>
<circle cx="431.186" cy="190.31" r="0.25" fill="#b0b0b0"/>
<circle cx="439.523" cy="171.003" r="0.25" fill="#b0b0b0"/>
<circle cx="450.119" cy="165.823" r="0.25" fill="#b0b0b0"/>
<circle cx="374.714" cy="162.823" r="0.25" fill="#b0b0b0"/>
<circle cx="451.657" cy="203.696" r="0.25" fill="#b0b0b0"/>
<circle cx="436.247" cy="178.289" r="0.25" fill="#b0b0b0"/>
<circle cx="457.893" cy="197.753" r="0.25" fill="#b0b0b0"/>
<circle cx="424.105" cy="173.123" r="0.25" fill="#b0b0b0"/>
<circle cx="434.437" cy="204.618" r="0.25" fill="#b0b0b0"/>
<circle cx="356.308" cy="166.638" r="0.25" fill="#b0b0b0"/>
<circle cx="353.033" cy="179.141" r="0.25" fill="#b0b0b0"/>
<circle cx="427.979" cy="204.798" r="0.25" fill="#b0b0b0"/>
<circle cx="404.69" cy="165.855" r="0.25" fill="#b0b0b0"/>
<circle cx="434.792" cy="170.992" r="0.25" fill="#b0b0b0"/>
<circle cx="370.884" cy="161.824" r="0.25" fill="#b0b0b0"/>
<circle cx="351.82" cy="192.963" r="0.25" fill="#b0b0b0"/>
<circle cx="366.981" cy="206.132" r="0.25" fill="#b0b0b0"/>
<circle cx="362.632" cy="201.621" r="0.25" fill="#b0b0b0"/>
<circle cx="367.927" cy="161.928" r="0.25" fill="#b0b0b0"/>
<circle cx="444.5" cy="172.39" r="0.25" fill="#b0b0b0"/>
<circle cx="446.342" cy="169.833" r="0.25" fill="#b0b0b0"/>
<circle cx="357.703" cy="197.169" r="0.25" fill="#b0b0b0"/>
<circle cx="443.748" cy="200.966" r="0.25" fill="#b0b0b0"/>
<circle cx="445.845" cy="165.028" r="0.25" fill="#b0b0b0"/>
<circle cx="432.732" cy="194.15" r="0.25" fill="#b0b0b0"/>
<circle cx="410.937" cy="204.547" r="0.25" fill="#b0b0b0"/>
<circle cx="384.15" cy="206.037" r="0.25" fill="#b0b0b0"/>
<circle cx="444.222" cy="161.631" r="0.25" fill="#b0b0b0"/>
<circle cx="353.11" cy="191.423" r="0.25" fill="#b0b0b0"/>
<circle cx="457.209" cy="164.813" r="0.25" fill="#b0b0b0"/>
<circle cx="391.545" cy="195.092" r="0.25" fill="#b0b0b0"/>
<circle cx="372.73" cy="201.221" r="0.25" fill="#b0b0b0"/>
<circle cx="414.277" cy="163.886" r="0.25" fill="#b0b0b0"/>
<circle cx="408.102" cy="192.643" r="0.25" fill="#b0b0b0"/>
<circle cx="369.994" cy="198.257" r="0.25" fill="#b0b0b0"/>
<circle cx="398.316" cy="191.152" r="0.25" fill="#b0b0b0"/>
<circle cx="401.23" cy="197.739" r="0.25" fill="#b0b0b0"/>
<circle cx="473.756" cy="197.663" r="0.25" fill="#b0b0b0"/>
<circle cx="424.716" cy="174.725" r="0.25" fill="#b0b0b0"/>
<circle cx="359.065" cy="206.486" r="0.25" fill="#b0b0b0"/>
<circle cx="442.414" cy="199.657" r="0.25" fill="#b0b0b0"/>
<circle cx="477.975" cy="199.838" r="0.25" fill="#b0b0b0"/>
<circle cx="429.168" cy="175.481" r="0.25" fill="#b0b0b0"/>
<circle cx="406.784" cy="202.487" r="0.25" fill="#b0b0b0"/>
<circle cx="400.055" cy="193.013" r="0.25" fill="#b0b0b0"/>
<circle cx="429.251" cy="202.859" r="0.25" fill="#b0b0b0"/>
<circle cx="455.93" cy="174.302" r="0.25" fill="#b0b0b0"/>
<circle cx="351.419" cy="173.358" r="0.25" fill="#b0b0b0"/>
<circle cx="457.033" cy="202.454" r="0.25" fill="#b0b0b0"/>
<circle cx="356.686" cy="199.929" r="0.25" fill="#b0b0b0"/>
<circle cx="456.484" cy="201.512" r="0.25" fill="#b0b0b0"/>
<circle cx="425.376" cy="173.861" r="0.25" fill="#b0b0b0"/>
<circle cx="461.598" cy="198.708" r="0.25" fill="#b0b0b0"/>
<circle cx="439.998" cy="203.681" r="0.25" fill="#b0b0b0"/>
<circle cx="396.187" cy="165.064" r="0.25" fill="#b0b0b0"/>
<circle cx="423.012" cy="198.258" r="0.25" fill="#b0b0b0"/>
<circle cx="377.196" cy="196.059" r="0.25" fill="#b0b0b0"/>
<circle cx="472.044" cy="172.006" r="0.25" fill="#b0b0b0"/>
<circle cx="429.915" cy="192.679" r="0.25" fill="#b0b0b0"/>
<circle cx="411.552" cy="170.727" r="0.25" fill="#b0b0b0"/>
<circle cx="384.239" cy="196.103" r="0.25" fill="#b0b0b0"/>
<circle cx="362.575" cy="198.686" r="0.25" fill="#b0b0b0"/>
<circle cx="451.35" cy="171.952" r="0.25" fill="#b0b0b0"/>
<circle cx="426.373" cy="202.897" r="0.25" fill="#b0b0b0"/>
<circle cx="375.733" cy="170.062" r="0.25" fill="#b0b0b0"/>
<circle cx="374.636" cy="193.77" r="0.25" fill="#b0b0b0"/>
<circle cx="370.526" cy="163.178" r="0.25" fill="#b0b0b0"/>
<circle cx="480.529" cy="178.53" r="0.25" fill="#b0b0b0"/>
<circle cx="364.964" cy="190.586" r="0.25" fill="#b0b0b0"/>
<circle cx="453.319" cy="168.377" r="0.25" fill="#b0b0b0"/>
<circle cx="428.658" cy="177.173" r="0.25" fill="#b0b0b0"/>
<circle cx="418.574" cy="162.059" r="0.25" fill="#b0b0b0"/>
<circle cx="355.555" cy="207.253" r="0.25" fill="#b0b0b0"/>
<circle cx="424.764" cy="173.29" r="0.25" fill="#b0b0b0"/>
<circle cx="473.961" cy="196.854" r="0.25" fill="#b0b0b0"/>
<circle cx="457.402" cy="205.998" r="0.25" fill="#b0b0b0"/>
<circle cx="384.143" cy="162.865" r="0.25" fill="#b0b0b0"/>
<circle cx="377.268" cy="169.522" r="0.25" fill="#b0b0b0"/>
<circle cx="362.05" cy="163.476" r="0.25" fill="#b0b0b0"/>
<circle cx="423.492" cy="201.673" r="0.25" fill="#b0b0b0"/>
<circle cx="410.639" cy="205.24" r="0.25" fill="#b0b0b0"/>
<circle cx="469.217" cy="164.091" r="0.25" fill="#b0b0b0"/>
<circle cx="428.769" cy="179.619" r="0.25" fill="#b0b0b0"/>
<circle cx="366.753" cy="205.803" r="0.25" fill="#b0b0b0"/>
<circle cx="434.29" cy="205.669" r="0.25" fill="#b0b0b0"/>
<circle cx="438.063" cy="179.419" r="0.25" fill="#b0b0b0"/>
<circle cx="409.35" cy="168.543" r="0.25" fill="#b0b0b0"/>
<circle cx="476.46" cy="207.314" r="0.25" fill="#b0b0b0"/>
<circle cx="379.957" cy="162.9" r="0.25" fill="#b0b0b0"/>
<circle cx="384.385" cy="177.504" r="0.25" fill="#b0b0b0"/>
<circle cx="468.287" cy="203.253" r="0.25" fill="#b0b0b0"/>
<circle cx="459.787" cy="163.292" r="0.25" fill="#b0b0b0"/>
<circle cx="453.193" cy="194.168" r="0.25" fill="#b0b0b0"/>
<circle cx="435.075" cy="207.021" r="0.25" fill="#b0b0b0"/>
<circle cx="358.433" cy="167.848" r="0.25" fill="#b0b0b0"/>
<circle cx="449.117" cy="204.875" r="0.25" fill="#b0b0b0"/>
<circle cx="438.993" cy="175.024" r="0.25" fill="#b0b0b0"/>
<circle cx="427.913" cy="196.418" r="0.25" fill="#b0b0b0"/>
<circle cx="364.873" cy="176.195" r="0.25" fill="#b0b0b0"/>
<circle cx="384.534" cy="166.885" r="0.25" fill="#b0b0b0"/>
<circle cx="413.626" cy="168.956" r="0.25" fill="#b0b0b0"/>
<circle cx="382.128" cy="167.771" r="0.25" fill="#b0b0b0"/>
<circle cx="439.09" cy="161.688" r="0.25" fill="#b0b0b0"/>
<circle cx="444.224" cy="170.192" r="0.25" fill="#b0b0b0"/>
<circle cx="355.871" cy="204.33" r="0.25" fill="#b0b0b0"/>
<circle cx="379.806" cy="204.623" r="0.25" fill="#b0b0b0"/>
<circle cx="463.618" cy="202.514" r="0.25" fill="#b0b0b0"/>
<circle cx="363.779" cy="204.381" r="0.25" fill="#b0b0b0"/>
<circle cx="460.44" cy="190.382" r="0.25" fill="#b0b0b0"/>
<circle cx="409.868" cy="176.934" r="0.25" fill="#b0b0b0"/>
<circle cx="432.675" cy="167.753" r="0.25" fill="#b0b0b0"/>
<circle cx="379.948" cy="163.743" r="0.25" fill="#b0b0b0"/>
<circle cx="369.969" cy="201.676" r="0.25" fill="#b0b0b0"/>
<circle cx="371.393" cy="173.734" r="0.25" fill="#b0b0b0"/>
<circle cx="460.091" cy="176.688" r="0.25" fill="#b0b0b0"/>
<circle cx="392.453" cy="203.188" r="0.25" fill="#b0b0b0"/>
<circle cx="366.008" cy="206.704" r="0.25" fill="#b0b0b0"/>
<circle cx="358.574" cy="202.809" r="0.25" fill="#b0b0b0"/>
<circle cx="437.876" cy="170.94" r="0.25" fill="#b0b0b0"/>
<circle cx="413.126" cy="174.438" r="0.25" fill="#b0b0b0"/>
<circle cx="384.636" cy="170.496" r="0.25" fill="#b0b0b0"/>
<circle cx="398.447" cy="207.282" r="0.25" fill="#b0b0b0"/>
<circle cx="480.652" cy="204.209" r="0.25" fill="#b0b0b0"/>
<rect x="351.2" y="180.95" width="129.7" height="9.4" fill="#9aa3ad" opacity="0.45"/>
<rect x="351.2" y="181.45" width="129.7" height="6.9" fill="#161616"/>
<rect x="351.2" y="181.161" width="0.617078" height="0.289429" fill="#2a2a2a"/>
<rect x="351.2" y="188.35" width="0.617078" height="1.97164" fill="#3a3f46"/>
<rect x="351.817" y="180.724" width="0.568979" height="0.726473" fill="#2a2a2a"/>
<rect x="351.817" y="188.35" width="0.568979" height="0.645754" fill="#3a3f46"/>
<rect x="352.386" y="181.434" width="1.67436" height="0.0160285" fill="#2a2a2a"/>
<rect x="352.386" y="188.35" width="1.67436" height="1.77545" fill="#3a3f46"/>
<rect x="354.06" y="181.31" width="0.909087" height="0.140143" fill="#2a2a2a"/>
<rect x="354.06" y="188.35" width="0.909087" height="0.00423067" fill="#3a3f46"/>
<rect x="354.97" y="180.923" width="1.49869" height="0.526587" fill="#2a2a2a"/>
<rect x="354.97" y="188.35" width="1.49869" height="0.408805" fill="#3a3f46"/>
<rect x="356.468" y="180.538" width="1.0223" height="0.911981" fill="#2a2a2a"/>
<rect x="356.468" y="188.35" width="1.0223" height="0.480183" fill="#3a3f46"/>
<rect x="357.49" y="181.312" width="1.18561" height="0.138074" fill="#2a2a2a"/>
<rect x="357.49" y="188.35" width="1.18561" height="0.396286" fill="#3a3f46"/>
<rect x="358.676" y="180.738" width="1.42453" height="0.711618" fill="#2a2a2a"/>
<rect x="358.676" y="188.35" width="1.42453" height="0.432765" fill="#3a3f46"/>
<rect x="360.101" y="181.363" width="0.59512" height="0.087421" fill="#2a2a2a"/>
<rect x="360.101" y="188.35" width="0.59512" height="1.33882" fill="#3a3f46"/>
<rect x="360.696" y="181.176" width="1.09458" height="0.273888" fill="#2a2a2a"/>
<rect x="360.696" y="188.35" width="1.09458" height="0.45327" fill="#3a3f46"/>
<rect x="361.79" y="180.742" width="1.23492" height="0.707758" fill="#2a2a2a"/>
<rect x="361.79" y="188.35" width="1.23492" height="1.78548" fill="#3a3f46"/>
<rect x="363.025" y="181.248" width="1.19952" height="0.202291" fill="#2a2a2a"/>
<rect x="363.025" y="188.35" width="1.19952" height="0.14453" fill="#3a3f46"/>
<rect x="364.225" y="181.042" width="1.37926" height="0.408123" fill="#2a2a2a"/>
<rect x="364.225" y="188.35" width="1.37926" height="1.58764" fill="#3a3f46"/>
<rect x="365.604" y="180.639" width="0.566446" height="0.810647" fill="#2a2a2a"/>
<rect x="365.604" y="188.35" width="0.566446" height="0.737483" fill="#3a3f46"/>
<rect x="366.17" y="180.585" width="1.51029" height="0.864505" fill="#2a2a2a"/>
<rect x="366.17" y="188.35" width="1.51029" height="1.08464" fill="#3a3f46"/>
<rect x="367.681" y="180.54" width="0.518534" height="0.910216" fill="#2a2a2a"/>
<rect x="367.681" y="188.35" width="0.518534" height="1.04855" fill="#3a3f46"/>
<rect x="368.199" y="181.184" width="1.54642" height="0.26626" fill="#2a2a2a"/>
<rect x="368.199" y="188.35" width="1.54642" height="0.409315" fill="#3a3f46"/>
<rect x="369.746" y="181.083" width="1.49795" height="0.367101" fill="#2a2a2a"/>
<rect x="369.746" y="188.35" width="1.49795" height="0.359674" fill="#3a3f46"/>
<rect x="371.244" y="180.855" width="0.945398" height="0.594895" fill="#2a2a2a"/>
<rect x="371.244" y="188.35" width="0.945398" height="0.0102069" fill="#3a3f46"/>
<rect x="372.189" y="181.004" width="1.12379" height="0.445767" fill="#2a2a2a"/>
<rect x="372.189" y="188.35" width="1.12379" height="1.13438" fill="#3a3f46"/>
<rect x="373.313" y="180.735" width="0.644926" height="0.71459" fill="#2a2a2a"/>
<rect x="373.313" y="188.35" width="0.644926" height="1.79638" fill="#3a3f46"/>
<rect x="373.958" y="181.129" width="1.53857" height="0.320979" fill="#2a2a2a"/>
<rect x="373.958" y="188.35" width="1.53857" height="1.56461" fill="#3a3f46"/>
<rect x="375.496" y="180.699" width="0.957667" height="0.751316" fill="#2a2a2a"/>
<rect x="375.496" y="188.35" width="0.957667" height="0.134658" fill="#3a3f46"/>
<rect x="376.454" y="180.496" width="1.54736" height="0.954052" fill="#2a2a2a"/>
<rect x="376.454" y="188.35" width="1.54736" height="1.08857" fill="#3a3f46"/>
<rect x="378.001" y="180.919" width="1.11598" height="0.530511" fill="#2a2a2a"/>
<rect x="378.001" y="188.35" width="1.11598" height="1.18213" fill="#3a3f46"/>
<rect x="379.117" y="180.483" width="0.524825" height="0.967426" fill="#2a2a2a"/>
<rect x="379.117" y="188.35" width="0.524825" height="0.492138" fill="#3a3f46"/>
<rect x="379.642" y="181.347" width="0.718873" height="0.102675" fill="#2a2a2a"/>
<rect x="379.642" y="188.35" width="0.718873" height="0.551008" fill="#3a3f46"/>
<rect x="380.361" y="181.42" width="1.48058" height="0.0300736" fill="#2a2a2a"/>
<rect x="380.361" y="188.35" width="1.48058" height="0.212237" fill="#3a3f46"/>
<rect x="381.842" y="181.255" width="1.33876" height="0.195085" fill="#2a2a2a"/>
<rect x="381.842" y="188.35" width="1.33876" height="0.0389122" fill="#3a3f46"/>
<rect x="383.18" y="180.874" width="1.21928" height="0.576483" fill="#2a2a2a"/>
<rect x="383.18" y="188.35" width="1.21928" height="1.1504" fill="#3a3f46"/>
<rect x="384.4" y="181.347" width="1.34317" height="0.102865" fill="#2a2a2a"/>
<rect x="384.4" y="188.35" width="1.34317" height="1.91296" fill="#3a3f46"/>
<rect x="385.743" y="181.405" width="1.36052" height="0.0451706" fill="#2a2a2a"/>
<rect x="385.743" y="188.35" width="1.36052" height="0.270708" fill="#3a3f46"/>
<rect x="387.103" y="180.949" width="1.09231" height="0.500756" fill="#2a2a2a"/>
<rect x="387.103" y="188.35" width="1.09231" height="0.61517" fill="#3a3f46"/>
<rect x="388.196" y="181.044" width="0.646445" height="0.405651" fill="#2a2a2a"/>
<rect x="388.196" y="188.35" width="0.646445" height="0.3013" fill="#3a3f46"/>
<rect x="388.842" y="180.589" width="1.21017" height="0.86109" fill="#2a2a2a"/>
<rect x="388.842" y="188.35" width="1.21017" height="0.323885" fill="#3a3f46"/>
<rect x="390.052" y="180.703" width="1.18741" height="0.746579" fill="#2a2a2a"/>
<rect x="390.052" y="188.35" width="1.18741" height="0.361511" fill="#3a3f46"/>
<rect x="391.24" y="180.512" width="1.49122" height="0.937581" fill="#2a2a2a"/>
<rect x="391.24" y="188.35" width="1.49122" height="0.855238" fill="#3a3f46"/>
<rect x="392.731" y="180.61" width="1.00458" height="0.839723" fill="#2a2a2a"/>
<rect x="392.731" y="188.35" width="1.00458" height="1.15635" fill="#3a3f46"/>
<rect x="393.736" y="180.509" width="0.97476" height="0.941292" fill="#2a2a2a"/>
<rect x="393.736" y="188.35" width="0.97476" height="1.7092" fill="#3a3f46"/>
<rect x="394.71" y="181.21" width="0.906258" height="0.240377" fill="#2a2a2a"/>
<rect x="394.71" y="188.35" width="0.906258" height="0.737182" fill="#3a3f46"/>
<rect x="395.617" y="180.469" width="1.0227" height="0.981221" fill="#2a2a2a"/>
<rect x="395.617" y="188.35" width="1.0227" height="1.76963" fill="#3a3f46"/>
<rect x="396.639" y="180.635" width="1.59532" height="0.815043" fill="#2a2a2a"/>
<rect x="396.639" y="188.35" width="1.59532" height="1.86479" fill="#3a3f46"/>
<rect x="398.235" y="180.933" width="0.564264" height="0.517374" fill="#2a2a2a"/>
<rect x="398.235" y="188.35" width="0.564264" height="2.10729" fill="#3a3f46"/>
<rect x="398.799" y="181.201" width="1.6212" height="0.249284" fill="#2a2a2a"/>
<rect x="398.799" y="188.35" width="1.6212" height="0.9287" fill="#3a3f46"/>
<rect x="400.42" y="181.086" width="1.25923" height="0.364432" fill="#2a2a2a"/>
<rect x="400.42" y="188.35" width="1.25923" height="1.16776" fill="#3a3f46"/>
<rect x="401.679" y="181.017" width="0.583117" height="0.433041" fill="#2a2a2a"/>
<rect x="401.679" y="188.35" width="0.583117" height="1.1105" fill="#3a3f46"/>
<rect x="402.262" y="181.311" width="0.524994" height="0.139407" fill="#2a2a2a"/>
<rect x="402.262" y="188.35" width="0.524994" height="2.13333" fill="#3a3f46"/>
<rect x="402.787" y="180.513" width="1.4319" height="0.936935" fill="#2a2a2a"/>
<rect x="402.787" y="188.35" width="1.4319" height="1.39307" fill="#3a3f46"/>
<rect x="404.219" y="180.566" width="1.47112" height="0.884373" fill="#2a2a2a"/>
<rect x="404.219" y="188.35" width="1.47112" height="1.94621" fill="#3a3f46"/>
<rect x="405.69" y="180.808" width="0.541248" height="0.641574" fill="#2a2a2a"/>
<rect x="405.69" y="188.35" width="0.541248" height="0.584698" fill="#3a3f46"/>
<rect x="406.232" y="181.177" width="1.31413" height="0.273433" fill="#2a2a2a"/>
<rect x="406.232" y="188.35" width="1.31413" height="1.19296" fill="#3a3f46"/>
<rect x="407.546" y="180.829" width="1.60926" height="0.621258" fill="#2a2a2a"/>
<rect x="407.546" y="188.35" width="1.60926" height="0.551279" fill="#3a3f46"/>
<rect x="409.155" y="181.016" width="1.12437" height="0.433691" fill="#2a2a2a"/>
<rect x="409.155" y="188.35" width="1.12437" height="2.0919" fill="#3a3f46"/>
<rect x="410.279" y="181.145" width="0.845027" height="0.305412" fill="#2a2a2a"/>
<rect x="410.279" y="188.35" width="0.845027" height="1.42454" fill="#3a3f46"/>
<rect x="411.124" y="180.856" width="0.644458" height="0.594289" fill="#2a2a2a"/>
<rect x="411.124" y="188.35" width="0.644458" height="2.10339" fill="#3a3f46"/>
<rect x="411.769" y="181.182" width="1.11653" height="0.268412" fill="#2a2a2a"/>
<rect x="411.769" y="188.35" width="1.11653" height="1.02612" fill="#3a3f46"/>
<rect x="412.885" y="181.302" width="1.1406" height="0.148407" fill="#2a2a2a"/>
<rect x="412.885" y="188.35" width="1.1406" height="0.272624" fill="#3a3f46"/>
<rect x="414.026" y="181.156" width="0.657643" height="0.293599" fill="#2a2a2a"/>
<rect x="414.026" y="188.35" width="0.657643" height="0.894397" fill="#3a3f46"/>
<rect x="414.684" y="181.207" width="0.845969" height="0.243401" fill="#2a2a2a"/>
<rect x="414.684" y="188.35" width="0.845969" height="0.193264" fill="#3a3f46"/>
<rect x="415.53" y="180.61" width="1.15558" height="0.839747" fill="#2a2a2a"/>
<rect x="415.53" y="188.35" width="1.15558" height="1.3419" fill="#3a3f46"/>
<rect x="416.685" y="180.8" width="1.18422" height="0.650357" fill="#2a2a2a"/>
<rect x="416.685" y="188.35" width="1.18422" height="0.442622" fill="#3a3f46"/>
<rect x="417.869" y="180.989" width="1.35243" height="0.460883" fill="#2a2a2a"/>
<rect x="417.869" y="188.35" width="1.35243" height="1.20567" fill="#3a3f46"/>
<rect x="419.222" y="180.981" width="1.23536" height="0.468966" fill="#2a2a2a"/>
<rect x="419.222" y="188.35" width="1.23536" height="0.68311" fill="#3a3f46"/>
<rect x="420.457" y="181.228" width="0.790705" height="0.221581" fill="#2a2a2a"/>
<rect x="420.457" y="188.35" width="0.790705" height="1.12739" fill="#3a3f46"/>
<rect x="421.248" y="180.864" width="0.959806" height="0.585683" fill="#2a2a2a"/>
<rect x="421.248" y="188.35" width="0.959806" height="0.0261319" fill="#3a3f46"/>
<rect x="422.208" y="180.588" width="0.923183" height="0.861865" fill="#2a2a2a"/>
<rect x="422.208" y="188.35" width="0.923183" height="0.524791" fill="#3a3f46"/>
<rect x="423.131" y="180.959" width="1.16798" height="0.491407" fill="#2a2a2a"/>
<rect x="423.131" y="188.35" width="1.16798" height="0.626604" fill="#3a3f46"/>
<rect x="424.299" y="181.154" width="1.68501" height="0.295504" fill="#2a2a2a"/>
<rect x="424.299" y="188.35" width="1.68501" height="1.69868" fill="#3a3f46"/>
<rect x="425.984" y="181.383" width="0.69028" height="0.0667988" fill="#2a2a2a"/>
<rect x="425.984" y="188.35" width="0.69028" height="1.9168" fill="#3a3f46"/>
<rect x="426.674" y="181.388" width="1.02798" height="0.0620169" fill="#2a2a2a"/>
<rect x="426.674" y="188.35" width="1.02798" height="0.853352" fill="#3a3f46"/>
<rect x="427.702" y="180.715" width="1.02788" height="0.735413" fill="#2a2a2a"/>
<rect x="427.702" y="188.35" width="1.02788" height="0.240337" fill="#3a3f46"/>
<rect x="428.73" y="180.491" width="0.7702" height="0.959305" fill="#2a2a2a"/>
<rect x="428.73" y="188.35" width="0.7702" height="1.625" fill="#3a3f46"/>
<rect x="429.5" y="181.113" width="0.685426" height="0.337016" fill="#2a2a2a"/>
<rect x="429.5" y="188.35" width="0.685426" height="0.775399" fill="#3a3f46"/>
<rect x="430.186" y="180.834" width="1.31041" height="0.616297" fill="#2a2a2a"/>
<rect x="430.186" y="188.35" width="1.31041" height="1.86998" fill="#3a3f46"/>
<rect x="431.496" y="180.932" width="1.48543" height="0.517769" fill="#2a2a2a"/>
<rect x="431.496" y="188.35" width="1.48543" height="1.62529" fill="#3a3f46"/>
<rect x="432.981" y="180.69" width="1.39193" height="0.759694" fill="#2a2a2a"/>
<rect x="432.981" y="188.35" width="1.39193" height="1.04552" fill="#3a3f46"/>
<rect x="434.373" y="180.741" width="1.44193" height="0.708552" fill="#2a2a2a"/>
<rect x="434.373" y="188.35" width="1.44193" height="2.01235" fill="#3a3f46"/>
<rect x="435.815" y="180.579" width="0.652727" height="0.870826" fill="#2a2a2a"/>
<rect x="435.815" y="188.35" width="0.652727" height="0.00951237" fill="#3a3f46"/>
<rect x="436.468" y="180.864" width="1.41881" height="0.585835" fill="#2a2a2a"/>
<rect x="436.468" y="188.35" width="1.41881" height="1.09534" fill="#3a3f46"/>
<rect x="437.887" y="180.878" width="1.65529" height="0.571959" fill="#2a2a2a"/>
<rect x="437.887" y="188.35" width="1.65529" height="0.919402" fill="#3a3f46"/>
<rect x="439.542" y="180.577" width="1.44042" height="0.872761" fill="#2a2a2a"/>
<rect x="439.542" y="188.35" width="1.44042" height="1.33613" fill="#3a3f46"/>
<rect x="440.983" y="180.998" width="0.955475" height="0.452283" fill="#2a2a2a"/>
<rect x="440.983" y="188.35" width="0.955475" height="1.00739" fill="#3a3f46"/>
<rect x="441.938" y="181.157" width="1.36767" height="0.292919" fill="#2a2a2a"/>
<rect x="441.938" y="188.35" width="1.36767" height="0.859506" fill="#3a3f46"/>
<rect x="443.306" y="181.065" width="1.16642" height="0.384501" fill="#2a2a2a"/>
<rect x="443.306" y="188.35" width="1.16642" height="0.708386" fill="#3a3f46"/>
<rect x="444.472" y="180.6" width="1.44449" height="0.849566" fill="#2a2a2a"/>
<rect x="444.472" y="188.35" width="1.44449" height="1.09901" fill="#3a3f46"/>
<rect x="445.917" y="181.266" width="1.03284" height="0.184212" fill="#2a2a2a"/>
<rect x="445.917" y="188.35" width="1.03284" height="0.668872" fill="#3a3f46"/>
<rect x="446.95" y="180.875" width="0.673989" height="0.575433" fill="#2a2a2a"/>
<rect x="446.95" y="188.35" width="0.673989" height="1.27948" fill="#3a3f46"/>
<rect x="447.623" y="180.53" width="0.605516" height="0.920162" fill="#2a2a2a"/>
<rect x="447.623" y="188.35" width="0.605516" height="0.712507" fill="#3a3f46"/>
<rect x="448.229" y="180.612" width="1.51207" height="0.838153" fill="#2a2a2a"/>
<rect x="448.229" y="188.35" width="1.51207" height="2.10928" fill="#3a3f46"/>
<rect x="449.741" y="181.024" width="0.745171" height="0.426447" fill="#2a2a2a"/>
<rect x="449.741" y="188.35" width="0.745171" height="2.00326" fill="#3a3f46"/>
<rect x="450.486" y="181.403" width="0.512831" height="0.0474421" fill="#2a2a2a"/>
<rect x="450.486" y="188.35" width="0.512831" height="1.24286" fill="#3a3f46"/>
<rect x="450.999" y="180.53" width="1.0968" height="0.920312" fill="#2a2a2a"/>
<rect x="450.999" y="188.35" width="1.0968" height="1.70166" fill="#3a3f46"/>
<rect x="452.096" y="180.452" width="1.1462" height="0.998328" fill="#2a2a2a"/>
<rect x="452.096" y="188.35" width="1.1462" height="1.13839" fill="#3a3f46"/>
<rect x="453.242" y="180.765" width="1.12072" height="0.685228" fill="#2a2a2a"/>
<rect x="453.242" y="188.35" width="1.12072" height="0.856939" fill="#3a3f46"/>
<rect x="454.363" y="180.855" width="0.929254" height="0.594721" fill="#2a2a2a"/>
<rect x="454.363" y="188.35" width="0.929254" height="0.772435" fill="#3a3f46"/>
<rect x="455.292" y="180.774" width="1.63748" height="0.676477" fill="#2a2a2a"/>
<rect x="455.292" y="188.35" width="1.63748" height="1.15555" fill="#3a3f46"/>
<rect x="456.93" y="181.076" width="0.61876" height="0.374416" fill="#2a2a2a"/>
<rect x="456.93" y="188.35" width="0.61876" height="0.881966" fill="#3a3f46"/>
<rect x="457.548" y="180.876" width="1.17361" height="0.574055" fill="#2a2a2a"/>
<rect x="457.548" y="188.35" width="1.17361" height="1.93564" fill="#3a3f46"/>
<rect x="458.722" y="180.963" width="1.65737" height="0.486713" fill="#2a2a2a"/>
<rect x="458.722" y="188.35" width="1.65737" height="0.968359" fill="#3a3f46"/>
<rect x="460.379" y="180.454" width="1.24952" height="0.996124" fill="#2a2a2a"/>
<rect x="460.379" y="188.35" width="1.24952" height="0.755215" fill="#3a3f46"/>
<rect x="461.629" y="180.634" width="1.13617" height="0.815886" fill="#2a2a2a"/>
<rect x="461.629" y="188.35" width="1.13617" height="0.375589" fill="#3a3f46"/>
<rect x="462.765" y="180.472" width="0.881693" height="0.978427" fill="#2a2a2a"/>
<rect x="462.765" y="188.35" width="0.881693" height="1.81726" fill="#3a3f46"/>
<rect x="463.647" y="181.339" width="1.11511" height="0.110512" fill="#2a2a2a"/>
<rect x="463.647" y="188.35" width="1.11511" height="1.96792" fill="#3a3f46"/>
<rect x="464.762" y="180.629" width="1.32786" height="0.820555" fill="#2a2a2a"/>
<rect x="464.762" y="188.35" width="1.32786" height="2.17855" fill="#3a3f46"/>
<rect x="466.09" y="181.029" width="1.56577" height="0.420887" fill="#2a2a2a"/>
<rect x="466.09" y="188.35" width="1.56577" height="0.344079" fill="#3a3f46"/>
<rect x="467.655" y="180.938" width="0.847912" height="0.511606" fill="#2a2a2a"/>
<rect x="467.655" y="188.35" width="0.847912" height="1.11075" fill="#3a3f46"/>
<rect x="468.503" y="181.268" width="0.72573" height="0.18241" fill="#2a2a2a"/>
<rect x="468.503" y="188.35" width="0.72573" height="1.38622" fill="#3a3f46"/>
<rect x="469.229" y="181.097" width="1.22375" height="0.353184" fill="#2a2a2a"/>
<rect x="469.229" y="188.35" width="1.22375" height="2.18625" fill="#3a3f46"/>
<rect x="470.453" y="181.408" width="1.26381" height="0.0423137" fill="#2a2a2a"/>
<rect x="470.453" y="188.35" width="1.26381" height="0.905119" fill="#3a3f46"/>
<rect x="471.717" y="181.143" width="1.44516" height="0.30674" fill="#2a2a2a"/>
<rect x="471.717" y="188.35" width="1.44516" height="1.51954" fill="#3a3f46"/>
<rect x="473.162" y="181.146" width="0.504696" height="0.304457" fill="#2a2a2a"/>
<rect x="473.162" y="188.35" width="0.504696" height="1.85275" fill="#3a3f46"/>
<rect x="473.666" y="180.782" width="1.20344" height="0.668106" fill="#2a2a2a"/>
<rect x="473.666" y="188.35" width="1.20344" height="0.432631" fill="#3a3f46"/>
<rect x="474.87" y="180.897" width="1.09743" height="0.55325" fill="#2a2a2a"/>
<rect x="474.87" y="188.35" width="1.09743" height="0.585241" fill="#3a3f46"/>
<rect x="475.967" y="180.919" width="1.27617" height="0.531489" fill="#2a2a2a"/>
<rect x="475.967" y="188.35" width="1.27617" height="2.19364" fill="#3a3f46"/>
<rect x="477.244" y="181.039" width="1.18936" height="0.4111" fill="#2a2a2a"/>
<rect x="477.244" y="188.35" width="1.18936" height="0.267303" fill="#3a3f46"/>
<rect x="478.433" y="180.691" width="0.688125" height="0.759496" fill="#2a2a2a"/>
<rect x="478.433" y="188.35" width="0.688125" height="0.234621" fill="#3a3f46"/>
<rect x="479.121" y="181.279" width="0.620124" height="0.170536" fill="#2a2a2a"/>
<rect x="479.121" y="188.35" width="0.620124" height="1.14949" fill="#3a3f46"/>
<rect x="479.741" y="180.837" width="1.15888" height="0.613004" fill="#2a2a2a"/>
<rect x="479.741" y="188.35" width="1.15888" height="1.77452" fill="#3a3f46"/>
<rect x="359.194" y="188.35" width="0.4" height="2.04372" fill="#555b63"/>
<rect x="450.374" y="188.35" width="0.4" height="3.12988" fill="#555b63"/>
<rect x="443.279" y="188.35" width="0.4" height="3.23846" fill="#555b63"/>
<rect x="373.004" y="188.35" width="0.4" height="2.93314" fill="#555b63"/>
<rect x="364" y="188.35" width="0.4" height="5.16349" fill="#555b63"/>
<rect x="426.137" y="188.35" width="0.4" height="3.22113" fill="#555b63"/>
<rect x="409.094" y="188.35" width="0.4" height="3.3498" fill="#555b63"/>
<rect x="358.237" y="188.35" width="0.4" height="5.11689" fill="#555b63"/>
<rect x="426.189" y="188.35" width="0.4" height="5.35864" fill="#555b63"/>
<rect x="407.782" y="188.35" width="0.4" height="4.17062" fill="#555b63"/>
<rect x="383.289" y="188.35" width="0.4" height="2.15393" fill="#555b63"/>
<rect x="470.997" y="188.35" width="0.4" height="4.9915" fill="#555b63"/>
<rect x="391.714" y="188.35" width="0.4" height="5.14604" fill="#555b63"/>
<rect x="456.206" y="188.35" width="0.4" height="3.06287" fill="#555b63"/>
<rect x="428.749" y="188.35" width="0.4" height="5.3601" fill="#555b63"/>
<rect x="414.978" y="188.35" width="0.4" height="5.32399" fill="#555b63"/>
<rect x="382.465" y="188.35" width="0.4" height="3.36428" fill="#555b63"/>
<rect x="443.667" y="188.35" width="0.4" height="2.77489" fill="#555b63"/>
<rect x="390.989" y="188.35" width="0.4" height="5.06358" fill="#555b63"/>
<rect x="413.541" y="188.35" width="0.4" height="4.77465" fill="#555b63"/>
<rect x="382.524" y="188.35" width="0.4" height="2.60714" fill="#555b63"/>
<rect x="397.326" y="188.35" width="0.4" height="2.65293" fill="#555b63"/>
<rect x="476.238" y="188.35" width="0.4" height="3.01745" fill="#555b63"/>
<rect x="423.469" y="188.35" width="0.4" height="2.4021" fill="#555b63"/>
<rect x="419.894" y="188.35" width="0.4" height="3.34959" fill="#555b63"/>
<rect x="403.091" y="188.35" width="0.4" height="2.22906" fill="#555b63"/>
<rect x="367.067" y="188.35" width="0.4" height="4.89039" fill="#555b63"/>
<rect x="396.406" y="188.35" width="0.4" height="2.85728" fill="#555b63"/>
<rect x="375.807" y="188.35" width="0.4" height="2.99255" fill="#555b63"/>
<rect x="381.724" y="188.35" width="0.4" height="2.12221" fill="#555b63"/>
<rect x="436.692" y="188.35" width="0.4" height="3.19497" fill="#555b63"/>
<rect x="371.263" y="188.35" width="0.4" height="4.47055" fill="#555b63"/>
<rect x="363.122" y="188.35" width="0.4" height="2.94384" fill="#555b63"/>
<rect x="458.666" y="188.35" width="0.4" height="2.44728" fill="#555b63"/>
<rect x="408.254" y="188.35" width="0.4" height="4.9271" fill="#555b63"/>
<rect x="454.796" y="188.35" width="0.4" height="2.55728" fill="#555b63"/>
<rect x="396.621" y="188.35" width="0.4" height="4.52863" fill="#555b63"/>
<rect x="399.706" y="188.35" width="0.4" height="5.35441" fill="#555b63"/>
<rect x="377.977" y="188.35" width="0.4" height="5.32829" fill="#555b63"/>
<rect x="416.172" y="188.35" width="0.4" height="2.79546" fill="#555b63"/>
<rect x="356.631" y="179.95" width="1.2" height="10.8" fill="#ffffff"/>
<rect x="422.289" y="179.95" width="3.2" height="10.8" fill="#ffffff"/>
<rect x="445.385" y="179.95" width="0.8" height="10.8" fill="#ffffff"/>
<rect x="450.566" y="179.95" width="0.8" height="10.8" fill="#ffffff"/>
<rect x="455.386" y="179.95" width="0.8" height="10.8" fill="#ffffff"/>
<rect x="477.64" y="179.95" width="0.6" height="10.8" fill="#ffffff"/>
<line x1="351.2" y1="184.75" x2="480.9" y2="184.75" stroke="#b07a3a" stroke-width="0.7"/>
<rect x="356.631" y="184.55" width="1.2" height="0.8" fill="#ffffff"/>
<rect x="422.289" y="184.55" width="3.2" height="0.8" fill="#ffffff"/>
<rect x="445.385" y="184.55" width="0.8" height="0.8" fill="#ffffff"/>
<rect x="450.566" y="184.55" width="0.8" height="0.8" fill="#ffffff"/>
<rect x="455.386" y="184.55" width="0.8" height="0.8" fill="#ffffff"/>
<rect x="477.64" y="184.55" width="0.6" height="0.8" fill="#ffffff"/>
<ellipse cx="424.3" cy="197.25" rx="0.9" ry="4.2" fill="#f2d430"/>
<rect x="351.2" y="159.1" width="129.7" height="50.6" fill="none" stroke="#2a2a2a" stroke-width="1.1"/>
<line x1="349.7" y1="159.1" x2="351.2" y2="159.1" stroke="#333" stroke-width="0.7"/>
<text x="348.9" y="160.7" font-size="4.6" text-anchor="end" font-weight="normal" font-style="normal" fill="#222" stroke="#222" stroke-width="0.22">1.75</text>
<line x1="349.7" y1="184.95" x2="351.2" y2="184.95" stroke="#333" stroke-width="0.7"/>
<text x="348.9" y="186.55" font-size="4.6" text-anchor="end" font-weight="normal" font-style="normal" fill="#222" stroke="#222" stroke-width="0.22">0</text>
<line x1="349.7" y1="209.7" x2="351.2" y2="209.7" stroke="#333" stroke-width="0.7"/>
<text x="348.9" y="211.3" font-size="4.6" text-anchor="end" font-weight="normal" font-style="normal" fill="#222" stroke="#222" stroke-width="0.22">-1.75</text>
<text x="332.9" y="184.95" font-size="5.1" text-anchor="middle" font-weight="normal" font-style="normal" fill="#222" stroke="#222" stroke-width="0.22" transform="rotate(-90 332.9 184.95)">DOC ratio</text>
<text x="484" y="186.55" font-size="4.4" text-anchor="start" font-weight="normal" font-style="normal" fill="#222" stroke="#222" stroke-width="0.22">Pre-progression</text>
<line x1="356.809" y1="209.7" x2="356.809" y2="211.2" stroke="#333" stroke-width="0.6"/>
<text x="356.809" y="217.7" font-size="4.8" text-anchor="middle" font-weight="normal" font-style="normal" fill="#222" stroke="#222" stroke-width="0.22">1</text>
<line x1="367.891" y1="209.7" x2="367.891" y2="211.2" stroke="#333" stroke-width="0.6"/>
<text x="367.891" y="217.7" font-size="4.8" text-anchor="middle" font-weight="normal" font-style="normal" fill="#222" stroke="#222" stroke-width="0.22">2</text>
<line x1="377.825" y1="209.7" x2="377.825" y2="211.2" stroke="#333" stroke-width="0.6"/>
<text x="377.825" y="217.7" font-size="4.8" text-anchor="middle" font-weight="normal" font-style="normal" fill="#222" stroke="#222" stroke-width="0.22">3</text>
<line x1="386.587" y1="209.7" x2="386.587" y2="211.2" stroke="#333" stroke-width="0.6"/>
<text x="386.587" y="217.7" font-size="4.8" text-anchor="middle" font-weight="normal" font-style="normal" fill="#222" stroke="#222" stroke-width="0.22">4</text>
<line x1="394.966" y1="209.7" x2="394.966" y2="211.2" stroke="#333" stroke-width="0.6"/>
<text x="394.966" y="217.7" font-size="4.8" text-anchor="middle" font-weight="normal" font-style="normal" fill="#222" stroke="#222" stroke-width="0.22">5</text>
<line x1="402.895" y1="209.7" x2="402.895" y2="211.2" stroke="#333" stroke-width="0.6"/>
<text x="402.895" y="217.7" font-size="4.8" text-anchor="middle" font-weight="normal" font-style="normal" fill="#222" stroke="#222" stroke-width="0.22">6</text>
<line x1="410.329" y1="209.7" x2="410.329" y2="211.2" stroke="#333" stroke-width="0.6"/>
<text x="410.329" y="217.7" font-size="4.8" text-anchor="middle" font-weight="normal" font-style="normal" fill="#222" stroke="#222" stroke-width="0.22">7</text>
<line x1="417.199" y1="209.7" x2="417.199" y2="211.2" stroke="#333" stroke-width="0.6"/>
<text x="417.199" y="217.7" font-size="4.8" text-anchor="middle" font-weight="normal" font-style="normal" fill="#222" stroke="#222" stroke-width="0.22">8</text>
<line x1="423.664" y1="209.7" x2="423.664" y2="211.2" stroke="#333" stroke-width="0.6"/>
<text x="423.664" y="217.7" font-size="4.8" text-anchor="middle" font-weight="normal" font-style="normal" fill="#222" stroke="#222" stroke-width="0.22">9</text>
<line x1="429.903" y1="209.7" x2="429.903" y2="211.2" stroke="#333" stroke-width="0.6"/>
<text x="429.903" y="217.7" font-size="4.8" text-anchor="middle" font-weight="normal" font-style="normal" fill="#222" stroke="#222" stroke-width="0.22">10</text>
<line x1="442.067" y1="209.7" x2="442.067" y2="211.2" stroke="#333" stroke-width="0.6"/>
<text x="442.067" y="217.7" font-size="4.8" text-anchor="middle" font-weight="normal" font-style="normal" fill="#222" stroke="#222" stroke-width="0.22">12</text>
<line x1="452.676" y1="209.7" x2="452.676" y2="211.2" stroke="#333" stroke-width="0.6"/>
<text x="452.676" y="217.7" font-size="4.8" text-anchor="middle" font-weight="normal" font-style="normal" fill="#222" stroke="#222" stroke-width="0.22">14</text>
<line x1="461.754" y1="209.7" x2="461.754" y2="211.2" stroke="#333" stroke-width="0.6"/>
<text x="461.754" y="217.7" font-size="4.8" text-anchor="middle" font-weight="normal" font-style="normal" fill="#222" stroke="#222" stroke-width="0.22">16</text>
<line x1="469.187" y1="209.7" x2="469.187" y2="211.2" stroke="#333" stroke-width="0.6"/>
<text x="469.187" y="217.7" font-size="4.8" text-anchor="middle" font-weight="normal" font-style="normal" fill="#222" stroke="#222" stroke-width="0.22">18</text>
<line x1="477.521" y1="209.7" x2="477.521" y2="211.2" stroke="#333" stroke-width="0.6"/>
<text x="477.521" y="217.7" font-size="4.8" text-anchor="middle" font-weight="normal" font-style="normal" fill="#222" stroke="#222" stroke-width="0.22">21</text>
<text x="320.8" y="234.7" font-size="7.2" text-anchor="start" font-weight="bold" font-style="normal" fill="#111" stroke="#111" stroke-width="0.22">H</text>
<text x="413.5" y="235.3" font-size="5.6" text-anchor="middle" font-weight="bold" font-style="normal" fill="#111" stroke="#111" stroke-width="0.22">AZA011</text>
<text x="351.6" y="241.5" font-size="4.4" text-anchor="middle" font-weight="normal" font-style="normal" fill="#222" stroke="#222" stroke-width="0.22">Baseline</text>
<text x="393.7" y="241.5" font-size="4.4" text-anchor="middle" font-weight="normal" font-style="normal" fill="#222" stroke="#222" stroke-width="0.22">Remission</text>
<text x="455.8" y="241.5" font-size="4.4" text-anchor="middle" font-weight="normal" font-style="normal" fill="#222" stroke="#222" stroke-width="0.22">Pre-progression</text>
<line x1="351.6" y1="244.5" x2="351.6" y2="250.8" stroke="#111" stroke-width="0.7"/>
<path d="M350.6 249.8L352.6 249.8L351.6 252.1Z" fill="#111"/>
<line x1="393.7" y1="244.5" x2="393.7" y2="250.8" stroke="#111" stroke-width="0.7"/>
<path d="M392.7 249.8L394.7 249.8L393.7 252.1Z" fill="#111"/>
<line x1="455.8" y1="244.5" x2="455.8" y2="250.8" stroke="#111" stroke-width="0.7"/>
<path d="M454.8 249.8L456.8 249.8L455.8 252.1Z" fill="#111"/>
<g transform="translate(-0.9,0.4)">
<line x1="358.9" y1="252.3" x2="358.9" y2="315.1" stroke="#bbb" stroke-width="0.6"/>
<line x1="358.9" y1="252.6" x2="468" y2="252.6" stroke="#8a8a8a" stroke-width="0.6" stroke-dasharray="1.1,0.7"/>
<line x1="358.9" y1="256.1" x2="468" y2="256.1" stroke="#8a8a8a" stroke-width="0.6" stroke-dasharray="1.1,0.7"/>
<path d="M468 252.6L468 250.8L474 254.35L468 257.9L468 256.1" fill="none" stroke="#8a8a8a" stroke-width="0.6" stroke-linejoin="miter"/>
<text x="417" y="256" font-size="4.6" text-anchor="middle" font-weight="normal" font-style="normal" fill="#333" stroke="#333" stroke-width="0.22">Azacitidine</text>
<polyline points="351.6,279.6 370.1,261 382,261.9 393.7,257.4 429.6,261.8" fill="none" stroke="#9ccc7a" stroke-width="0.8" stroke-dasharray="0.9,1" stroke-linejoin="round"/>
<polyline points="439,262.5 455.8,265.3" fill="none" stroke="#9ccc7a" stroke-width="0.8" stroke-dasharray="0.9,1" stroke-linejoin="round"/>
<line x1="455.8" y1="265.3" x2="471.9" y2="281.8" stroke="#9ccc7a" stroke-width="0.8"/>
<circle cx="351.6" cy="279.6" r="0.8" fill="#7ab85a"/>
<circle cx="370.1" cy="261" r="0.8" fill="#7ab85a"/>
<circle cx="382" cy="261.9" r="0.8" fill="#7ab85a"/>
<circle cx="393.7" cy="257.4" r="0.8" fill="#7ab85a"/>
<circle cx="471.9" cy="281.8" r="0.8" fill="#7ab85a"/>
<polyline points="351.6,311.1 370.1,311.1 382,309.7 393.7,309.7 429.6,312.5 436.5,313" fill="none" stroke="#8a7ab8" stroke-width="0.8" stroke-dasharray="0.9,1" stroke-linejoin="round"/>
<polyline points="439,309.1 471.9,301.2" fill="none" stroke="#777" stroke-width="0.8" stroke-dasharray="0.9,1" stroke-linejoin="round"/>
<path d="M351.6 310.1L352.6 311.1L351.6 312.1L350.6 311.1Z" fill="#3b3580"/>
<path d="M370.1 310.1L371.1 311.1L370.1 312.1L369.1 311.1Z" fill="#3b3580"/>
<path d="M393.7 308.7L394.7 309.7L393.7 310.7L392.7 309.7Z" fill="#3b3580"/>
<path d="M471.9 300.2L472.9 301.2L471.9 302.2L470.9 301.2Z" fill="#3b3580"/>
<polyline points="351.6,295.8 370.1,306.1 382,315 429.6,314.6 436.5,304.4" fill="none" stroke="#e5a83e" stroke-width="0.95" stroke-linejoin="round"/>
<polyline points="439,299 455.8,273.3 471.9,266" fill="none" stroke="#e5a83e" stroke-width="0.95" stroke-linejoin="round"/>
<polyline points="351.6,315.1 429.6,315.1 436.5,302.2" fill="none" stroke="#c4182c" stroke-width="1" stroke-linejoin="round"/>
<polyline points="439,287.6 455.8,266 471.9,267.5" fill="none" stroke="#c4182c" stroke-width="1" stroke-linejoin="round"/>
<polyline points="351.6,266.3 370.1,278.7 382,305.2 393.7,302.3 429.6,305.5 436.5,295.8" fill="none" stroke="#2d4d8a" stroke-width="1.05" stroke-linejoin="round"/>
<polyline points="439,289.8 455.8,266.5 471.9,264.5" fill="none" stroke="#2d4d8a" stroke-width="1.05" stroke-linejoin="round"/>
<polyline points="351.6,279.6 370.1,278.1 382,291.4 393.7,297.9 429.6,298 436.5,291" fill="none" stroke="#3a3a3a" stroke-width="1.05" stroke-linejoin="round"/>
<polyline points="439,285 455.8,265.7 471.9,265" fill="none" stroke="#3a3a3a" stroke-width="1.05" stroke-linejoin="round"/>
<circle cx="351.6" cy="279.6" r="0.8" fill="#3a3a3a"/>
<circle cx="370.1" cy="278.1" r="0.8" fill="#3a3a3a"/>
<circle cx="382" cy="291.4" r="0.8" fill="#3a3a3a"/>
<circle cx="393.7" cy="297.9" r="0.8" fill="#3a3a3a"/>
<circle cx="429.6" cy="298" r="0.8" fill="#3a3a3a"/>
<circle cx="370.1" cy="278.7" r="0.8" fill="#2d4d8a"/>
<circle cx="382" cy="305.2" r="0.8" fill="#2d4d8a"/>
<circle cx="393.7" cy="302.3" r="0.8" fill="#2d4d8a"/>
<circle cx="429.6" cy="305.5" r="0.8" fill="#2d4d8a"/>
<line x1="351.6" y1="252" x2="351.6" y2="315.6" stroke="#333" stroke-width="1.1"/>
<line x1="351.1" y1="315.1" x2="436.8" y2="315.1" stroke="#333" stroke-width="1.1"/>
<line x1="438.6" y1="315.1" x2="477.5" y2="315.1" stroke="#333" stroke-width="1.1"/>
<line x1="477.5" y1="252" x2="477.5" y2="283" stroke="#333" stroke-width="1.1"/>
<line x1="477.5" y1="284.6" x2="477.5" y2="315.6" stroke="#333" stroke-width="1.1"/>
<line x1="349.8" y1="315.1" x2="351.6" y2="315.1" stroke="#333" stroke-width="0.8"/>
<text x="348.8" y="316.85" font-size="4.9" text-anchor="end" font-weight="normal" font-style="normal" fill="#222" stroke="#222" stroke-width="0.22">0</text>
<line x1="349.8" y1="294.2" x2="351.6" y2="294.2" stroke="#333" stroke-width="0.8"/>
<text x="348.8" y="295.95" font-size="4.9" text-anchor="end" font-weight="normal" font-style="normal" fill="#222" stroke="#222" stroke-width="0.22">20</text>
<line x1="349.8" y1="273.3" x2="351.6" y2="273.3" stroke="#333" stroke-width="0.8"/>
<text x="348.8" y="275.05" font-size="4.9" text-anchor="end" font-weight="normal" font-style="normal" fill="#222" stroke="#222" stroke-width="0.22">40</text>
<line x1="349.8" y1="252.4" x2="351.6" y2="252.4" stroke="#333" stroke-width="0.8"/>
<text x="348.8" y="254.15" font-size="4.9" text-anchor="end" font-weight="normal" font-style="normal" fill="#222" stroke="#222" stroke-width="0.22">60</text>
<line x1="477.5" y1="253.3" x2="479.3" y2="253.3" stroke="#333" stroke-width="0.8"/>
<text x="480.3" y="255.05" font-size="4.6" text-anchor="start" font-weight="normal" font-style="normal" fill="#222" stroke="#222" stroke-width="0.22">300</text>
<line x1="477.5" y1="264.7" x2="479.3" y2="264.7" stroke="#333" stroke-width="0.8"/>
<text x="480.3" y="266.45" font-size="4.6" text-anchor="start" font-weight="normal" font-style="normal" fill="#222" stroke="#222" stroke-width="0.22">200</text>
<line x1="477.5" y1="276" x2="479.3" y2="276" stroke="#333" stroke-width="0.8"/>
<text x="480.3" y="277.75" font-size="4.6" text-anchor="start" font-weight="normal" font-style="normal" fill="#222" stroke="#222" stroke-width="0.22">100</text>
<line x1="477.5" y1="285.5" x2="479.3" y2="285.5" stroke="#333" stroke-width="0.8"/>
<text x="480.3" y="287.25" font-size="4.6" text-anchor="start" font-weight="normal" font-style="normal" fill="#222" stroke="#222" stroke-width="0.22">15</text>
<line x1="477.5" y1="295.8" x2="479.3" y2="295.8" stroke="#333" stroke-width="0.8"/>
<text x="480.3" y="297.55" font-size="4.6" text-anchor="start" font-weight="normal" font-style="normal" fill="#222" stroke="#222" stroke-width="0.22">10</text>
<line x1="477.5" y1="305.4" x2="479.3" y2="305.4" stroke="#333" stroke-width="0.8"/>
<text x="480.3" y="307.15" font-size="4.6" text-anchor="start" font-weight="normal" font-style="normal" fill="#222" stroke="#222" stroke-width="0.22">5</text>
<line x1="477.5" y1="315.1" x2="479.3" y2="315.1" stroke="#333" stroke-width="0.8"/>
<text x="480.3" y="316.85" font-size="4.6" text-anchor="start" font-weight="normal" font-style="normal" fill="#222" stroke="#222" stroke-width="0.22">0</text>
<line x1="351.6" y1="315.1" x2="351.6" y2="316.9" stroke="#333" stroke-width="0.8"/>
<text x="351.6" y="322.1" font-size="4.9" text-anchor="middle" font-weight="normal" font-style="normal" fill="#222" stroke="#222" stroke-width="0.22">0</text>
<line x1="371.6" y1="315.1" x2="371.6" y2="316.9" stroke="#333" stroke-width="0.8"/>
<text x="371.6" y="322.1" font-size="4.9" text-anchor="middle" font-weight="normal" font-style="normal" fill="#222" stroke="#222" stroke-width="0.22">100</text>
<line x1="393.7" y1="315.1" x2="393.7" y2="316.9" stroke="#333" stroke-width="0.8"/>
<text x="393.7" y="322.1" font-size="4.9" text-anchor="middle" font-weight="normal" font-style="normal" fill="#222" stroke="#222" stroke-width="0.22">200</text>
<line x1="414.4" y1="315.1" x2="414.4" y2="316.9" stroke="#333" stroke-width="0.8"/>
<text x="414.4" y="322.1" font-size="4.9" text-anchor="middle" font-weight="normal" font-style="normal" fill="#222" stroke="#222" stroke-width="0.22">300</text>
<line x1="435.6" y1="315.1" x2="435.6" y2="316.9" stroke="#333" stroke-width="0.8"/>
<text x="435.6" y="322.1" font-size="4.9" text-anchor="middle" font-weight="normal" font-style="normal" fill="#222" stroke="#222" stroke-width="0.22">400</text>
<line x1="448.6" y1="315.1" x2="448.6" y2="316.9" stroke="#333" stroke-width="0.8"/>
<text x="448.6" y="322.1" font-size="4.9" text-anchor="middle" font-weight="normal" font-style="normal" fill="#222" stroke="#222" stroke-width="0.22">1400</text>
<line x1="467.8" y1="315.1" x2="467.8" y2="316.9" stroke="#333" stroke-width="0.8"/>
<text x="467.8" y="322.1" font-size="4.9" text-anchor="middle" font-weight="normal" font-style="normal" fill="#222" stroke="#222" stroke-width="0.22">1500</text>
</g>
<text x="413.3" y="330.8" font-size="4.8" text-anchor="middle" font-weight="normal" font-style="normal" fill="#222" stroke="#222" stroke-width="0.22">Days</text>
<text x="339" y="283.5" font-size="4.8" text-anchor="middle" font-weight="normal" font-style="normal" fill="#222" stroke="#222" stroke-width="0.22" transform="rotate(-90 339 283.5)">MAF (%)</text>
<text x="491.0" y="283.0" font-size="5.2" text-anchor="middle" transform="rotate(90 491.0 283.0)"><tspan fill="#a3cf86">Platelet count</tspan><tspan fill="#83769f"> /marrow blasts</tspan></text>
<line x1="343" y1="340.5" x2="353.4" y2="340.5" stroke="#8a7ab8" stroke-width="0.7" stroke-dasharray="1.2,1"/>
<path d="M348.2 339.5L349.2 340.5L348.2 341.5L347.2 340.5Z" fill="#3b3580"/>
<text x="355.3" y="342" font-size="4.5" text-anchor="start" font-weight="normal" font-style="normal" fill="#83769f" stroke="#83769f" stroke-width="0.22">Marrow blasts (%)</text>
<line x1="406" y1="340.5" x2="414.8" y2="340.5" stroke="#9ccc7a" stroke-width="0.7" stroke-dasharray="1.2,1"/>
<circle cx="410.4" cy="340.5" r="0.8" fill="#7ab85a"/>
<text x="418.3" y="342" font-size="4.5" text-anchor="start" font-weight="normal" font-style="normal" fill="#9ccc7a" stroke="#9ccc7a" stroke-width="0.22">Platelet count (x10⁹/L)</text>
<line x1="343" y1="346.7" x2="353.4" y2="346.7" stroke="#e5a83e" stroke-width="0.8"/>
<circle cx="348.2" cy="346.7" r="0.8" fill="#e5a83e"/>
<text x="356" y="348.2" font-size="4.5" fill="#222" stroke="#222" stroke-width="0.22"><tspan font-style="italic">CBL</tspan> H398Y (Plasma)</text>
<line x1="406" y1="346.7" x2="414.8" y2="346.7" stroke="#3a3a3a" stroke-width="0.8"/>
<circle cx="410.4" cy="346.7" r="0.8" fill="#3a3a3a"/>
<text x="418.3" y="348.2" font-size="4.5" fill="#222" stroke="#222" stroke-width="0.22"><tspan font-style="italic">TET2</tspan> P761Lfs62 (Plasma)</text>
<line x1="343" y1="354.3" x2="353.4" y2="354.3" stroke="#2d4d8a" stroke-width="0.8"/>
<circle cx="348.2" cy="354.3" r="0.8" fill="#2d4d8a"/>
<text x="356" y="355.8" font-size="4.5" fill="#222" stroke="#222" stroke-width="0.22"><tspan font-style="italic">U2AF1</tspan> S34F (Plasma)</text>
<line x1="406" y1="354.3" x2="414.8" y2="354.3" stroke="#c4182c" stroke-width="0.8"/>
<circle cx="410.4" cy="354.3" r="0.8" fill="#c4182c"/>
<text x="418.3" y="355.8" font-size="4.5" fill="#222" stroke="#222" stroke-width="0.22"><tspan font-style="italic">ASXL1</tspan> c.2564_2567del (Plasma)</text></svg>
</body></html>
